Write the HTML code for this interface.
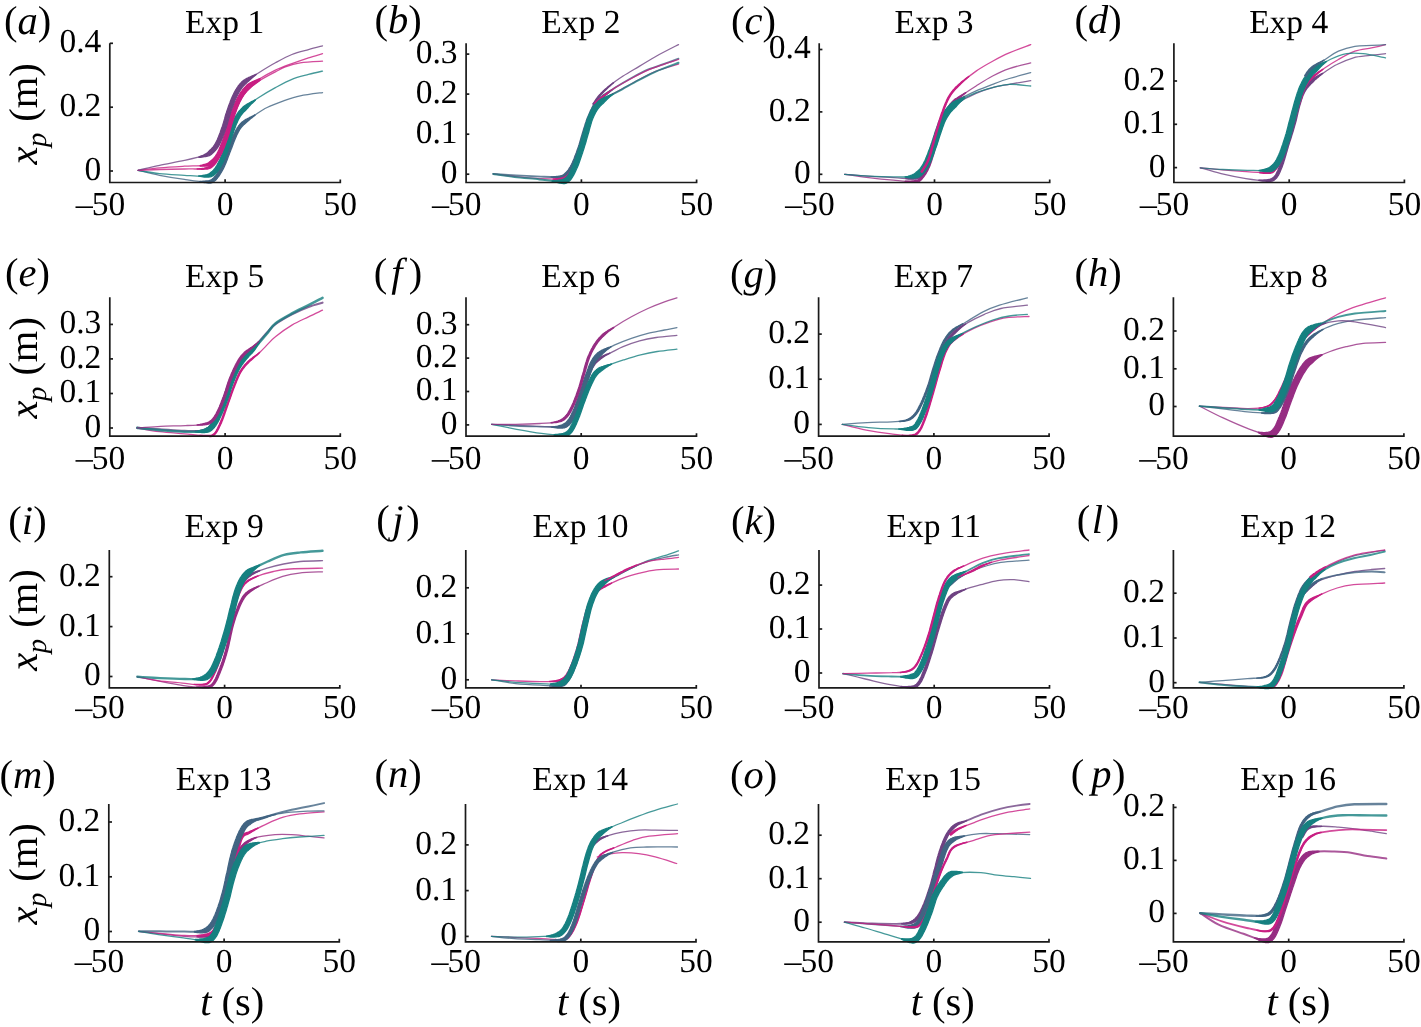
<!DOCTYPE html><html><head><meta charset="utf-8"><style>html,body{margin:0;padding:0;background:#fff;}svg{display:block;will-change:transform}text{font-family:"Liberation Serif",serif;fill:#000;text-rendering:geometricPrecision}</style></head><body>
<svg width="1421" height="1027" viewBox="0 0 1421 1027">
<rect width="1421" height="1027" fill="#fff"/>
<path d="M138.1,170.3C141.7,171.1 151.9,173.7 159.6,175.3C167.3,176.8 176.7,178.3 184.4,179.4C192.1,180.5 201.0,181.9 205.9,181.9C210.9,181.9 211.4,181.9 214.2,179.4C216.9,176.9 220.0,171.8 222.5,167.0C224.9,162.2 226.9,156.0 229.1,150.5C231.3,144.9 233.5,138.3 235.7,133.9C237.9,129.5 239.3,127.0 242.3,124.0C245.3,121.0 249.7,118.5 253.9,115.7C258.0,113.0 262.1,109.9 267.1,107.5C272.1,105.0 278.1,102.8 283.6,100.8C289.2,98.9 293.7,97.3 300.2,95.9C306.7,94.5 318.8,93.1 322.5,92.6" fill="none" stroke="#416482" stroke-width="1.3" stroke-opacity="0.8" stroke-linecap="round" stroke-linejoin="round"/>
<path d="M199.9,181.3 201.6,181.3 203.2,181.2 204.6,181.1 205.9,181.0 207.1,180.9 208.0,180.8 208.9,180.7 209.5,180.5 210.1,180.4 210.5,180.2 210.9,180.0 211.2,179.8 211.6,179.6 212.0,179.3 212.6,178.8 213.2,178.3 213.8,177.7 214.4,177.0 215.1,176.2 215.8,175.3 216.5,174.3 217.2,173.3 217.9,172.2 218.5,171.0 219.2,169.9 219.9,168.7 220.5,167.5 221.1,166.3 221.7,165.1 222.3,163.9 222.8,162.6 223.4,161.2 223.9,159.9 224.5,158.5 225.0,157.0 225.5,155.6 226.0,154.2 226.6,152.7 227.1,151.3 227.7,149.9 228.2,148.5 228.8,147.1 229.3,145.6 229.9,144.2 230.4,142.7 231.0,141.2 231.5,139.8 232.1,138.4 232.6,137.0 233.2,135.7 233.8,134.4 234.3,133.3 234.9,132.2 235.4,131.2 235.9,130.2 236.4,129.3 236.9,128.5 237.4,127.6 238.0,126.8 238.5,126.0 239.1,125.3 239.8,124.5 240.5,123.7 241.2,122.9 242.1,122.1 243.0,121.4 243.9,120.7 244.9,120.0 246.0,119.4 247.1,118.9 248.2,118.3 249.3,117.7 250.4,117.2 251.5,116.6 252.6,116.1 253.7,115.5 254.8,114.9 255.0,115.2 254.0,116.0 253.1,116.8 252.1,117.6 251.1,118.3 250.2,119.1 249.2,119.9 248.3,120.7 247.4,121.4 246.5,122.2 245.7,123.0 244.9,123.7 244.1,124.4 243.4,125.1 242.7,125.8 242.0,126.5 241.5,127.1 240.9,127.8 240.4,128.5 239.9,129.3 239.5,130.0 239.0,130.8 238.5,131.6 238.1,132.6 237.6,133.5 237.0,134.6 236.5,135.7 236.0,136.9 235.4,138.2 234.9,139.5 234.3,140.9 233.8,142.3 233.2,143.8 232.7,145.2 232.1,146.7 231.6,148.2 231.0,149.6 230.5,151.0 229.9,152.4 229.4,153.8 228.9,155.2 228.3,156.6 227.8,158.1 227.3,159.5 226.7,160.9 226.2,162.3 225.6,163.7 225.0,165.1 224.4,166.4 223.8,167.7 223.2,168.9 222.5,170.1 221.8,171.4 221.1,172.6 220.4,173.7 219.7,174.9 219.0,176.0 218.2,177.0 217.5,178.0 216.7,178.9 216.0,179.8 215.2,180.5 214.5,181.1 213.9,181.6 213.3,182.1 212.6,182.5 212.0,182.7 211.3,182.9 210.5,183.0 209.8,183.0 209.0,183.0 208.1,183.0 207.1,182.9 205.9,182.7 204.6,182.6 203.1,182.3 201.5,182.0 199.8,181.7Z" fill="#416482" stroke="#416482" stroke-width="1.3" stroke-linejoin="round"/>
<path d="M138.1,170.3C141.7,170.9 151.9,172.8 159.6,173.6C167.3,174.4 177.0,174.8 184.4,175.3C191.9,175.7 199.6,176.4 204.3,176.1C209.0,175.8 210.1,175.4 212.5,173.6C215.0,171.8 216.9,169.2 219.1,165.3C221.4,161.5 223.8,155.7 225.8,150.5C227.7,145.2 228.8,139.4 230.7,133.9C232.7,128.4 234.9,121.8 237.3,117.4C239.8,113.0 242.0,110.8 245.6,107.5C249.2,104.2 253.9,100.8 258.8,97.5C263.8,94.2 269.9,90.6 275.4,87.6C280.9,84.6 286.4,81.5 291.9,79.3C297.4,77.1 303.4,75.8 308.5,74.4C313.6,73.0 320.2,71.6 322.5,71.1" fill="none" stroke="#168080" stroke-width="1.3" stroke-opacity="0.8" stroke-linecap="round" stroke-linejoin="round"/>
<path d="M198.7,176.0 200.2,175.8 201.7,175.7 203.0,175.4 204.2,175.2 205.3,175.0 206.2,174.8 207.0,174.6 207.7,174.3 208.3,174.1 208.8,173.9 209.2,173.7 209.6,173.4 210.0,173.1 210.4,172.8 210.8,172.4 211.3,172.0 211.9,171.6 212.4,171.2 212.9,170.7 213.4,170.2 213.9,169.6 214.4,169.0 214.9,168.4 215.4,167.7 215.9,166.9 216.4,166.1 216.9,165.3 217.4,164.4 217.9,163.4 218.5,162.3 219.0,161.2 219.6,160.1 220.2,158.9 220.7,157.6 221.3,156.3 221.8,155.0 222.4,153.7 222.9,152.4 223.4,151.1 223.9,149.8 224.3,148.5 224.8,147.2 225.2,145.9 225.6,144.5 225.9,143.2 226.3,141.8 226.7,140.4 227.1,139.0 227.5,137.5 227.9,136.1 228.4,134.7 228.8,133.3 229.3,131.9 229.8,130.4 230.3,129.0 230.9,127.5 231.4,126.0 232.0,124.5 232.5,123.1 233.1,121.6 233.7,120.2 234.3,118.9 234.9,117.6 235.6,116.4 236.2,115.3 236.9,114.3 237.5,113.3 238.2,112.4 238.9,111.5 239.5,110.7 240.3,109.9 241.0,109.1 241.7,108.4 242.5,107.6 243.4,106.8 244.3,106.0 245.4,105.3 246.5,104.6 247.6,103.9 248.8,103.2 250.0,102.5 251.2,101.8 252.5,101.2 253.8,100.5 255.1,99.8 255.3,100.2 254.2,101.2 253.2,102.2 252.2,103.2 251.2,104.1 250.3,105.1 249.4,106.1 248.5,107.0 247.7,108.0 246.9,108.9 246.1,109.7 245.3,110.5 244.6,111.2 243.9,111.9 243.2,112.6 242.6,113.3 242.0,114.0 241.4,114.8 240.8,115.6 240.2,116.4 239.7,117.4 239.1,118.4 238.5,119.4 237.9,120.6 237.4,121.9 236.8,123.2 236.2,124.5 235.7,125.9 235.2,127.4 234.6,128.8 234.1,130.3 233.6,131.7 233.1,133.2 232.6,134.6 232.2,135.9 231.7,137.3 231.3,138.6 230.9,140.0 230.6,141.4 230.2,142.8 229.8,144.2 229.4,145.6 229.0,147.0 228.6,148.4 228.1,149.8 227.6,151.1 227.1,152.5 226.6,153.8 226.1,155.2 225.5,156.5 225.0,157.9 224.4,159.2 223.8,160.5 223.2,161.8 222.6,163.0 222.0,164.2 221.5,165.3 220.9,166.3 220.3,167.3 219.8,168.2 219.2,169.1 218.7,169.9 218.1,170.7 217.5,171.5 216.9,172.2 216.3,172.9 215.7,173.5 215.1,174.1 214.4,174.7 213.7,175.2 213.1,175.7 212.4,176.0 211.8,176.3 211.1,176.6 210.4,176.8 209.7,176.9 209.0,177.0 208.2,177.1 207.4,177.1 206.4,177.1 205.4,177.0 204.3,177.0 203.0,176.8 201.7,176.7 200.2,176.4 198.7,176.2Z" fill="#168080" stroke="#168080" stroke-width="1.3" stroke-linejoin="round"/>
<path d="M138.1,170.3C141.7,170.2 151.9,169.7 159.6,169.5C167.3,169.3 177.0,169.1 184.4,169.0C191.9,168.8 199.6,169.3 204.3,168.6C209.0,168.0 210.1,167.5 212.5,165.3C215.0,163.1 216.9,159.8 219.1,155.4C221.4,151.0 223.6,145.2 225.8,138.9C228.0,132.5 230.2,123.7 232.4,117.4C234.6,111.0 236.5,105.5 239.0,100.8C241.5,96.2 244.0,92.6 247.3,89.3C250.6,86.0 254.2,83.9 258.8,81.0C263.5,78.1 271.0,74.2 275.4,71.9C279.8,69.6 281.2,68.5 285.3,66.9C289.4,65.4 294.0,63.8 300.2,62.8C306.4,61.8 318.8,61.4 322.5,61.2" fill="none" stroke="#c81e82" stroke-width="1.3" stroke-opacity="0.8" stroke-linecap="round" stroke-linejoin="round"/>
<path d="M197.1,168.9 198.7,168.8 200.2,168.6 201.7,168.5 203.0,168.3 204.2,168.1 205.3,167.8 206.2,167.6 207.0,167.4 207.7,167.2 208.3,167.0 208.9,166.7 209.4,166.5 209.8,166.2 210.3,165.9 210.8,165.5 211.3,165.1 211.9,164.6 212.4,164.1 213.0,163.5 213.5,162.8 214.1,162.2 214.6,161.4 215.1,160.7 215.6,159.8 216.1,159.0 216.7,158.0 217.2,157.1 217.7,156.0 218.3,155.0 218.8,153.9 219.3,152.7 219.9,151.5 220.4,150.2 221.0,148.9 221.5,147.5 222.1,146.1 222.6,144.7 223.2,143.2 223.7,141.7 224.3,140.1 224.8,138.6 225.4,136.9 225.9,135.2 226.5,133.4 227.0,131.6 227.6,129.7 228.1,127.9 228.7,126.0 229.2,124.1 229.8,122.2 230.3,120.4 230.9,118.7 231.4,117.1 232.0,115.5 232.5,113.9 233.1,112.4 233.6,111.0 234.1,109.5 234.7,108.1 235.2,106.8 235.7,105.4 236.3,104.1 236.9,102.8 237.5,101.6 238.1,100.4 238.7,99.2 239.4,98.1 240.0,97.0 240.7,96.0 241.3,94.9 242.0,94.0 242.7,93.0 243.4,92.1 244.2,91.2 244.9,90.3 245.7,89.4 246.6,88.6 247.4,87.7 248.3,86.9 249.2,86.2 250.2,85.6 251.1,85.0 252.1,84.4 253.1,83.8 254.2,83.2 255.3,82.7 256.4,82.1 257.5,81.5 258.7,80.8 260.0,80.2 260.1,80.3 258.9,81.2 257.8,81.9 256.8,82.7 255.8,83.4 254.8,84.2 253.8,84.9 252.9,85.6 252.1,86.3 251.2,87.0 250.4,87.7 249.6,88.5 248.8,89.2 248.0,90.0 247.2,90.8 246.4,91.6 245.7,92.5 245.0,93.3 244.3,94.2 243.6,95.1 243.0,96.1 242.3,97.0 241.7,98.0 241.1,99.1 240.5,100.2 239.9,101.3 239.3,102.5 238.7,103.7 238.1,104.9 237.6,106.2 237.0,107.5 236.5,108.9 236.0,110.2 235.5,111.7 234.9,113.1 234.4,114.6 233.9,116.1 233.3,117.7 232.8,119.3 232.2,121.0 231.7,122.8 231.1,124.6 230.6,126.5 230.0,128.4 229.5,130.3 228.9,132.2 228.4,134.0 227.8,135.8 227.3,137.6 226.7,139.2 226.2,140.8 225.6,142.3 225.0,143.9 224.5,145.4 223.9,146.8 223.4,148.2 222.8,149.6 222.3,151.0 221.7,152.3 221.2,153.5 220.6,154.7 220.0,155.9 219.5,157.0 218.9,158.0 218.4,159.0 217.9,160.0 217.3,160.9 216.8,161.7 216.2,162.6 215.7,163.4 215.1,164.1 214.5,164.8 213.8,165.5 213.2,166.1 212.6,166.6 212.0,167.1 211.4,167.5 210.8,167.9 210.2,168.2 209.6,168.5 208.9,168.7 208.2,168.8 207.3,169.0 206.5,169.1 205.5,169.1 204.3,169.2 203.1,169.3 201.7,169.3 200.2,169.2 198.7,169.1 197.1,169.0Z" fill="#c81e82" stroke="#c81e82" stroke-width="1.3" stroke-linejoin="round"/>
<path d="M138.1,170.3C141.7,169.9 151.9,168.5 159.6,167.8C167.3,167.1 177.0,166.6 184.4,166.2C191.9,165.8 199.6,166.0 204.3,165.3C209.0,164.7 210.1,164.0 212.5,162.0C215.0,160.1 216.9,157.9 219.1,153.8C221.4,149.6 223.6,143.6 225.8,137.2C228.0,130.9 230.2,122.1 232.4,115.7C234.6,109.4 236.5,103.9 239.0,99.2C241.5,94.5 244.0,90.9 247.3,87.6C250.6,84.3 254.2,82.2 258.8,79.3C263.5,76.5 269.9,72.9 275.4,70.2C280.9,67.6 286.4,65.7 291.9,63.6C297.4,61.6 303.4,59.5 308.5,57.8C313.6,56.2 320.2,54.4 322.5,53.7" fill="none" stroke="#c81e82" stroke-width="1.3" stroke-opacity="0.8" stroke-linecap="round" stroke-linejoin="round"/>
<path d="M200.2,165.4 201.7,165.2 203.0,164.8 204.1,164.5 205.2,164.2 206.1,163.9 206.9,163.6 207.6,163.3 208.1,163.0 208.6,162.7 209.0,162.4 209.5,162.1 209.8,161.7 210.3,161.3 210.7,160.9 211.3,160.5 211.9,160.0 212.4,159.5 212.9,159.1 213.4,158.6 213.9,158.0 214.4,157.5 214.9,156.8 215.4,156.2 215.9,155.4 216.4,154.6 216.9,153.8 217.4,152.8 217.9,151.8 218.4,150.7 219.0,149.5 219.5,148.3 220.1,147.0 220.6,145.6 221.1,144.2 221.7,142.7 222.2,141.2 222.8,139.7 223.3,138.1 223.9,136.6 224.4,135.0 225.0,133.3 225.5,131.5 226.1,129.7 226.6,127.8 227.2,125.9 227.7,124.0 228.3,122.1 228.8,120.3 229.4,118.5 229.9,116.7 230.5,115.1 231.0,113.5 231.6,112.0 232.1,110.5 232.6,109.0 233.2,107.5 233.7,106.1 234.3,104.7 234.8,103.4 235.4,102.0 236.0,100.8 236.6,99.5 237.2,98.3 237.9,97.1 238.5,95.9 239.2,94.8 239.8,93.8 240.5,92.7 241.2,91.7 241.9,90.8 242.6,89.8 243.4,88.9 244.2,88.0 245.0,87.1 245.9,86.2 246.7,85.3 247.6,84.5 248.6,83.8 249.6,83.2 250.7,82.7 251.7,82.1 252.8,81.6 253.9,81.1 255.0,80.6 256.2,80.1 257.4,79.6 258.6,79.0 260.0,78.5 260.1,78.7 259.0,79.7 258.0,80.5 257.0,81.4 256.0,82.2 255.1,83.0 254.2,83.7 253.3,84.5 252.5,85.3 251.8,86.0 251.0,86.8 250.3,87.6 249.5,88.3 248.7,89.0 247.9,89.8 247.2,90.6 246.5,91.4 245.8,92.3 245.1,93.2 244.4,94.0 243.8,95.0 243.2,95.9 242.6,96.9 242.0,97.9 241.4,99.0 240.8,100.1 240.2,101.3 239.6,102.4 239.1,103.7 238.5,104.9 238.0,106.2 237.4,107.6 236.9,108.9 236.4,110.3 235.9,111.8 235.3,113.3 234.8,114.8 234.3,116.4 233.7,118.0 233.2,119.7 232.6,121.5 232.1,123.3 231.5,125.1 231.0,127.0 230.4,128.9 229.9,130.8 229.3,132.7 228.8,134.5 228.2,136.2 227.7,137.9 227.1,139.5 226.5,141.0 226.0,142.6 225.4,144.1 224.9,145.6 224.3,147.0 223.8,148.5 223.2,149.8 222.6,151.1 222.1,152.4 221.5,153.6 220.9,154.7 220.3,155.7 219.8,156.7 219.2,157.6 218.6,158.5 218.1,159.2 217.5,160.0 216.9,160.7 216.3,161.3 215.7,161.9 215.1,162.5 214.4,163.1 213.8,163.6 213.1,164.1 212.5,164.5 211.9,164.8 211.2,165.1 210.5,165.4 209.8,165.6 209.1,165.8 208.3,165.9 207.5,166.0 206.6,166.1 205.5,166.1 204.4,166.2 203.1,166.1 201.7,166.1 200.2,166.0Z" fill="#c81e82" stroke="#c81e82" stroke-width="1.3" stroke-linejoin="round"/>
<path d="M138.1,170.3C141.7,169.5 151.9,167.0 159.6,165.3C167.3,163.7 177.0,162.0 184.4,160.4C191.9,158.8 199.9,157.1 204.3,155.7C208.7,154.4 208.7,154.1 210.9,152.1C213.1,150.1 215.3,148.0 217.5,143.8C219.7,139.7 222.2,132.8 224.1,127.3C226.0,121.8 227.1,116.3 229.1,110.8C231.0,105.3 233.2,98.9 235.7,94.2C238.2,89.5 240.1,86.2 244.0,82.7C247.8,79.1 253.6,76.0 258.8,72.7C264.1,69.4 269.9,65.8 275.4,62.8C280.9,59.8 286.4,56.7 291.9,54.5C297.4,52.3 303.4,51.0 308.5,49.6C313.6,48.1 320.2,46.5 322.5,45.9" fill="none" stroke="#6e4282" stroke-width="1.3" stroke-opacity="0.8" stroke-linecap="round" stroke-linejoin="round"/>
<path d="M198.8,157.0 200.2,156.4 201.6,155.8 202.9,155.3 204.0,154.8 204.9,154.3 205.7,153.9 206.3,153.5 206.8,153.2 207.2,153.0 207.5,152.7 207.8,152.5 208.0,152.2 208.3,151.9 208.6,151.5 209.0,151.1 209.5,150.6 210.1,150.1 210.6,149.6 211.1,149.1 211.6,148.6 212.2,148.1 212.7,147.5 213.2,146.9 213.7,146.2 214.2,145.5 214.7,144.7 215.2,143.8 215.7,142.9 216.3,141.9 216.8,140.7 217.4,139.5 217.9,138.2 218.5,136.8 219.0,135.4 219.6,133.9 220.2,132.4 220.7,130.9 221.2,129.5 221.7,128.0 222.2,126.7 222.7,125.3 223.1,124.0 223.5,122.6 223.9,121.2 224.3,119.9 224.7,118.5 225.0,117.1 225.4,115.7 225.8,114.3 226.3,112.9 226.7,111.5 227.2,110.1 227.7,108.7 228.2,107.3 228.7,105.8 229.2,104.4 229.8,102.9 230.3,101.5 230.9,100.0 231.5,98.6 232.0,97.2 232.7,95.9 233.3,94.5 233.9,93.3 234.5,92.1 235.1,91.0 235.7,89.9 236.4,88.9 237.0,87.9 237.7,86.9 238.3,85.9 239.1,85.0 239.9,84.0 240.7,83.1 241.6,82.1 242.6,81.2 243.7,80.2 244.9,79.5 246.2,78.7 247.6,78.1 248.9,77.4 250.4,76.8 251.8,76.1 253.2,75.5 254.7,74.9 256.1,74.3 256.2,74.4 255.0,75.4 253.8,76.4 252.6,77.4 251.4,78.4 250.3,79.4 249.2,80.4 248.1,81.4 247.1,82.3 246.2,83.3 245.3,84.1 244.4,85.0 243.6,85.8 242.9,86.6 242.2,87.4 241.6,88.3 241.0,89.2 240.4,90.0 239.8,91.0 239.2,91.9 238.6,93.0 238.1,94.0 237.5,95.2 236.9,96.3 236.3,97.5 235.7,98.8 235.1,100.1 234.6,101.5 234.0,102.9 233.5,104.3 233.0,105.8 232.5,107.2 231.9,108.6 231.4,110.0 231.0,111.4 230.5,112.8 230.1,114.1 229.7,115.5 229.3,116.8 228.9,118.2 228.5,119.6 228.1,120.9 227.7,122.3 227.3,123.7 226.9,125.1 226.5,126.5 226.0,128.0 225.5,129.4 225.0,130.8 224.5,132.3 223.9,133.8 223.3,135.3 222.8,136.8 222.2,138.3 221.6,139.7 221.0,141.1 220.4,142.4 219.8,143.6 219.3,144.8 218.7,145.8 218.1,146.8 217.5,147.7 216.9,148.6 216.3,149.3 215.7,150.1 215.1,150.8 214.5,151.4 213.9,152.0 213.4,152.5 212.8,153.1 212.2,153.6 211.7,154.1 211.2,154.4 210.8,154.7 210.3,155.1 209.8,155.3 209.3,155.6 208.7,155.8 208.1,156.0 207.4,156.2 206.6,156.4 205.6,156.6 204.6,156.7 203.3,156.9 202.0,157.1 200.5,157.3 198.9,157.4Z" fill="#6e4282" stroke="#6e4282" stroke-width="1.3" stroke-linejoin="round"/>
<path d="M109.8,43.3 V182.5 H340.3 V179.5" fill="none" stroke="#1a1a1a" stroke-width="1.7"/>
<line x1="109.8" y1="171.0" x2="113.0" y2="171.0" stroke="#1a1a1a" stroke-width="1.7"/>
<text x="101.3" y="179.9" font-size="33.5" text-anchor="end" transform="matrix(1 0 0 1 0.00 0.00)">0</text>
<line x1="109.8" y1="107.2" x2="113.0" y2="107.2" stroke="#1a1a1a" stroke-width="1.7"/>
<text x="101.3" y="116.1" font-size="33.5" text-anchor="end" transform="matrix(1 0 0 1 0.00 0.00)">0.2</text>
<line x1="109.8" y1="43.3" x2="113.0" y2="43.3" stroke="#1a1a1a" stroke-width="1.7"/>
<text x="101.3" y="52.2" font-size="33.5" text-anchor="end" transform="matrix(1 0 0 1 0.00 0.00)">0.4</text>
<line x1="225.1" y1="182.5" x2="225.1" y2="179.3" stroke="#1a1a1a" stroke-width="1.7"/>
<text x="225.1" y="215.1" font-size="33.5" text-anchor="middle" transform="matrix(1 0 0 1 0.00 0.00)">0</text>
<text x="340.3" y="215.1" font-size="33.5" text-anchor="middle" transform="matrix(1 0 0 1 0.00 0.00)">50</text>
<text x="108.5" y="215.1" font-size="33.5" text-anchor="middle" transform="matrix(1 0 0 1 0.00 0.00)">50</text>
<rect x="75.5" y="206.4" width="17.5" height="1.6" fill="#000"/>
<text x="224.6" y="32.8" font-size="33.5" text-anchor="middle" transform="matrix(1 0 0 1 0.00 0.00)">Exp 1</text>
<text x="27.5" y="34.3" font-size="40.5" text-anchor="middle">(<tspan font-style="italic" dx="0">a</tspan><tspan dx="0">)</tspan></text>
<path d="M493.3,173.9C497.1,174.2 508.2,174.8 516.1,175.3C524.0,175.7 533.7,176.3 540.9,176.6C548.1,176.9 555.0,177.3 559.1,176.9C563.2,176.6 563.5,176.4 565.7,174.4C567.9,172.5 570.1,169.6 572.3,165.3C574.5,161.1 577.0,154.3 579.0,148.8C580.9,143.3 582.3,137.5 583.9,132.3C585.6,127.0 586.9,122.1 588.9,117.4C590.8,112.7 593.0,107.7 595.5,104.2C598.0,100.6 600.5,98.6 603.8,95.9C607.1,93.1 610.6,90.6 615.3,87.6C620.0,84.6 626.4,80.7 631.9,77.7C637.4,74.7 642.9,71.8 648.4,69.4C653.9,67.1 659.9,65.4 664.9,63.6C670.0,61.8 676.2,59.5 678.5,58.7" fill="none" stroke="#416482" stroke-width="1.8" stroke-opacity="0.8" stroke-linecap="round" stroke-linejoin="round"/>
<path d="M551.2,176.9 552.7,176.8 554.1,176.7 555.5,176.6 556.8,176.4 558.0,176.3 559.0,176.1 560.0,176.0 560.8,175.8 561.4,175.7 562.0,175.5 562.4,175.4 562.7,175.2 563.0,175.0 563.3,174.8 563.6,174.6 564.0,174.3 564.4,174.0 564.9,173.5 565.4,173.1 566.0,172.6 566.5,172.0 567.0,171.4 567.5,170.8 568.1,170.1 568.6,169.3 569.1,168.5 569.7,167.7 570.2,166.8 570.7,165.8 571.3,164.8 571.8,163.7 572.4,162.5 572.9,161.3 573.5,159.9 574.1,158.5 574.6,157.1 575.2,155.6 575.7,154.2 576.3,152.7 576.8,151.2 577.3,149.8 577.8,148.4 578.3,147.0 578.7,145.7 579.2,144.3 579.6,142.9 580.0,141.5 580.4,140.1 580.8,138.7 581.2,137.3 581.6,136.0 582.0,134.6 582.4,133.2 582.8,131.9 583.2,130.6 583.6,129.3 584.0,128.0 584.4,126.8 584.8,125.5 585.1,124.3 585.6,123.0 586.0,121.8 586.4,120.5 586.8,119.3 587.3,118.1 587.8,116.9 588.3,115.7 588.8,114.6 589.3,113.4 589.8,112.2 590.3,111.0 590.9,109.8 591.5,108.7 592.0,107.6 592.6,106.5 593.2,105.4 593.9,104.4 594.5,103.5 595.1,102.6 595.8,101.7 596.5,100.9 597.1,100.2 597.8,99.5 598.5,98.8 599.2,98.2 599.9,97.6 600.6,96.9 601.4,96.3 602.3,95.7 603.1,95.1 604.0,94.5 605.0,93.9 605.9,93.3 606.8,92.7 607.8,92.1 608.8,91.5 609.8,90.9 610.9,90.3 612.0,89.7 612.1,89.9 611.1,90.6 610.2,91.4 609.3,92.2 608.4,92.9 607.5,93.7 606.7,94.4 605.9,95.1 605.1,95.9 604.4,96.6 603.6,97.4 602.9,98.1 602.2,98.7 601.5,99.4 600.8,100.0 600.1,100.6 599.5,101.2 598.9,101.8 598.3,102.5 597.7,103.2 597.1,104.0 596.5,104.8 595.9,105.7 595.3,106.7 594.7,107.7 594.2,108.7 593.6,109.8 593.1,110.9 592.5,112.0 592.0,113.2 591.5,114.3 591.0,115.5 590.5,116.7 590.0,117.8 589.5,119.0 589.1,120.2 588.6,121.3 588.2,122.5 587.8,123.8 587.4,125.0 587.0,126.2 586.7,127.5 586.3,128.7 585.9,130.0 585.5,131.3 585.1,132.6 584.7,133.9 584.3,135.3 583.9,136.6 583.5,138.0 583.1,139.4 582.7,140.8 582.3,142.2 581.9,143.6 581.5,145.0 581.0,146.4 580.6,147.8 580.1,149.2 579.6,150.6 579.1,152.1 578.5,153.5 578.0,155.0 577.4,156.5 576.9,158.0 576.3,159.4 575.7,160.8 575.1,162.2 574.6,163.5 574.0,164.7 573.4,165.9 572.8,167.0 572.3,168.0 571.7,168.9 571.1,169.8 570.6,170.7 570.0,171.5 569.4,172.2 568.8,172.9 568.3,173.6 567.7,174.2 567.1,174.8 566.5,175.3 566.0,175.8 565.5,176.2 565.0,176.6 564.6,176.9 564.1,177.1 563.5,177.3 563.0,177.5 562.4,177.6 561.7,177.6 561.0,177.7 560.1,177.7 559.2,177.7 558.1,177.7 556.8,177.6 555.5,177.5 554.1,177.4 552.7,177.3 551.1,177.1Z" fill="#416482" stroke="#416482" stroke-width="1.3" stroke-linejoin="round"/>
<path d="M593.3,104.2C594.4,102.6 596.9,98.4 600.0,95.1C603.0,91.7 607.7,87.5 611.5,84.3C615.4,81.1 618.4,79.1 623.1,76.0C627.8,73.0 634.1,69.4 639.6,66.1C645.2,62.8 649.7,59.8 656.2,56.2C662.7,52.6 674.8,46.5 678.5,44.6" fill="none" stroke="#6e4282" stroke-width="1.3" stroke-opacity="0.8" stroke-linecap="round" stroke-linejoin="round"/>
<path d="M592.9,103.9 593.2,103.4 593.6,102.9 594.0,102.3 594.5,101.6 595.0,100.8 595.5,100.0 596.1,99.1 596.7,98.3 597.4,97.4 598.1,96.5 598.8,95.6 599.6,94.7 600.4,93.9 601.2,93.0 602.1,92.1 603.1,91.1 604.1,90.2 605.1,89.3 606.2,88.4 607.3,87.5 608.3,86.6 609.4,85.8 610.4,85.0 611.4,84.2 612.4,83.4 613.4,82.7 613.5,82.9 612.6,83.6 611.6,84.4 610.7,85.3 609.7,86.2 608.7,87.1 607.7,88.0 606.7,89.0 605.7,90.0 604.8,90.9 603.8,91.9 602.9,92.8 602.0,93.7 601.1,94.6 600.3,95.4 599.6,96.2 598.9,97.1 598.2,98.0 597.5,98.8 596.9,99.7 596.3,100.6 595.8,101.4 595.3,102.1 594.8,102.8 594.4,103.5 594.1,104.0 593.7,104.4Z" fill="#6e4282" stroke="#6e4282" stroke-width="1.3" stroke-linejoin="round"/>
<path d="M595.0,103.3C596.4,102.1 600.0,98.8 603.3,96.2C606.6,93.6 610.2,90.9 614.8,87.9C619.5,85.0 625.9,81.5 631.4,78.5C636.9,75.6 642.4,72.6 647.9,70.2C653.4,67.9 659.4,65.9 664.5,64.1C669.6,62.3 676.2,60.3 678.5,59.5" fill="none" stroke="#c81e82" stroke-width="1.3" stroke-opacity="0.8" stroke-linecap="round" stroke-linejoin="round"/>
<path d="M594.7,102.9 595.1,102.6 595.5,102.2 596.1,101.7 596.7,101.2 597.4,100.6 598.1,99.9 598.8,99.2 599.6,98.6 600.5,97.9 601.3,97.2 602.2,96.6 603.1,96.0 603.9,95.3 604.8,94.7 605.7,94.1 606.6,93.5 607.5,92.8 608.5,92.2 608.6,92.3 607.7,93.0 606.8,93.7 605.9,94.4 605.1,95.1 604.3,95.8 603.5,96.5 602.7,97.1 601.8,97.9 601.0,98.6 600.3,99.3 599.5,100.0 598.7,100.7 598.0,101.3 597.3,101.9 596.7,102.4 596.2,102.9 595.7,103.4 595.3,103.7Z" fill="#c81e82" stroke="#c81e82" stroke-width="1.3" stroke-linejoin="round"/>
<path d="M493.3,173.9C497.0,174.4 507.8,175.8 515.6,176.6C523.5,177.4 533.0,178.2 540.4,178.6C547.9,179.0 555.7,179.3 560.3,178.9C564.8,178.5 565.4,178.2 567.7,176.1C570.0,174.0 572.1,170.7 574.3,166.2C576.5,161.6 579.0,154.5 580.9,148.8C582.9,143.2 584.2,137.6 585.9,132.3C587.6,126.9 588.9,121.1 590.9,116.6C592.8,112.0 594.9,108.1 597.5,105.0C600.1,101.8 602.3,100.3 606.6,97.5C610.8,94.8 617.6,91.5 623.1,88.4C628.6,85.4 634.1,82.2 639.6,79.3C645.2,76.5 649.7,73.6 656.2,71.1C662.7,68.5 674.8,65.3 678.5,64.1" fill="none" stroke="#c81e82" stroke-width="1.3" stroke-opacity="0.8" stroke-linecap="round" stroke-linejoin="round"/>
<path d="M553.1,178.9 554.8,178.8 556.3,178.7 557.7,178.6 559.0,178.4 560.2,178.3 561.2,178.1 562.1,177.9 562.9,177.8 563.5,177.6 564.0,177.4 564.5,177.2 564.8,177.0 565.2,176.8 565.6,176.6 566.0,176.2 566.5,175.8 567.0,175.4 567.6,174.8 568.1,174.3 568.6,173.6 569.2,173.0 569.7,172.3 570.2,171.5 570.8,170.7 571.3,169.8 571.8,168.9 572.3,167.9 572.9,166.8 573.4,165.7 574.0,164.6 574.5,163.3 575.1,162.0 575.7,160.5 576.2,159.1 576.8,157.6 577.4,156.0 577.9,154.5 578.5,152.9 579.0,151.4 579.5,149.9 580.0,148.5 580.5,147.1 580.9,145.7 581.3,144.3 581.8,142.9 582.2,141.5 582.6,140.2 583.0,138.8 583.3,137.4 583.7,136.0 584.1,134.7 584.5,133.3 584.9,132.0 585.3,130.6 585.7,129.3 586.1,127.9 586.5,126.5 586.9,125.2 587.3,123.8 587.7,122.5 588.1,121.1 588.6,119.9 589.0,118.6 589.5,117.4 589.9,116.2 590.4,115.0 590.9,113.9 591.4,112.8 592.0,111.8 592.5,110.8 593.0,109.8 593.6,108.8 594.2,107.8 594.8,106.9 595.4,106.0 596.0,105.2 596.7,104.3 597.4,103.6 598.0,102.8 598.7,102.2 599.4,101.5 600.1,100.9 600.8,100.3 601.5,99.8 602.4,99.3 603.2,98.7 604.2,98.2 605.2,97.6 606.3,97.0 607.4,96.4 608.7,95.8 610.0,95.1 611.4,94.5 612.9,93.8 613.0,93.9 611.6,94.8 610.3,95.6 609.1,96.4 607.9,97.3 606.9,98.0 605.9,98.8 605.0,99.4 604.2,100.1 603.4,100.7 602.7,101.3 602.0,101.9 601.4,102.4 600.7,103.0 600.1,103.6 599.5,104.2 598.9,104.9 598.2,105.6 597.6,106.4 597.0,107.2 596.4,108.0 595.9,108.9 595.3,109.8 594.8,110.7 594.3,111.7 593.7,112.7 593.2,113.7 592.7,114.8 592.3,115.8 591.8,116.9 591.3,118.1 590.9,119.3 590.5,120.5 590.0,121.8 589.6,123.1 589.2,124.4 588.8,125.7 588.5,127.1 588.1,128.5 587.7,129.8 587.3,131.2 586.9,132.6 586.4,133.9 586.0,135.2 585.7,136.6 585.3,138.0 584.9,139.3 584.5,140.7 584.1,142.1 583.7,143.5 583.2,144.9 582.8,146.3 582.4,147.7 581.9,149.1 581.4,150.6 580.9,152.1 580.3,153.6 579.8,155.1 579.2,156.7 578.7,158.2 578.1,159.8 577.5,161.3 576.9,162.7 576.4,164.1 575.8,165.4 575.2,166.6 574.7,167.7 574.1,168.8 573.6,169.8 573.0,170.8 572.5,171.7 571.9,172.6 571.3,173.4 570.8,174.2 570.2,174.9 569.6,175.6 569.0,176.2 568.4,176.8 567.8,177.3 567.3,177.8 566.8,178.2 566.3,178.5 565.7,178.8 565.2,179.0 564.5,179.2 563.9,179.3 563.2,179.4 562.3,179.5 561.4,179.5 560.3,179.5 559.1,179.5 557.7,179.5 556.3,179.4 554.8,179.3 553.1,179.2Z" fill="#c81e82" stroke="#c81e82" stroke-width="1.3" stroke-linejoin="round"/>
<path d="M493.3,173.9C496.8,174.4 506.9,176.0 514.6,176.9C522.3,177.8 532.0,178.6 539.4,179.4C546.9,180.2 554.6,181.5 559.3,181.5C564.0,181.5 565.1,181.5 567.5,179.4C570.0,177.2 572.0,173.5 574.2,168.6C576.4,163.8 578.8,156.2 580.8,150.5C582.7,144.7 584.1,139.4 585.7,133.9C587.4,128.4 588.8,122.1 590.7,117.4C592.6,112.7 594.6,109.1 597.3,105.8C600.1,102.5 603.1,100.3 607.2,97.5C611.4,94.8 616.9,92.2 622.1,89.3C627.4,86.4 633.1,83.1 638.7,80.2C644.2,77.3 648.5,74.8 655.2,71.9C661.8,69.0 674.6,64.3 678.5,62.8" fill="none" stroke="#168080" stroke-width="2.0" stroke-opacity="0.8" stroke-linecap="round" stroke-linejoin="round"/>
<path d="M552.1,180.8 553.7,180.7 555.3,180.6 556.8,180.5 558.1,180.3 559.3,180.1 560.4,179.9 561.3,179.8 562.1,179.6 562.8,179.4 563.3,179.2 563.7,179.1 564.0,178.9 564.3,178.7 564.7,178.6 565.0,178.3 565.5,178.0 566.0,177.6 566.4,177.1 566.9,176.6 567.4,176.0 567.9,175.4 568.4,174.6 568.9,173.8 569.4,172.9 569.9,172.0 570.4,171.0 570.9,169.9 571.4,168.8 572.0,167.7 572.5,166.4 573.1,165.1 573.6,163.7 574.2,162.2 574.7,160.7 575.3,159.1 575.9,157.5 576.4,155.9 577.0,154.3 577.5,152.7 578.0,151.2 578.5,149.7 579.0,148.3 579.4,146.9 579.8,145.5 580.2,144.1 580.7,142.8 581.1,141.4 581.4,140.1 581.8,138.7 582.2,137.3 582.6,136.0 583.0,134.6 583.4,133.2 583.8,131.9 584.2,130.5 584.6,129.0 585.0,127.6 585.4,126.1 585.8,124.7 586.2,123.3 586.6,121.8 587.1,120.4 587.5,119.1 588.0,117.7 588.5,116.5 589.0,115.3 589.5,114.1 590.0,113.0 590.5,112.0 591.0,110.9 591.6,109.9 592.2,108.9 592.8,107.9 593.4,107.0 594.1,106.1 594.7,105.2 595.5,104.3 596.2,103.4 597.0,102.6 597.8,101.8 598.6,101.0 599.4,100.3 600.3,99.6 601.2,99.1 602.2,98.5 603.3,98.0 604.3,97.5 605.4,97.0 606.6,96.5 607.8,96.0 609.0,95.5 610.3,95.0 611.6,94.5 613.0,94.1 613.0,94.2 611.9,95.1 610.8,96.0 609.8,96.8 608.8,97.7 607.9,98.6 607.0,99.4 606.2,100.2 605.4,101.0 604.6,101.8 603.9,102.6 603.3,103.3 602.5,103.9 601.8,104.6 601.1,105.2 600.4,105.9 599.8,106.6 599.2,107.3 598.5,108.1 597.9,108.9 597.4,109.7 596.8,110.5 596.3,111.4 595.8,112.3 595.3,113.2 594.8,114.1 594.3,115.1 593.9,116.1 593.4,117.2 592.9,118.3 592.5,119.4 592.0,120.6 591.6,121.9 591.2,123.2 590.8,124.6 590.4,126.0 590.0,127.4 589.6,128.8 589.2,130.3 588.9,131.7 588.4,133.2 588.0,134.6 587.6,136.0 587.2,137.3 586.8,138.7 586.4,140.0 586.1,141.4 585.7,142.8 585.3,144.1 584.8,145.5 584.4,146.9 584.0,148.3 583.5,149.8 583.0,151.2 582.6,152.7 582.0,154.2 581.5,155.8 581.0,157.4 580.4,159.1 579.8,160.7 579.3,162.3 578.7,163.9 578.1,165.5 577.5,166.9 576.9,168.3 576.3,169.6 575.8,170.8 575.2,172.0 574.7,173.1 574.1,174.2 573.6,175.2 573.0,176.2 572.4,177.2 571.8,178.1 571.2,179.0 570.6,179.8 569.9,180.5 569.1,181.2 568.4,181.8 567.8,182.3 567.1,182.7 566.3,183.1 565.6,183.4 564.7,183.5 563.9,183.5 563.1,183.5 562.3,183.4 561.4,183.3 560.4,183.2 559.3,183.0 558.0,182.7 556.6,182.4 555.2,182.1 553.6,181.6 552.1,181.2Z" fill="#168080" stroke="#168080" stroke-width="1.3" stroke-linejoin="round"/>
<path d="M466.1,43.3 V182.5 H696.6 V179.5" fill="none" stroke="#1a1a1a" stroke-width="1.7"/>
<line x1="466.1" y1="174.2" x2="469.3" y2="174.2" stroke="#1a1a1a" stroke-width="1.7"/>
<text x="457.6" y="183.1" font-size="33.5" text-anchor="end" transform="matrix(1 0 0 1 0.00 0.00)">0</text>
<line x1="466.1" y1="134.2" x2="469.3" y2="134.2" stroke="#1a1a1a" stroke-width="1.7"/>
<text x="457.6" y="143.1" font-size="33.5" text-anchor="end" transform="matrix(1 0 0 1 0.00 0.00)">0.1</text>
<line x1="466.1" y1="94.1" x2="469.3" y2="94.1" stroke="#1a1a1a" stroke-width="1.7"/>
<text x="457.6" y="103.0" font-size="33.5" text-anchor="end" transform="matrix(1 0 0 1 0.00 0.00)">0.2</text>
<line x1="466.1" y1="54.1" x2="469.3" y2="54.1" stroke="#1a1a1a" stroke-width="1.7"/>
<text x="457.6" y="63.0" font-size="33.5" text-anchor="end" transform="matrix(1 0 0 1 0.00 0.00)">0.3</text>
<line x1="581.4" y1="182.5" x2="581.4" y2="179.3" stroke="#1a1a1a" stroke-width="1.7"/>
<text x="581.4" y="215.1" font-size="33.5" text-anchor="middle" transform="matrix(1 0 0 1 0.00 0.00)">0</text>
<text x="696.6" y="215.1" font-size="33.5" text-anchor="middle" transform="matrix(1 0 0 1 0.00 0.00)">50</text>
<text x="464.8" y="215.1" font-size="33.5" text-anchor="middle" transform="matrix(1 0 0 1 0.00 0.00)">50</text>
<rect x="431.8" y="206.4" width="17.5" height="1.6" fill="#000"/>
<text x="580.9" y="32.8" font-size="33.5" text-anchor="middle" transform="matrix(1 0 0 1 0.00 0.00)">Exp 2</text>
<text x="398.0" y="32.6" font-size="40.5" text-anchor="middle">(<tspan font-style="italic" dx="0">b</tspan><tspan dx="0">)</tspan></text>
<path d="M844.6,174.4C848.6,175.0 860.5,176.8 868.6,177.7C876.7,178.7 885.7,179.6 893.4,180.2C901.1,180.9 910.1,182.1 914.9,181.5C919.7,181.0 920.0,179.6 922.4,176.9C924.7,174.2 926.9,170.3 929.0,165.3C931.0,160.4 933.0,152.9 934.8,147.1C936.6,141.4 938.1,135.8 939.7,130.6C941.4,125.4 942.8,120.1 944.7,115.7C946.6,111.3 948.5,107.5 951.3,104.2C954.1,100.8 957.1,98.9 961.2,95.9C965.4,92.8 970.9,89.3 976.1,86.0C981.3,82.7 987.1,78.9 992.6,76.0C998.2,73.1 1002.8,70.8 1009.2,68.6C1015.5,66.4 1027.1,63.8 1030.7,62.8" fill="none" stroke="#962d82" stroke-width="1.3" stroke-opacity="0.8" stroke-linecap="round" stroke-linejoin="round"/>
<path d="M905.3,181.2 907.1,181.2 908.9,181.2 910.6,181.1 912.2,181.0 913.6,180.9 914.8,180.7 915.9,180.5 916.7,180.2 917.5,180.0 918.1,179.8 918.5,179.5 919.0,179.2 919.3,178.9 919.7,178.5 920.1,178.1 920.6,177.5 921.0,176.9 921.6,176.3 922.2,175.6 922.7,174.9 923.3,174.1 923.8,173.3 924.4,172.4 924.9,171.5 925.4,170.5 926.0,169.5 926.5,168.4 927.0,167.3 927.5,166.2 928.1,165.0 928.6,163.7 929.1,162.3 929.6,160.9 930.0,159.4 930.5,157.8 931.0,156.3 931.5,154.7 932.0,153.1 932.4,151.5 932.9,149.9 933.4,148.3 933.8,146.9 934.2,145.4 934.7,144.0 935.1,142.6 935.5,141.2 935.9,139.8 936.3,138.4 936.7,137.0 937.1,135.7 937.5,134.3 938.0,133.0 938.4,131.6 938.8,130.3 939.2,129.0 939.6,127.7 940.0,126.4 940.4,125.1 940.8,123.8 941.1,122.6 941.6,121.3 942.0,120.1 942.4,118.8 942.8,117.6 943.3,116.5 943.8,115.3 944.3,114.2 944.7,113.1 945.2,112.1 945.8,111.1 946.3,110.0 946.8,109.0 947.4,108.1 947.9,107.1 948.5,106.2 949.2,105.3 949.8,104.4 950.5,103.5 951.3,102.7 952.0,101.9 952.7,101.2 953.5,100.5 954.3,99.8 955.1,99.1 956.0,98.5 956.9,98.0 957.9,97.4 958.8,96.8 959.9,96.1 960.9,95.5 962.0,94.8 963.2,94.1 964.4,93.3 965.7,92.6 965.8,92.8 964.7,93.7 963.6,94.6 962.5,95.5 961.5,96.3 960.6,97.1 959.6,97.9 958.8,98.6 957.9,99.3 957.1,100.0 956.4,100.7 955.6,101.3 954.8,102.0 954.1,102.6 953.4,103.3 952.7,104.0 952.1,104.8 951.4,105.6 950.8,106.4 950.2,107.3 949.6,108.2 949.1,109.1 948.6,110.0 948.0,111.0 947.5,111.9 947.0,113.0 946.6,114.0 946.1,115.0 945.6,116.1 945.1,117.2 944.7,118.4 944.3,119.5 943.9,120.7 943.5,121.9 943.1,123.2 942.7,124.4 942.3,125.7 941.9,127.0 941.5,128.3 941.1,129.6 940.7,130.9 940.3,132.2 939.9,133.5 939.5,134.9 939.1,136.2 938.7,137.6 938.3,139.0 937.8,140.3 937.4,141.7 937.0,143.1 936.6,144.6 936.2,146.0 935.7,147.4 935.3,148.9 934.8,150.4 934.4,152.0 933.9,153.6 933.4,155.2 932.9,156.8 932.4,158.4 931.9,160.0 931.4,161.5 930.9,163.0 930.4,164.4 929.9,165.7 929.4,167.0 928.8,168.1 928.3,169.3 927.8,170.4 927.2,171.5 926.6,172.5 926.1,173.4 925.5,174.4 924.9,175.2 924.3,176.1 923.7,176.8 923.1,177.6 922.6,178.2 922.1,178.8 921.7,179.3 921.2,179.9 920.7,180.4 920.2,180.8 919.6,181.2 918.9,181.6 918.1,181.9 917.2,182.2 916.2,182.3 915.0,182.4 913.7,182.4 912.2,182.3 910.6,182.2 908.9,182.0 907.1,181.8 905.2,181.5Z" fill="#962d82" stroke="#962d82" stroke-width="1.3" stroke-linejoin="round"/>
<path d="M844.6,174.4C852.8,175.0 882.0,177.1 893.4,177.7C904.9,178.4 908.6,179.1 913.3,178.6C918.0,178.0 919.1,176.9 921.5,174.4C924.0,172.0 925.9,168.5 928.1,163.7C930.4,158.9 932.8,151.0 934.8,145.5C936.7,140.0 938.1,135.6 939.7,130.6C941.4,125.6 942.8,119.6 944.7,115.7C946.6,111.9 948.5,109.9 951.3,107.5C954.1,105.0 957.1,103.2 961.2,100.8C965.4,98.5 970.9,95.6 976.1,93.4C981.3,91.2 987.1,89.1 992.6,87.6C998.2,86.1 1002.8,85.5 1009.2,84.3C1015.5,83.1 1027.1,81.3 1030.7,80.7" fill="none" stroke="#6e4282" stroke-width="1.3" stroke-opacity="0.8" stroke-linecap="round" stroke-linejoin="round"/>
<path d="M905.9,178.5 907.3,178.5 908.6,178.5 909.8,178.4 910.9,178.3 912.1,178.2 913.2,178.0 914.3,177.7 915.2,177.5 916.0,177.3 916.6,177.0 917.2,176.7 917.8,176.4 918.2,176.0 918.7,175.7 919.2,175.3 919.7,174.8 920.2,174.3 920.8,173.7 921.4,173.1 922.0,172.5 922.5,171.8 923.0,171.0 923.6,170.3 924.1,169.4 924.6,168.5 925.1,167.6 925.6,166.6 926.2,165.5 926.7,164.4 927.2,163.3 927.8,162.0 928.3,160.7 928.9,159.2 929.5,157.7 930.0,156.1 930.6,154.5 931.2,152.9 931.7,151.3 932.3,149.7 932.8,148.1 933.3,146.6 933.8,145.2 934.3,143.8 934.7,142.5 935.2,141.2 935.6,140.0 936.0,138.7 936.4,137.5 936.8,136.3 937.2,135.1 937.6,133.9 938.0,132.7 938.4,131.5 938.8,130.3 939.2,129.0 939.6,127.8 940.0,126.5 940.4,125.1 940.7,123.8 941.1,122.5 941.5,121.2 942.0,119.9 942.4,118.6 942.8,117.5 943.3,116.3 943.8,115.3 944.3,114.3 944.8,113.4 945.3,112.6 945.8,111.8 946.4,111.1 946.9,110.4 947.5,109.8 948.1,109.2 948.7,108.5 949.3,107.9 950.0,107.3 950.6,106.7 951.4,106.1 952.1,105.6 952.9,105.0 953.7,104.5 954.6,104.0 955.4,103.6 956.3,103.1 957.2,102.6 958.1,102.2 959.1,101.7 960.1,101.2 961.1,100.7 962.2,100.2 962.3,100.3 961.3,101.0 960.3,101.7 959.4,102.3 958.5,102.9 957.7,103.5 956.9,104.1 956.1,104.6 955.3,105.2 954.6,105.8 953.9,106.4 953.3,107.0 952.6,107.6 952.0,108.2 951.3,108.8 950.7,109.4 950.1,110.0 949.5,110.5 949.0,111.1 948.5,111.7 947.9,112.3 947.5,113.0 947.0,113.7 946.5,114.5 946.0,115.3 945.6,116.2 945.1,117.1 944.7,118.2 944.3,119.3 943.9,120.5 943.5,121.8 943.1,123.0 942.7,124.4 942.3,125.7 941.9,127.0 941.5,128.3 941.1,129.7 940.7,130.9 940.3,132.2 939.9,133.4 939.5,134.6 939.1,135.8 938.7,137.0 938.3,138.2 937.9,139.4 937.5,140.6 937.1,141.9 936.6,143.1 936.2,144.5 935.7,145.8 935.2,147.2 934.7,148.7 934.2,150.3 933.6,151.9 933.1,153.5 932.5,155.2 931.9,156.8 931.4,158.4 930.8,159.9 930.2,161.4 929.6,162.8 929.1,164.1 928.5,165.3 928.0,166.4 927.4,167.5 926.9,168.5 926.3,169.5 925.8,170.5 925.2,171.3 924.7,172.2 924.1,173.0 923.5,173.7 922.9,174.5 922.2,175.1 921.6,175.7 921.1,176.3 920.5,176.8 919.9,177.3 919.3,177.7 918.7,178.1 918.0,178.4 917.2,178.6 916.4,178.8 915.5,179.0 914.5,179.1 913.3,179.2 912.1,179.2 911.0,179.2 909.8,179.1 908.6,179.0 907.3,178.9 905.9,178.7Z" fill="#6e4282" stroke="#6e4282" stroke-width="1.3" stroke-linejoin="round"/>
<path d="M944.7,114.1C945.8,112.7 948.5,108.4 951.3,105.8C954.1,103.2 957.1,100.8 961.2,98.4C965.4,95.9 970.9,93.3 976.1,90.9C981.3,88.6 987.1,86.4 992.6,84.3C998.2,82.2 1002.8,80.4 1009.2,78.5C1015.5,76.6 1027.1,73.7 1030.7,72.7" fill="none" stroke="#416482" stroke-width="1.3" stroke-opacity="0.8" stroke-linecap="round" stroke-linejoin="round"/>
<path d="M943.9,113.5 944.2,113.1 944.6,112.6 945.0,112.0 945.5,111.3 946.0,110.6 946.6,109.8 947.2,109.0 947.8,108.2 948.5,107.4 949.2,106.6 949.9,105.8 950.6,105.1 951.3,104.4 952.0,103.8 952.8,103.1 953.6,102.5 954.4,102.0 955.3,101.4 956.1,100.8 957.1,100.3 958.0,99.7 959.0,99.2 960.0,98.6 961.1,98.1 962.2,97.5 963.3,97.0 964.5,96.4 964.6,96.5 963.5,97.2 962.4,97.9 961.4,98.6 960.4,99.3 959.5,100.0 958.6,100.7 957.8,101.3 957.0,102.0 956.2,102.7 955.5,103.3 954.8,104.0 954.1,104.6 953.4,105.3 952.7,105.9 952.0,106.5 951.3,107.2 950.7,107.9 950.0,108.7 949.4,109.4 948.8,110.2 948.2,111.0 947.6,111.8 947.1,112.5 946.6,113.2 946.2,113.8 945.8,114.3 945.5,114.7Z" fill="#416482" stroke="#416482" stroke-width="1.3" stroke-linejoin="round"/>
<path d="M844.6,174.4C848.6,174.7 860.5,175.7 868.6,176.1C876.7,176.5 886.3,176.8 893.4,176.9C900.6,177.0 907.2,177.3 911.6,176.6C916.0,175.9 917.4,174.9 919.9,172.8C922.4,170.6 924.3,168.0 926.5,163.7C928.7,159.4 931.2,152.4 933.1,147.1C935.0,141.9 936.4,137.0 938.1,132.3C939.7,127.6 941.1,122.9 943.0,119.0C945.0,115.2 946.9,112.1 949.6,109.1C952.4,106.1 955.2,103.6 959.6,100.8C964.0,98.1 970.6,94.8 976.1,92.6C981.6,90.4 987.1,89.0 992.6,87.6C998.2,86.2 1002.8,84.6 1009.2,84.3C1015.5,84.0 1027.1,85.7 1030.7,86.0" fill="none" stroke="#168080" stroke-width="1.3" stroke-opacity="0.8" stroke-linecap="round" stroke-linejoin="round"/>
<path d="M905.1,176.9 906.5,176.6 907.9,176.3 909.2,175.9 910.3,175.6 911.4,175.2 912.4,174.8 913.2,174.4 913.9,174.1 914.5,173.7 915.0,173.4 915.4,173.1 915.8,172.7 916.1,172.3 916.5,171.9 917.0,171.6 917.5,171.2 918.0,170.7 918.6,170.2 919.1,169.7 919.6,169.2 920.1,168.6 920.5,168.0 921.0,167.4 921.5,166.7 922.0,166.0 922.5,165.2 923.0,164.3 923.5,163.4 924.0,162.4 924.5,161.4 925.1,160.2 925.6,158.9 926.2,157.6 926.7,156.2 927.3,154.8 927.9,153.3 928.4,151.8 928.9,150.4 929.5,148.9 930.0,147.5 930.5,146.2 930.9,144.9 931.4,143.6 931.8,142.4 932.2,141.1 932.6,139.9 933.0,138.6 933.4,137.4 933.8,136.2 934.2,135.0 934.6,133.7 935.0,132.5 935.4,131.3 935.8,130.2 936.2,129.0 936.6,127.9 937.0,126.7 937.4,125.6 937.8,124.4 938.2,123.3 938.6,122.1 939.1,121.0 939.5,119.9 940.0,118.8 940.5,117.8 941.0,116.8 941.5,115.8 942.1,114.9 942.6,114.0 943.1,113.1 943.7,112.2 944.3,111.4 944.9,110.5 945.5,109.7 946.2,108.9 946.9,108.0 947.6,107.2 948.3,106.4 949.0,105.7 949.8,104.9 950.6,104.2 951.3,103.5 952.2,102.7 953.2,102.2 954.2,101.7 955.3,101.1 956.4,100.6 957.6,100.1 958.8,99.6 960.1,99.2 961.5,98.7 963.0,98.2 964.5,97.7 964.7,98.2 963.5,99.2 962.4,100.2 961.3,101.1 960.3,102.0 959.4,102.9 958.6,103.8 957.8,104.6 957.1,105.4 956.4,106.2 955.8,107.0 955.1,107.6 954.4,108.3 953.7,108.9 953.0,109.6 952.4,110.3 951.7,111.0 951.1,111.7 950.5,112.4 949.9,113.1 949.4,113.8 948.9,114.6 948.4,115.3 947.9,116.1 947.4,116.9 946.9,117.7 946.5,118.5 946.0,119.4 945.5,120.3 945.1,121.2 944.7,122.1 944.3,123.1 943.9,124.1 943.5,125.2 943.1,126.3 942.7,127.4 942.3,128.5 941.9,129.7 941.5,130.8 941.1,132.0 940.7,133.2 940.3,134.3 939.9,135.5 939.5,136.7 939.1,137.9 938.8,139.1 938.4,140.4 938.0,141.6 937.5,142.9 937.1,144.2 936.7,145.5 936.2,146.8 935.7,148.1 935.2,149.5 934.7,150.9 934.2,152.3 933.7,153.8 933.1,155.3 932.5,156.8 931.9,158.3 931.4,159.7 930.8,161.1 930.2,162.5 929.6,163.8 929.0,165.0 928.4,166.1 927.8,167.1 927.3,168.0 926.7,169.0 926.1,169.8 925.6,170.7 925.0,171.5 924.3,172.2 923.7,172.9 923.1,173.6 922.4,174.3 921.7,174.9 921.1,175.4 920.5,176.0 919.8,176.4 919.1,176.8 918.3,177.1 917.5,177.4 916.7,177.6 915.9,177.8 915.0,177.9 914.0,178.0 913.0,178.0 911.8,178.0 910.6,177.9 909.3,177.8 908.0,177.6 906.5,177.4 905.1,177.1Z" fill="#168080" stroke="#168080" stroke-width="1.3" stroke-linejoin="round"/>
<path d="M921.5,172.0C922.6,170.0 926.2,165.1 928.1,160.4C930.1,155.7 931.6,149.1 933.1,143.8C934.6,138.6 935.6,134.5 937.2,129.0C938.9,123.4 941.0,116.3 943.0,110.8C945.1,105.3 946.9,100.3 949.6,95.9C952.4,91.5 955.2,88.4 959.6,84.3C964.0,80.2 970.6,74.9 976.1,71.1C981.6,67.2 987.1,64.2 992.6,61.2C998.2,58.1 1002.8,55.6 1009.2,52.9C1015.5,50.1 1027.1,46.0 1030.7,44.6" fill="none" stroke="#c81e82" stroke-width="1.3" stroke-opacity="0.8" stroke-linecap="round" stroke-linejoin="round"/>
<path d="M921.0,171.6 921.3,171.1 921.8,170.4 922.3,169.7 922.8,168.8 923.4,167.9 924.0,166.9 924.7,165.8 925.3,164.7 925.9,163.6 926.5,162.5 927.1,161.3 927.6,160.1 928.1,159.0 928.5,157.7 929.0,156.4 929.4,155.0 929.8,153.6 930.2,152.2 930.6,150.7 931.0,149.3 931.4,147.8 931.8,146.4 932.2,145.0 932.5,143.7 932.9,142.4 933.2,141.1 933.6,139.9 933.9,138.7 934.2,137.5 934.5,136.3 934.9,135.2 935.2,133.9 935.5,132.7 935.9,131.4 936.3,130.1 936.7,128.8 937.1,127.4 937.5,125.9 938.0,124.4 938.4,122.8 938.9,121.3 939.4,119.7 939.9,118.1 940.4,116.5 940.9,115.0 941.4,113.4 942.0,112.0 942.5,110.6 943.0,109.2 943.5,107.8 944.0,106.5 944.5,105.2 945.0,103.9 945.5,102.7 946.1,101.4 946.6,100.2 947.2,99.0 947.8,97.8 948.5,96.7 949.1,95.6 949.8,94.5 950.5,93.4 951.3,92.4 952.0,91.5 952.7,90.5 953.5,89.6 954.4,88.7 955.2,87.8 956.1,86.8 957.1,85.9 958.1,84.9 959.2,83.9 960.4,82.9 961.6,81.8 963.0,80.7 964.4,79.7 965.8,78.6 967.3,77.5 968.8,76.4 968.9,76.5 967.5,77.7 966.1,78.9 964.8,80.1 963.5,81.3 962.2,82.5 961.1,83.6 960.0,84.7 958.9,85.8 957.9,86.7 957.0,87.7 956.1,88.6 955.2,89.5 954.4,90.4 953.7,91.3 952.9,92.2 952.2,93.2 951.5,94.1 950.8,95.1 950.2,96.2 949.5,97.3 948.9,98.4 948.3,99.6 947.7,100.7 947.2,101.9 946.6,103.1 946.1,104.4 945.6,105.7 945.1,106.9 944.6,108.3 944.1,109.6 943.6,111.0 943.1,112.4 942.6,113.8 942.1,115.3 941.6,116.9 941.1,118.5 940.6,120.0 940.1,121.6 939.6,123.2 939.1,124.7 938.7,126.2 938.2,127.7 937.8,129.1 937.4,130.5 937.0,131.8 936.7,133.0 936.4,134.3 936.0,135.5 935.7,136.7 935.4,137.8 935.1,139.0 934.7,140.2 934.4,141.5 934.1,142.7 933.7,144.0 933.3,145.3 932.9,146.7 932.5,148.1 932.2,149.6 931.8,151.0 931.4,152.5 931.0,153.9 930.5,155.3 930.1,156.7 929.6,158.1 929.2,159.4 928.7,160.6 928.2,161.8 927.6,163.0 927.0,164.2 926.3,165.3 925.7,166.4 925.0,167.5 924.4,168.5 923.8,169.5 923.3,170.3 922.8,171.1 922.4,171.7 922.0,172.3Z" fill="#c81e82" stroke="#c81e82" stroke-width="1.3" stroke-linejoin="round"/>
<path d="M819.2,43.3 V182.5 H1049.7 V179.5" fill="none" stroke="#1a1a1a" stroke-width="1.7"/>
<line x1="819.2" y1="174.3" x2="822.4" y2="174.3" stroke="#1a1a1a" stroke-width="1.7"/>
<text x="810.7" y="183.2" font-size="33.5" text-anchor="end" transform="matrix(1 0 0 1 0.00 0.00)">0</text>
<line x1="819.2" y1="111.9" x2="822.4" y2="111.9" stroke="#1a1a1a" stroke-width="1.7"/>
<text x="810.7" y="120.8" font-size="33.5" text-anchor="end" transform="matrix(1 0 0 1 0.00 0.00)">0.2</text>
<line x1="819.2" y1="49.5" x2="822.4" y2="49.5" stroke="#1a1a1a" stroke-width="1.7"/>
<text x="810.7" y="58.4" font-size="33.5" text-anchor="end" transform="matrix(1 0 0 1 0.00 0.00)">0.4</text>
<line x1="934.5" y1="182.5" x2="934.5" y2="179.3" stroke="#1a1a1a" stroke-width="1.7"/>
<text x="934.5" y="215.1" font-size="33.5" text-anchor="middle" transform="matrix(1 0 0 1 0.00 0.00)">0</text>
<text x="1049.7" y="215.1" font-size="33.5" text-anchor="middle" transform="matrix(1 0 0 1 0.00 0.00)">50</text>
<text x="817.9" y="215.1" font-size="33.5" text-anchor="middle" transform="matrix(1 0 0 1 0.00 0.00)">50</text>
<rect x="784.9" y="206.4" width="17.5" height="1.6" fill="#000"/>
<text x="934.0" y="32.8" font-size="33.5" text-anchor="middle" transform="matrix(1 0 0 1 0.00 0.00)">Exp 3</text>
<text x="753.5" y="33.8" font-size="40.5" text-anchor="middle">(<tspan font-style="italic" dx="0">c</tspan><tspan dx="0">)</tspan></text>
<path d="M1200.3,167.8C1203.8,168.8 1213.5,171.8 1221.1,173.6C1228.7,175.4 1238.8,177.4 1245.9,178.6C1253.1,179.7 1259.4,180.6 1264.1,180.6C1268.8,180.6 1271.3,180.8 1274.0,178.6C1276.8,176.3 1278.5,172.5 1280.7,167.0C1282.9,161.5 1285.1,152.7 1287.3,145.5C1289.5,138.3 1292.0,130.9 1293.9,124.0C1295.8,117.1 1297.2,109.7 1298.9,104.2C1300.5,98.6 1301.6,94.8 1303.8,90.9C1306.0,87.1 1308.8,84.0 1312.1,81.0C1315.4,78.0 1319.5,75.5 1323.7,72.7C1327.8,70.0 1331.9,66.9 1336.9,64.5C1341.8,62.0 1347.9,59.4 1353.4,57.8C1358.9,56.3 1364.6,56.1 1370.0,55.4C1375.3,54.7 1382.9,54.0 1385.5,53.7" fill="none" stroke="#6e4282" stroke-width="1.3" stroke-opacity="0.8" stroke-linecap="round" stroke-linejoin="round"/>
<path d="M1258.9,180.2 1260.3,180.2 1261.7,180.2 1262.9,180.1 1264.1,180.0 1265.3,179.9 1266.3,179.8 1267.3,179.7 1268.1,179.6 1268.9,179.5 1269.7,179.4 1270.3,179.2 1270.9,178.9 1271.5,178.7 1272.1,178.4 1272.6,178.0 1273.2,177.6 1273.8,177.0 1274.4,176.5 1274.9,175.8 1275.4,175.1 1275.9,174.3 1276.4,173.4 1276.9,172.4 1277.4,171.4 1277.9,170.3 1278.4,169.1 1278.9,167.8 1279.4,166.5 1280.0,165.1 1280.5,163.6 1281.1,161.9 1281.6,160.2 1282.2,158.4 1282.7,156.5 1283.3,154.6 1283.8,152.7 1284.4,150.7 1284.9,148.8 1285.5,146.9 1286.0,145.1 1286.6,143.3 1287.2,141.5 1287.7,139.7 1288.3,137.9 1288.9,136.1 1289.4,134.3 1290.0,132.4 1290.6,130.7 1291.1,128.9 1291.6,127.1 1292.1,125.4 1292.6,123.6 1293.1,121.9 1293.6,120.2 1294.0,118.5 1294.4,116.7 1294.8,115.0 1295.2,113.3 1295.6,111.6 1296.0,109.9 1296.4,108.3 1296.8,106.7 1297.2,105.2 1297.6,103.8 1298.0,102.4 1298.4,101.1 1298.8,99.9 1299.1,98.7 1299.5,97.6 1299.9,96.5 1300.3,95.4 1300.7,94.3 1301.2,93.3 1301.6,92.3 1302.1,91.3 1302.7,90.3 1303.3,89.3 1303.9,88.3 1304.5,87.4 1305.2,86.5 1305.8,85.7 1306.5,84.8 1307.3,84.0 1308.0,83.2 1308.8,82.4 1309.6,81.6 1310.4,80.8 1311.2,80.0 1312.1,79.3 1313.1,78.6 1314.1,78.0 1315.1,77.4 1316.1,76.8 1317.2,76.2 1318.2,75.6 1319.3,75.0 1320.4,74.4 1321.4,73.9 1322.5,73.3 1322.7,73.5 1321.7,74.3 1320.8,75.1 1319.8,75.8 1318.9,76.6 1318.0,77.4 1317.1,78.1 1316.2,78.9 1315.3,79.6 1314.5,80.4 1313.7,81.2 1313.0,82.0 1312.2,82.7 1311.4,83.4 1310.6,84.2 1309.9,85.0 1309.2,85.7 1308.5,86.5 1307.9,87.3 1307.2,88.1 1306.6,88.9 1306.0,89.8 1305.5,90.7 1304.9,91.6 1304.4,92.5 1304.0,93.4 1303.5,94.4 1303.1,95.3 1302.7,96.3 1302.4,97.4 1302.0,98.4 1301.6,99.5 1301.3,100.7 1300.9,101.9 1300.5,103.2 1300.1,104.5 1299.7,105.9 1299.3,107.4 1298.9,108.9 1298.5,110.5 1298.1,112.2 1297.7,113.9 1297.3,115.6 1296.9,117.3 1296.5,119.1 1296.1,120.8 1295.6,122.6 1295.1,124.3 1294.6,126.1 1294.1,127.9 1293.6,129.6 1293.1,131.4 1292.5,133.2 1291.9,135.0 1291.4,136.8 1290.8,138.7 1290.2,140.5 1289.6,142.3 1289.1,144.1 1288.5,145.9 1288.0,147.7 1287.4,149.6 1286.9,151.5 1286.3,153.4 1285.8,155.3 1285.2,157.2 1284.7,159.1 1284.1,160.9 1283.6,162.7 1283.0,164.4 1282.4,166.0 1281.9,167.5 1281.3,168.8 1280.8,170.1 1280.3,171.3 1279.8,172.5 1279.2,173.6 1278.7,174.6 1278.2,175.6 1277.6,176.5 1277.0,177.4 1276.3,178.2 1275.6,178.9 1274.9,179.6 1274.1,180.2 1273.3,180.6 1272.5,181.0 1271.6,181.2 1270.8,181.4 1270.0,181.5 1269.1,181.5 1268.2,181.5 1267.3,181.4 1266.3,181.3 1265.2,181.2 1264.1,181.1 1262.9,181.0 1261.6,180.8 1260.3,180.6 1258.9,180.4Z" fill="#6e4282" stroke="#6e4282" stroke-width="1.3" stroke-linejoin="round"/>
<path d="M1200.3,167.8C1206.8,168.4 1228.0,170.3 1239.2,171.1C1250.3,172.0 1261.2,173.2 1267.3,172.8C1273.3,172.4 1273.1,171.3 1275.5,168.6C1278.0,166.0 1279.9,162.3 1282.1,157.1C1284.4,151.8 1286.7,143.8 1288.8,137.2C1290.8,130.6 1292.6,123.7 1294.6,117.4C1296.5,111.0 1298.5,104.4 1300.3,99.2C1302.1,94.0 1303.4,89.5 1305.3,86.0C1307.2,82.4 1308.6,80.7 1311.9,77.7C1315.2,74.7 1320.7,70.8 1325.1,67.8C1329.6,64.7 1333.4,62.3 1338.4,59.5C1343.3,56.7 1349.4,53.2 1354.9,51.2C1360.4,49.3 1366.4,49.0 1371.5,47.9C1376.6,46.8 1383.2,45.2 1385.5,44.6" fill="none" stroke="#c81e82" stroke-width="1.3" stroke-opacity="0.8" stroke-linecap="round" stroke-linejoin="round"/>
<path d="M1259.8,172.5 1261.9,172.5 1263.9,172.5 1265.6,172.3 1267.2,172.2 1268.6,172.0 1269.7,171.8 1270.6,171.6 1271.3,171.3 1271.9,171.1 1272.3,170.9 1272.7,170.6 1273.1,170.2 1273.4,169.8 1273.9,169.3 1274.4,168.7 1274.9,168.1 1275.5,167.5 1276.1,166.8 1276.7,166.0 1277.2,165.2 1277.7,164.4 1278.2,163.5 1278.8,162.5 1279.3,161.5 1279.8,160.4 1280.3,159.2 1280.9,158.0 1281.4,156.8 1282.0,155.4 1282.5,154.0 1283.1,152.4 1283.6,150.8 1284.2,149.1 1284.7,147.4 1285.3,145.7 1285.9,143.9 1286.4,142.1 1286.9,140.4 1287.5,138.7 1288.0,137.0 1288.5,135.3 1289.0,133.7 1289.5,132.0 1290.0,130.3 1290.5,128.7 1290.9,127.0 1291.4,125.3 1291.9,123.7 1292.4,122.0 1292.8,120.4 1293.3,118.7 1293.8,117.1 1294.3,115.6 1294.8,114.0 1295.3,112.4 1295.7,110.8 1296.2,109.2 1296.7,107.6 1297.2,106.1 1297.7,104.6 1298.2,103.1 1298.7,101.7 1299.1,100.3 1299.6,98.9 1300.0,97.6 1300.4,96.4 1300.8,95.2 1301.2,94.0 1301.6,92.8 1302.0,91.7 1302.4,90.6 1302.8,89.5 1303.2,88.5 1303.7,87.5 1304.1,86.5 1304.6,85.6 1305.1,84.7 1305.5,83.9 1306.0,83.2 1306.5,82.4 1307.0,81.8 1307.5,81.1 1308.0,80.5 1308.6,79.8 1309.2,79.2 1309.9,78.5 1310.6,77.8 1311.4,77.1 1312.3,76.3 1313.3,75.6 1314.4,74.8 1315.5,74.0 1316.7,73.2 1317.9,72.4 1319.1,71.6 1320.4,70.8 1321.6,70.0 1322.8,69.3 1322.9,69.4 1321.8,70.3 1320.6,71.2 1319.5,72.1 1318.4,73.1 1317.3,74.0 1316.2,74.9 1315.2,75.8 1314.2,76.7 1313.3,77.5 1312.5,78.3 1311.7,79.0 1311.0,79.7 1310.3,80.3 1309.7,80.9 1309.2,81.5 1308.7,82.1 1308.2,82.7 1307.8,83.4 1307.4,84.0 1306.9,84.7 1306.5,85.5 1306.0,86.3 1305.6,87.2 1305.1,88.1 1304.7,89.1 1304.3,90.1 1303.9,91.1 1303.5,92.2 1303.1,93.3 1302.8,94.5 1302.4,95.7 1302.0,96.9 1301.5,98.2 1301.1,99.4 1300.6,100.8 1300.2,102.2 1299.7,103.6 1299.2,105.1 1298.7,106.6 1298.3,108.1 1297.8,109.7 1297.3,111.2 1296.8,112.8 1296.3,114.4 1295.8,116.0 1295.3,117.6 1294.8,119.2 1294.4,120.8 1293.9,122.4 1293.4,124.1 1293.0,125.8 1292.5,127.4 1292.0,129.1 1291.5,130.8 1291.0,132.5 1290.5,134.1 1290.0,135.8 1289.5,137.5 1289.0,139.1 1288.5,140.9 1287.9,142.6 1287.4,144.4 1286.8,146.2 1286.3,147.9 1285.7,149.6 1285.1,151.3 1284.6,153.0 1284.0,154.5 1283.4,156.0 1282.9,157.4 1282.3,158.7 1281.8,159.9 1281.3,161.1 1280.7,162.2 1280.2,163.2 1279.6,164.2 1279.1,165.2 1278.5,166.1 1278.0,166.9 1277.4,167.7 1276.8,168.5 1276.1,169.2 1275.6,169.8 1275.1,170.4 1274.6,170.9 1274.2,171.4 1273.7,171.8 1273.2,172.2 1272.5,172.6 1271.8,172.9 1270.9,173.1 1269.9,173.3 1268.7,173.3 1267.3,173.4 1265.7,173.4 1263.8,173.3 1261.9,173.1 1259.8,172.9Z" fill="#c81e82" stroke="#c81e82" stroke-width="1.3" stroke-linejoin="round"/>
<path d="M1200.3,167.8C1204.0,168.1 1214.8,169.1 1222.6,169.5C1230.5,169.9 1240.3,170.2 1247.4,170.3C1254.6,170.4 1261.2,170.9 1265.6,170.3C1270.0,169.7 1271.4,169.2 1273.9,167.0C1276.4,164.8 1278.3,161.8 1280.5,157.1C1282.7,152.4 1285.2,144.9 1287.1,138.9C1289.0,132.8 1290.4,126.8 1292.1,120.7C1293.7,114.6 1295.4,108.0 1297.0,102.5C1298.7,97.0 1300.1,92.0 1302.0,87.6C1303.9,83.2 1306.1,79.3 1308.6,76.0C1311.1,72.7 1313.3,70.5 1316.9,67.8C1320.5,65.0 1325.1,61.8 1330.1,59.5C1335.1,57.2 1341.1,54.7 1346.6,53.7C1352.2,52.7 1356.7,53.0 1363.2,53.7C1369.7,54.4 1381.8,57.2 1385.5,57.8" fill="none" stroke="#168080" stroke-width="1.3" stroke-opacity="0.8" stroke-linecap="round" stroke-linejoin="round"/>
<path d="M1259.1,170.5 1260.5,170.2 1261.9,169.9 1263.2,169.6 1264.4,169.3 1265.5,169.0 1266.4,168.7 1267.3,168.4 1268.0,168.1 1268.7,167.8 1269.2,167.5 1269.7,167.2 1270.0,166.9 1270.4,166.6 1270.8,166.3 1271.2,166.0 1271.7,165.6 1272.2,165.1 1272.7,164.6 1273.2,164.1 1273.7,163.6 1274.2,163.0 1274.7,162.3 1275.2,161.6 1275.7,160.8 1276.2,160.0 1276.7,159.1 1277.2,158.1 1277.7,157.1 1278.2,156.0 1278.8,154.8 1279.3,153.6 1279.9,152.2 1280.4,150.7 1281.0,149.2 1281.5,147.7 1282.1,146.1 1282.7,144.4 1283.2,142.8 1283.7,141.2 1284.2,139.7 1284.7,138.1 1285.2,136.6 1285.6,135.1 1286.1,133.7 1286.5,132.2 1286.9,130.7 1287.3,129.2 1287.7,127.6 1288.1,126.1 1288.4,124.6 1288.8,123.1 1289.2,121.6 1289.7,120.0 1290.1,118.5 1290.5,117.0 1290.9,115.4 1291.3,113.9 1291.7,112.3 1292.1,110.7 1292.6,109.2 1293.0,107.7 1293.4,106.1 1293.8,104.7 1294.2,103.2 1294.6,101.8 1295.0,100.4 1295.4,99.1 1295.8,97.7 1296.2,96.4 1296.6,95.2 1297.0,93.9 1297.4,92.6 1297.9,91.4 1298.3,90.2 1298.7,89.0 1299.2,87.8 1299.7,86.6 1300.2,85.5 1300.7,84.4 1301.3,83.3 1301.8,82.2 1302.4,81.2 1302.9,80.2 1303.5,79.2 1304.1,78.2 1304.7,77.3 1305.3,76.3 1306.0,75.4 1306.6,74.5 1307.3,73.7 1307.9,72.9 1308.5,72.1 1309.2,71.4 1309.9,70.6 1310.6,69.9 1311.3,69.2 1312.0,68.5 1312.8,67.9 1313.6,67.2 1314.6,66.6 1315.6,66.1 1316.6,65.5 1317.7,65.0 1318.9,64.4 1320.1,63.9 1321.3,63.3 1322.5,62.8 1323.8,62.3 1325.1,61.8 1326.4,61.3 1326.5,61.5 1325.4,62.4 1324.4,63.3 1323.4,64.2 1322.4,65.1 1321.5,66.0 1320.6,66.9 1319.8,67.8 1319.0,68.6 1318.2,69.5 1317.5,70.3 1316.8,71.0 1316.1,71.7 1315.4,72.3 1314.7,72.9 1314.1,73.5 1313.5,74.1 1312.9,74.7 1312.3,75.4 1311.8,76.0 1311.2,76.8 1310.6,77.5 1310.0,78.3 1309.5,79.1 1308.9,80.0 1308.3,80.9 1307.8,81.7 1307.3,82.7 1306.7,83.6 1306.2,84.5 1305.7,85.5 1305.2,86.5 1304.8,87.6 1304.3,88.6 1303.8,89.7 1303.4,90.8 1303.0,91.9 1302.6,93.0 1302.2,94.2 1301.8,95.4 1301.4,96.6 1301.0,97.9 1300.6,99.2 1300.2,100.5 1299.8,101.8 1299.4,103.2 1299.0,104.6 1298.6,106.0 1298.2,107.5 1297.8,109.0 1297.4,110.5 1297.0,112.0 1296.6,113.6 1296.1,115.1 1295.7,116.7 1295.3,118.3 1294.9,119.8 1294.5,121.3 1294.1,122.8 1293.7,124.4 1293.3,125.9 1292.9,127.4 1292.5,128.9 1292.1,130.4 1291.7,131.9 1291.3,133.5 1290.9,135.0 1290.4,136.5 1290.0,138.1 1289.5,139.6 1289.0,141.2 1288.5,142.8 1287.9,144.4 1287.4,146.1 1286.8,147.7 1286.3,149.3 1285.7,150.9 1285.1,152.5 1284.5,154.0 1283.9,155.5 1283.3,156.9 1282.8,158.1 1282.2,159.3 1281.6,160.4 1281.1,161.5 1280.5,162.5 1280.0,163.4 1279.4,164.3 1278.8,165.2 1278.2,166.0 1277.6,166.8 1276.9,167.5 1276.2,168.2 1275.6,168.9 1274.9,169.4 1274.2,170.0 1273.6,170.4 1272.8,170.8 1272.1,171.1 1271.3,171.3 1270.5,171.5 1269.6,171.6 1268.8,171.6 1267.9,171.6 1266.9,171.6 1265.8,171.6 1264.6,171.5 1263.3,171.4 1261.9,171.2 1260.5,171.0 1259.1,170.7Z" fill="#168080" stroke="#168080" stroke-width="1.3" stroke-linejoin="round"/>
<path d="M1305.3,76.0C1306.4,74.7 1308.6,70.5 1311.9,67.8C1315.2,65.0 1320.7,62.3 1325.1,59.5C1329.6,56.7 1333.4,53.4 1338.4,51.2C1343.3,49.0 1349.4,47.2 1354.9,46.3C1360.4,45.3 1366.4,45.7 1371.5,45.4C1376.6,45.2 1383.2,44.8 1385.5,44.6" fill="none" stroke="#416482" stroke-width="1.3" stroke-opacity="0.8" stroke-linecap="round" stroke-linejoin="round"/>
<path d="M1304.7,75.6 1304.9,75.2 1305.3,74.7 1305.7,74.1 1306.1,73.4 1306.6,72.7 1307.1,72.0 1307.7,71.2 1308.4,70.3 1309.0,69.5 1309.8,68.7 1310.6,67.9 1311.4,67.2 1312.3,66.4 1313.3,65.8 1314.4,65.1 1315.5,64.5 1316.7,63.8 1317.9,63.2 1319.1,62.6 1320.3,62.0 1321.6,61.4 1322.8,60.7 1324.0,60.1 1324.1,60.3 1322.9,61.0 1321.8,61.8 1320.7,62.5 1319.5,63.3 1318.4,64.0 1317.2,64.8 1316.2,65.5 1315.1,66.3 1314.2,67.0 1313.3,67.7 1312.4,68.4 1311.7,69.1 1310.9,69.8 1310.2,70.6 1309.6,71.3 1309.0,72.1 1308.4,72.9 1307.9,73.6 1307.4,74.3 1307.0,75.0 1306.6,75.6 1306.3,76.1 1305.9,76.5Z" fill="#416482" stroke="#416482" stroke-width="1.3" stroke-linejoin="round"/>
<path d="M1173.9,43.3 V182.5 H1404.4 V179.5" fill="none" stroke="#1a1a1a" stroke-width="1.7"/>
<line x1="1173.9" y1="167.6" x2="1177.1" y2="167.6" stroke="#1a1a1a" stroke-width="1.7"/>
<text x="1165.4" y="176.5" font-size="33.5" text-anchor="end" transform="matrix(1 0 0 1 0.00 0.00)">0</text>
<line x1="1173.9" y1="124.3" x2="1177.1" y2="124.3" stroke="#1a1a1a" stroke-width="1.7"/>
<text x="1165.4" y="133.2" font-size="33.5" text-anchor="end" transform="matrix(1 0 0 1 0.00 0.00)">0.1</text>
<line x1="1173.9" y1="81.0" x2="1177.1" y2="81.0" stroke="#1a1a1a" stroke-width="1.7"/>
<text x="1165.4" y="89.9" font-size="33.5" text-anchor="end" transform="matrix(1 0 0 1 0.00 0.00)">0.2</text>
<line x1="1289.2" y1="182.5" x2="1289.2" y2="179.3" stroke="#1a1a1a" stroke-width="1.7"/>
<text x="1289.2" y="215.1" font-size="33.5" text-anchor="middle" transform="matrix(1 0 0 1 0.00 0.00)">0</text>
<text x="1404.4" y="215.1" font-size="33.5" text-anchor="middle" transform="matrix(1 0 0 1 0.00 0.00)">50</text>
<text x="1172.6" y="215.1" font-size="33.5" text-anchor="middle" transform="matrix(1 0 0 1 0.00 0.00)">50</text>
<rect x="1139.6" y="206.4" width="17.5" height="1.6" fill="#000"/>
<text x="1288.7" y="32.8" font-size="33.5" text-anchor="middle" transform="matrix(1 0 0 1 0.00 0.00)">Exp 4</text>
<text x="1098.0" y="32.6" font-size="40.5" text-anchor="middle">(<tspan font-style="italic" dx="0">d</tspan><tspan dx="0">)</tspan></text>
<text transform="translate(37.2,113.9) rotate(-90)" font-size="40.5" text-anchor="middle"><tspan font-style="italic">x</tspan><tspan font-style="italic" font-size="28.5" dy="9" dx="-0.5">p</tspan><tspan dy="-9" dx="1"> (m)</tspan></text>
<path d="M137.3,427.9C141.0,428.6 151.8,430.8 159.6,431.7C167.5,432.7 176.7,433.2 184.4,433.9C192.1,434.6 201.0,435.8 205.9,435.9C210.9,435.9 211.7,436.4 214.2,434.2C216.7,432.0 218.6,427.6 220.8,422.6C223.0,417.7 225.2,410.5 227.4,404.5C229.6,398.4 231.8,391.8 234.0,386.3C236.2,380.8 238.2,375.5 240.6,371.4C243.1,367.2 245.9,364.5 248.9,361.5C251.9,358.4 255.8,355.9 258.8,353.2C261.9,350.4 264.4,347.7 267.1,344.9C269.9,342.2 271.2,340.0 275.4,336.7C279.5,333.3 286.4,328.4 291.9,325.1C297.4,321.8 303.4,319.3 308.5,316.8C313.6,314.3 320.2,311.3 322.5,310.2" fill="none" stroke="#c81e82" stroke-width="1.3" stroke-opacity="0.8" stroke-linecap="round" stroke-linejoin="round"/>
<path d="M199.9,435.4 201.6,435.5 203.2,435.5 204.6,435.5 205.9,435.5 207.1,435.5 208.1,435.5 209.0,435.5 209.7,435.4 210.4,435.4 210.9,435.3 211.4,435.2 211.8,435.1 212.3,434.9 212.7,434.6 213.2,434.2 213.8,433.8 214.4,433.2 214.9,432.6 215.5,431.8 216.0,431.0 216.5,430.1 217.1,429.2 217.6,428.2 218.1,427.1 218.6,426.0 219.2,424.8 219.7,423.6 220.3,422.4 220.8,421.1 221.3,419.8 221.9,418.4 222.4,416.9 223.0,415.3 223.5,413.8 224.1,412.2 224.6,410.6 225.2,409.0 225.7,407.4 226.3,405.8 226.9,404.3 227.4,402.7 228.0,401.2 228.5,399.6 229.1,398.1 229.6,396.5 230.2,395.0 230.7,393.4 231.3,391.9 231.8,390.4 232.4,388.9 232.9,387.4 233.5,386.0 234.0,384.7 234.6,383.3 235.1,382.0 235.6,380.6 236.2,379.3 236.7,378.1 237.2,376.8 237.8,375.6 238.3,374.4 238.9,373.3 239.5,372.1 240.1,371.1 240.8,370.0 241.4,369.1 242.1,368.2 242.7,367.3 243.4,366.4 244.1,365.6 244.8,364.8 245.5,364.0 246.3,363.3 247.0,362.5 247.7,361.8 248.5,361.0 249.3,360.3 250.1,359.5 251.0,358.9 251.9,358.2 252.7,357.5 253.6,356.9 254.5,356.3 255.4,355.6 256.3,355.0 257.1,354.4 258.0,353.7 258.8,353.1 259.5,352.4 259.6,352.6 258.9,353.3 258.2,354.0 257.4,354.7 256.6,355.4 255.8,356.1 255.0,356.8 254.1,357.5 253.3,358.2 252.5,359.0 251.7,359.7 250.9,360.4 250.1,361.1 249.3,361.9 248.6,362.6 247.9,363.4 247.1,364.1 246.4,364.9 245.7,365.6 245.0,366.4 244.4,367.2 243.7,368.0 243.0,368.9 242.4,369.8 241.8,370.7 241.2,371.7 240.6,372.7 240.0,373.8 239.4,374.9 238.9,376.1 238.3,377.3 237.8,378.5 237.3,379.8 236.7,381.1 236.2,382.4 235.7,383.8 235.1,385.1 234.6,386.5 234.0,387.9 233.5,389.3 232.9,390.8 232.4,392.3 231.8,393.8 231.3,395.4 230.7,396.9 230.2,398.5 229.6,400.0 229.1,401.6 228.5,403.1 228.0,404.7 227.4,406.2 226.9,407.8 226.3,409.4 225.8,411.0 225.2,412.6 224.7,414.2 224.1,415.7 223.6,417.3 223.0,418.8 222.5,420.2 221.9,421.6 221.4,422.9 220.8,424.1 220.3,425.3 219.7,426.5 219.2,427.6 218.7,428.7 218.1,429.8 217.6,430.7 217.0,431.7 216.4,432.5 215.9,433.3 215.2,434.0 214.6,434.7 214.0,435.2 213.4,435.6 212.8,436.0 212.3,436.2 211.7,436.4 211.1,436.5 210.4,436.5 209.7,436.5 208.9,436.4 208.1,436.4 207.1,436.3 205.9,436.2 204.6,436.1 203.1,436.0 201.5,435.8 199.8,435.6Z" fill="#c81e82" stroke="#c81e82" stroke-width="1.3" stroke-linejoin="round"/>
<path d="M137.3,427.9C141.0,428.2 151.8,428.8 159.6,429.3C167.5,429.8 177.0,430.7 184.4,430.9C191.9,431.1 199.6,431.6 204.3,430.6C209.0,429.6 210.1,428.0 212.5,425.1C215.0,422.3 216.9,418.2 219.1,413.6C221.4,408.9 223.8,402.3 225.8,397.0C227.7,391.8 228.8,387.1 230.7,382.1C232.7,377.2 234.9,371.7 237.3,367.2C239.8,362.8 242.6,359.3 245.6,355.7C248.6,352.1 251.9,349.6 255.5,345.7C259.1,341.9 263.8,336.1 267.1,332.5C270.4,328.9 271.2,327.3 275.4,324.2C279.5,321.2 286.4,317.2 291.9,314.3C297.4,311.4 303.4,308.8 308.5,306.9C313.6,305.0 320.2,303.4 322.5,302.7" fill="none" stroke="#6e4282" stroke-width="2.2" stroke-opacity="0.8" stroke-linecap="round" stroke-linejoin="round"/>
<path d="M195.4,431.0 197.1,430.9 198.7,430.6 200.2,430.4 201.6,430.1 202.9,429.8 204.0,429.5 205.1,429.1 205.9,428.8 206.6,428.4 207.3,428.0 207.8,427.7 208.3,427.4 208.8,427.0 209.3,426.5 209.8,426.0 210.3,425.5 210.8,424.8 211.4,424.2 212.0,423.5 212.5,422.7 213.1,422.0 213.6,421.1 214.1,420.2 214.6,419.3 215.1,418.3 215.7,417.3 216.2,416.3 216.7,415.2 217.2,414.1 217.8,412.9 218.3,411.7 218.9,410.5 219.5,409.1 220.0,407.8 220.6,406.4 221.2,404.9 221.7,403.5 222.3,402.1 222.8,400.6 223.4,399.2 223.9,397.8 224.4,396.5 224.8,395.2 225.2,394.0 225.7,392.7 226.0,391.5 226.4,390.2 226.8,389.0 227.2,387.8 227.6,386.6 228.0,385.3 228.4,384.1 228.9,382.8 229.3,381.6 229.8,380.3 230.3,379.1 230.8,377.8 231.4,376.5 231.9,375.2 232.4,373.9 233.0,372.6 233.6,371.3 234.2,370.1 234.8,368.9 235.4,367.7 236.0,366.5 236.7,365.4 237.3,364.3 238.0,363.3 238.7,362.2 239.4,361.2 240.1,360.3 240.8,359.3 241.5,358.4 242.2,357.4 243.0,356.5 243.7,355.6 244.5,354.7 245.3,353.8 246.1,352.9 246.9,352.1 247.7,351.3 248.5,350.5 249.3,349.7 250.2,349.0 251.1,348.3 252.1,347.6 253.0,346.8 254.0,346.0 255.0,345.2 256.0,344.3 257.0,343.3 258.1,342.3 259.3,341.3 259.5,341.5 258.6,342.8 257.8,344.0 256.9,345.2 256.1,346.3 255.3,347.3 254.5,348.3 253.7,349.3 252.9,350.2 252.2,351.1 251.4,351.9 250.6,352.7 249.8,353.4 249.0,354.2 248.2,355.0 247.5,355.8 246.7,356.6 246.0,357.5 245.3,358.4 244.6,359.3 243.9,360.2 243.2,361.1 242.5,362.0 241.8,363.0 241.2,363.9 240.5,364.9 239.9,365.9 239.3,366.9 238.6,368.0 238.0,369.1 237.5,370.2 236.9,371.4 236.3,372.6 235.8,373.8 235.2,375.1 234.7,376.3 234.1,377.6 233.6,378.9 233.1,380.2 232.6,381.4 232.1,382.7 231.7,383.9 231.2,385.1 230.8,386.3 230.4,387.5 230.1,388.7 229.7,389.9 229.3,391.1 228.9,392.4 228.5,393.6 228.1,394.9 227.6,396.2 227.2,397.5 226.7,398.9 226.2,400.3 225.6,401.7 225.1,403.1 224.5,404.6 224.0,406.0 223.4,407.5 222.8,408.9 222.2,410.3 221.6,411.7 221.1,413.0 220.5,414.2 220.0,415.4 219.4,416.5 218.9,417.6 218.3,418.7 217.8,419.7 217.3,420.8 216.7,421.7 216.1,422.7 215.6,423.6 214.9,424.5 214.3,425.3 213.7,426.1 213.1,426.8 212.5,427.4 212.0,428.1 211.4,428.7 210.8,429.2 210.1,429.8 209.4,430.3 208.6,430.7 207.7,431.1 206.8,431.3 205.7,431.5 204.5,431.7 203.2,431.8 201.8,431.8 200.3,431.7 198.7,431.7 197.1,431.5 195.4,431.4Z" fill="#6e4282" stroke="#6e4282" stroke-width="1.3" stroke-linejoin="round"/>
<path d="M137.3,427.9C141.0,428.3 151.8,429.5 159.6,430.1C167.5,430.7 177.0,431.6 184.4,431.7C191.9,431.9 199.6,431.9 204.3,430.9C209.0,430.0 210.1,428.7 212.5,426.0C215.0,423.2 216.9,419.1 219.1,414.4C221.4,409.7 223.8,403.1 225.8,397.8C227.7,392.6 228.8,387.9 230.7,383.0C232.7,378.0 234.9,372.5 237.3,368.1C239.8,363.7 242.6,360.1 245.6,356.5C248.6,352.9 251.9,350.4 255.5,346.6C259.1,342.7 263.8,337.2 267.1,333.3C270.4,329.5 271.2,326.7 275.4,323.4C279.5,320.1 286.4,316.5 291.9,313.5C297.4,310.5 303.4,307.8 308.5,305.2C313.6,302.6 320.2,299.0 322.5,297.8" fill="none" stroke="#168080" stroke-width="2.6" stroke-opacity="0.8" stroke-linecap="round" stroke-linejoin="round"/>
<path d="M195.4,431.6 197.0,431.3 198.6,430.9 200.1,430.5 201.5,430.1 202.8,429.7 203.9,429.3 204.9,428.9 205.8,428.5 206.5,428.1 207.0,427.8 207.5,427.5 208.0,427.2 208.4,426.9 208.8,426.5 209.2,426.1 209.7,425.6 210.2,425.1 210.8,424.4 211.4,423.8 211.9,423.1 212.4,422.4 212.9,421.6 213.4,420.7 213.9,419.8 214.4,418.8 214.9,417.8 215.5,416.8 216.0,415.7 216.5,414.6 217.1,413.4 217.6,412.2 218.2,411.0 218.7,409.7 219.3,408.3 219.9,406.9 220.4,405.5 221.0,404.0 221.5,402.6 222.1,401.2 222.6,399.8 223.1,398.4 223.6,397.1 224.1,395.8 224.5,394.5 224.9,393.3 225.3,392.1 225.7,390.8 226.0,389.6 226.4,388.4 226.8,387.2 227.2,385.9 227.6,384.7 228.1,383.4 228.6,382.1 229.1,380.9 229.6,379.6 230.1,378.3 230.6,377.0 231.2,375.7 231.7,374.4 232.3,373.1 232.9,371.8 233.5,370.6 234.1,369.3 234.7,368.1 235.3,366.9 236.0,365.8 236.6,364.7 237.3,363.7 238.0,362.6 238.7,361.6 239.4,360.6 240.1,359.7 240.9,358.7 241.6,357.8 242.3,356.8 243.1,355.9 243.9,355.0 244.7,354.1 245.5,353.2 246.3,352.4 247.1,351.5 248.0,350.7 248.8,350.0 249.7,349.2 250.6,348.6 251.6,347.9 252.6,347.2 253.6,346.5 254.6,345.7 255.7,344.9 256.8,344.0 258.0,343.1 259.2,342.1 259.6,342.5 258.8,343.8 258.0,345.0 257.2,346.2 256.4,347.4 255.7,348.5 254.9,349.6 254.2,350.6 253.4,351.5 252.7,352.5 251.9,353.3 251.1,354.1 250.3,354.8 249.6,355.6 248.8,356.4 248.1,357.2 247.4,358.0 246.6,358.9 245.9,359.7 245.2,360.6 244.5,361.5 243.8,362.4 243.1,363.3 242.5,364.3 241.8,365.2 241.2,366.2 240.6,367.1 239.9,368.2 239.3,369.2 238.8,370.3 238.2,371.4 237.6,372.6 237.0,373.8 236.5,375.0 235.9,376.2 235.4,377.5 234.9,378.7 234.4,380.0 233.9,381.3 233.4,382.5 232.9,383.8 232.4,385.0 232.0,386.2 231.6,387.4 231.2,388.6 230.8,389.8 230.4,391.0 230.1,392.2 229.7,393.4 229.3,394.7 228.8,396.0 228.4,397.3 227.9,398.6 227.4,400.0 226.9,401.4 226.4,402.8 225.8,404.2 225.3,405.7 224.7,407.2 224.1,408.6 223.5,410.0 223.0,411.4 222.4,412.8 221.8,414.1 221.2,415.3 220.7,416.5 220.1,417.7 219.6,418.8 219.1,419.9 218.5,420.9 218.0,422.0 217.4,423.0 216.8,424.0 216.2,424.9 215.6,425.8 214.9,426.7 214.3,427.5 213.6,428.2 213.1,428.8 212.5,429.4 211.9,430.0 211.2,430.5 210.5,431.0 209.7,431.5 208.9,431.9 207.9,432.1 206.9,432.3 205.8,432.4 204.6,432.5 203.3,432.5 201.8,432.5 200.3,432.4 198.7,432.3 197.1,432.1 195.4,431.9Z" fill="#168080" stroke="#168080" stroke-width="1.3" stroke-linejoin="round"/>
<path d="M137.3,427.9C141.2,427.7 152.6,426.7 160.6,426.3C168.6,425.9 178.2,426.0 185.4,425.6C192.6,425.3 199.2,425.1 203.6,424.3C208.0,423.5 209.4,423.2 211.9,421.0C214.4,418.8 216.3,415.5 218.5,411.1C220.7,406.7 223.2,399.8 225.1,394.5C227.0,389.3 228.1,384.6 230.1,379.6C232.0,374.7 234.5,368.9 236.7,364.8C238.9,360.6 240.5,357.9 243.3,354.8C246.0,351.8 250.6,348.8 253.2,346.6C255.8,344.4 257.9,342.4 258.8,341.6" fill="none" stroke="#962d82" stroke-width="1.3" stroke-opacity="0.8" stroke-linecap="round" stroke-linejoin="round"/>
<path d="M197.1,424.9 198.5,424.7 199.9,424.5 201.2,424.2 202.4,424.0 203.5,423.7 204.5,423.5 205.4,423.2 206.2,423.0 206.9,422.8 207.6,422.6 208.1,422.3 208.6,422.1 209.1,421.8 209.6,421.5 210.1,421.1 210.6,420.7 211.2,420.3 211.8,419.7 212.3,419.1 212.9,418.5 213.4,417.8 213.9,417.1 214.4,416.3 215.0,415.5 215.5,414.6 216.0,413.7 216.5,412.7 217.1,411.7 217.6,410.6 218.1,409.5 218.7,408.3 219.3,407.0 219.8,405.6 220.4,404.2 221.0,402.8 221.5,401.3 222.1,399.8 222.6,398.4 223.2,396.9 223.7,395.5 224.2,394.2 224.6,392.9 225.1,391.6 225.5,390.4 225.9,389.1 226.2,387.9 226.6,386.7 227.0,385.5 227.4,384.2 227.8,383.0 228.2,381.8 228.7,380.5 229.1,379.3 229.6,378.0 230.1,376.7 230.7,375.4 231.2,374.1 231.8,372.8 232.4,371.5 232.9,370.2 233.5,368.9 234.1,367.7 234.7,366.5 235.2,365.4 235.8,364.3 236.3,363.3 236.9,362.3 237.4,361.4 237.9,360.5 238.4,359.7 238.9,358.8 239.5,358.0 240.0,357.3 240.6,356.5 241.2,355.7 241.9,354.9 242.6,354.2 243.3,353.4 244.1,352.6 245.0,351.8 245.9,351.1 246.9,350.4 247.8,349.8 248.8,349.1 249.7,348.5 250.6,347.9 251.5,347.4 252.3,346.8 253.0,346.3 253.7,345.8 254.3,345.3 254.9,344.8 255.5,344.4 256.1,344.0 256.2,344.1 255.7,344.6 255.2,345.1 254.6,345.7 254.1,346.3 253.4,346.9 252.8,347.5 252.1,348.1 251.3,348.8 250.5,349.5 249.7,350.3 248.8,351.0 248.0,351.8 247.1,352.6 246.3,353.3 245.5,354.1 244.7,354.8 244.0,355.5 243.4,356.2 242.8,357.0 242.2,357.7 241.7,358.4 241.1,359.2 240.6,359.9 240.1,360.7 239.6,361.5 239.1,362.4 238.6,363.3 238.1,364.2 237.6,365.2 237.0,366.3 236.5,367.4 235.9,368.6 235.3,369.8 234.7,371.0 234.2,372.3 233.6,373.6 233.1,374.9 232.5,376.2 232.0,377.5 231.5,378.8 231.0,380.0 230.5,381.2 230.1,382.4 229.7,383.6 229.3,384.9 228.9,386.1 228.5,387.3 228.2,388.5 227.8,389.8 227.4,391.0 227.0,392.3 226.5,393.6 226.0,394.9 225.5,396.2 225.0,397.6 224.5,399.1 224.0,400.5 223.4,402.0 222.8,403.5 222.3,404.9 221.7,406.4 221.1,407.8 220.5,409.1 219.9,410.3 219.4,411.5 218.8,412.6 218.3,413.7 217.7,414.7 217.2,415.6 216.7,416.5 216.1,417.4 215.6,418.2 215.0,419.0 214.4,419.8 213.8,420.5 213.2,421.1 212.5,421.7 211.9,422.3 211.3,422.8 210.7,423.2 210.1,423.5 209.5,423.8 208.8,424.1 208.1,424.2 207.4,424.4 206.6,424.5 205.7,424.6 204.8,424.8 203.7,424.9 202.5,425.0 201.3,425.0 199.9,425.1 198.5,425.1 197.1,425.1Z" fill="#962d82" stroke="#962d82" stroke-width="1.3" stroke-linejoin="round"/>
<path d="M109.8,297.3 V436.2 H340.3 V433.2" fill="none" stroke="#1a1a1a" stroke-width="1.7"/>
<line x1="109.8" y1="428.0" x2="113.0" y2="428.0" stroke="#1a1a1a" stroke-width="1.7"/>
<text x="101.3" y="436.9" font-size="33.5" text-anchor="end" transform="matrix(1 0 0 1 0.00 0.00)">0</text>
<line x1="109.8" y1="393.5" x2="113.0" y2="393.5" stroke="#1a1a1a" stroke-width="1.7"/>
<text x="101.3" y="402.4" font-size="33.5" text-anchor="end" transform="matrix(1 0 0 1 0.00 0.00)">0.1</text>
<line x1="109.8" y1="358.9" x2="113.0" y2="358.9" stroke="#1a1a1a" stroke-width="1.7"/>
<text x="101.3" y="367.8" font-size="33.5" text-anchor="end" transform="matrix(1 0 0 1 0.00 0.00)">0.2</text>
<line x1="109.8" y1="324.4" x2="113.0" y2="324.4" stroke="#1a1a1a" stroke-width="1.7"/>
<text x="101.3" y="333.3" font-size="33.5" text-anchor="end" transform="matrix(1 0 0 1 0.00 0.00)">0.3</text>
<line x1="225.1" y1="436.2" x2="225.1" y2="433.0" stroke="#1a1a1a" stroke-width="1.7"/>
<text x="225.1" y="468.8" font-size="33.5" text-anchor="middle" transform="matrix(1 0 0 1 0.00 0.00)">0</text>
<text x="340.3" y="468.8" font-size="33.5" text-anchor="middle" transform="matrix(1 0 0 1 0.00 0.00)">50</text>
<text x="108.5" y="468.8" font-size="33.5" text-anchor="middle" transform="matrix(1 0 0 1 0.00 0.00)">50</text>
<rect x="75.5" y="460.1" width="17.5" height="1.6" fill="#000"/>
<text x="224.6" y="286.7" font-size="33.5" text-anchor="middle" transform="matrix(1 0 0 1 0.00 0.00)">Exp 5</text>
<text x="27.5" y="286.4" font-size="40.5" text-anchor="middle">(<tspan font-style="italic" dx="0">e</tspan><tspan dx="0">)</tspan></text>
<path d="M491.6,424.3C499.8,424.6 529.0,425.9 540.4,426.3C551.9,426.7 555.6,427.3 560.3,426.8C565.0,426.3 566.1,426.0 568.5,423.5C571.0,421.0 572.9,416.7 575.1,411.9C577.4,407.1 579.8,399.9 581.8,394.5C583.7,389.2 584.8,384.6 586.7,379.6C588.7,374.7 590.9,368.5 593.3,364.8C595.8,361.0 598.6,359.4 601.6,357.3C604.6,355.3 607.9,354.2 611.5,352.4C615.1,350.6 618.4,348.5 623.1,346.6C627.8,344.6 634.1,342.3 639.6,340.8C645.2,339.3 650.0,338.4 656.2,337.5C662.4,336.6 673.4,335.7 676.9,335.3" fill="none" stroke="#6e4282" stroke-width="1.3" stroke-opacity="0.8" stroke-linecap="round" stroke-linejoin="round"/>
<path d="M552.9,426.8 554.3,426.7 555.6,426.7 556.8,426.6 557.9,426.5 559.1,426.3 560.2,426.2 561.3,426.0 562.2,425.8 563.0,425.6 563.7,425.4 564.3,425.2 564.9,425.0 565.3,424.7 565.8,424.5 566.3,424.2 566.7,423.8 567.3,423.3 567.8,422.8 568.4,422.2 568.9,421.5 569.5,420.7 570.0,419.9 570.5,419.0 571.1,418.1 571.6,417.1 572.1,416.1 572.6,415.0 573.2,413.8 573.7,412.7 574.2,411.5 574.8,410.2 575.3,408.9 575.9,407.5 576.5,406.1 577.1,404.6 577.6,403.1 578.2,401.5 578.7,400.0 579.3,398.5 579.8,397.0 580.3,395.6 580.8,394.2 581.3,392.9 581.7,391.6 582.1,390.3 582.5,389.1 582.9,387.9 583.3,386.6 583.7,385.4 584.1,384.2 584.5,383.0 584.9,381.8 585.3,380.5 585.8,379.3 586.3,378.0 586.8,376.7 587.3,375.4 587.8,374.0 588.4,372.7 588.9,371.4 589.5,370.0 590.0,368.8 590.6,367.5 591.2,366.3 591.9,365.2 592.5,364.2 593.2,363.3 593.8,362.4 594.5,361.6 595.2,360.9 595.9,360.3 596.6,359.7 597.4,359.1 598.1,358.6 598.9,358.1 599.6,357.6 600.4,357.2 601.2,356.7 602.0,356.3 602.9,355.9 603.7,355.5 604.5,355.1 605.4,354.8 606.2,354.4 607.1,354.1 608.0,353.8 608.8,353.5 609.7,353.2 609.8,353.3 608.9,353.7 608.1,354.2 607.3,354.6 606.5,355.0 605.7,355.5 604.9,355.9 604.2,356.4 603.4,356.9 602.7,357.4 602.0,357.9 601.3,358.5 600.6,359.0 599.9,359.6 599.2,360.1 598.6,360.7 597.9,361.2 597.3,361.8 596.6,362.4 596.0,363.0 595.4,363.7 594.8,364.5 594.2,365.3 593.6,366.3 593.0,367.3 592.4,368.4 591.9,369.6 591.3,370.8 590.7,372.1 590.2,373.4 589.7,374.8 589.2,376.1 588.6,377.4 588.1,378.7 587.7,380.0 587.2,381.2 586.8,382.4 586.4,383.6 586.0,384.8 585.6,386.0 585.2,387.2 584.8,388.5 584.4,389.7 584.0,390.9 583.6,392.2 583.2,393.5 582.7,394.9 582.2,396.2 581.7,397.7 581.2,399.2 580.6,400.7 580.1,402.2 579.5,403.8 578.9,405.3 578.3,406.8 577.8,408.3 577.2,409.7 576.6,411.0 576.1,412.3 575.5,413.5 575.0,414.7 574.4,415.8 573.9,416.9 573.4,418.0 572.8,419.0 572.3,420.0 571.7,421.0 571.1,421.9 570.5,422.7 569.9,423.5 569.2,424.2 568.6,424.8 568.0,425.3 567.4,425.8 566.9,426.2 566.2,426.5 565.6,426.8 564.9,427.0 564.1,427.1 563.3,427.2 562.4,427.3 561.4,427.4 560.3,427.4 559.1,427.4 558.0,427.4 556.8,427.3 555.6,427.2 554.3,427.1 552.9,427.0Z" fill="#6e4282" stroke="#6e4282" stroke-width="1.3" stroke-linejoin="round"/>
<path d="M491.6,424.3C495.6,424.6 507.5,425.5 515.6,426.0C523.7,426.4 533.0,426.6 540.4,426.8C547.9,426.9 555.6,427.5 560.3,426.8C565.0,426.1 566.1,425.3 568.5,422.6C571.0,420.0 572.9,416.0 575.1,411.1C577.4,406.1 579.8,398.4 581.8,392.9C583.7,387.4 584.8,383.2 586.7,378.0C588.7,372.8 590.9,365.7 593.3,361.5C595.8,357.2 598.0,355.1 601.6,352.4C605.2,349.6 609.9,347.3 614.8,344.9C619.8,342.6 625.9,340.2 631.4,338.3C636.9,336.4 642.4,334.7 647.9,333.3C653.4,332.0 659.6,331.0 664.5,330.0C669.3,329.1 674.8,328.0 676.9,327.6" fill="none" stroke="#416482" stroke-width="1.3" stroke-opacity="0.8" stroke-linecap="round" stroke-linejoin="round"/>
<path d="M551.4,427.0 553.1,426.8 554.7,426.6 556.2,426.3 557.6,426.1 558.9,425.8 560.1,425.5 561.1,425.1 562.0,424.8 562.7,424.5 563.3,424.2 563.8,423.9 564.3,423.7 564.7,423.4 565.1,423.1 565.5,422.8 566.0,422.4 566.5,421.9 567.1,421.3 567.6,420.7 568.1,420.0 568.7,419.3 569.2,418.5 569.7,417.7 570.2,416.8 570.7,415.8 571.2,414.8 571.7,413.7 572.2,412.6 572.8,411.5 573.3,410.3 573.9,409.0 574.4,407.6 575.0,406.2 575.5,404.7 576.1,403.1 576.7,401.5 577.2,399.9 577.8,398.3 578.3,396.7 578.9,395.1 579.4,393.6 579.9,392.2 580.3,390.9 580.8,389.6 581.2,388.3 581.6,387.1 582.0,385.9 582.3,384.7 582.7,383.5 583.1,382.3 583.5,381.1 583.9,379.9 584.4,378.6 584.8,377.3 585.3,376.0 585.8,374.6 586.3,373.1 586.9,371.7 587.4,370.2 588.0,368.7 588.5,367.2 589.1,365.7 589.7,364.3 590.3,362.9 591.0,361.7 591.6,360.5 592.3,359.4 592.9,358.4 593.6,357.4 594.2,356.6 594.9,355.7 595.6,355.0 596.3,354.2 597.1,353.5 597.8,352.8 598.7,352.2 599.6,351.6 600.6,351.0 601.6,350.4 602.7,349.9 603.8,349.3 605.0,348.8 606.2,348.4 607.4,347.9 608.6,347.4 609.9,347.0 611.1,346.6 611.2,346.8 610.1,347.5 609.1,348.3 608.0,349.1 607.0,349.8 606.1,350.6 605.1,351.4 604.3,352.2 603.4,352.9 602.6,353.7 601.9,354.5 601.2,355.2 600.5,355.9 599.8,356.5 599.1,357.1 598.5,357.7 597.9,358.4 597.4,359.1 596.8,359.8 596.2,360.6 595.7,361.5 595.1,362.5 594.5,363.5 593.9,364.7 593.4,365.9 592.8,367.2 592.2,368.6 591.7,370.1 591.2,371.5 590.6,373.0 590.1,374.5 589.6,375.9 589.1,377.3 588.6,378.7 588.1,380.0 587.7,381.2 587.3,382.4 586.9,383.6 586.5,384.8 586.1,385.9 585.8,387.1 585.4,388.3 585.0,389.6 584.6,390.9 584.1,392.2 583.7,393.5 583.2,395.0 582.6,396.4 582.1,398.0 581.6,399.6 581.0,401.2 580.4,402.8 579.9,404.5 579.3,406.1 578.7,407.6 578.1,409.1 577.6,410.5 577.0,411.9 576.4,413.1 575.9,414.3 575.3,415.5 574.8,416.6 574.3,417.7 573.7,418.7 573.1,419.7 572.6,420.7 572.0,421.6 571.3,422.4 570.7,423.3 570.0,424.0 569.4,424.7 568.8,425.3 568.2,425.8 567.5,426.3 566.9,426.8 566.2,427.2 565.4,427.5 564.5,427.8 563.6,427.9 562.7,428.0 561.6,428.1 560.4,428.1 559.1,428.1 557.7,428.0 556.3,427.8 554.7,427.7 553.1,427.4 551.4,427.2Z" fill="#416482" stroke="#416482" stroke-width="1.3" stroke-linejoin="round"/>
<path d="M491.6,424.3C495.8,425.1 508.3,427.7 516.6,429.3C524.9,430.8 534.0,432.4 541.4,433.4C548.9,434.4 556.6,435.3 561.3,435.1C565.9,434.8 567.0,434.4 569.5,431.7C572.0,429.1 573.9,424.4 576.1,419.3C578.3,414.2 580.6,406.9 582.8,401.1C585.0,395.4 587.2,389.3 589.4,384.6C591.6,379.9 593.2,376.1 596.0,373.0C598.7,370.0 601.2,368.6 605.9,366.4C610.6,364.2 618.3,361.7 624.1,359.8C629.9,357.9 635.1,356.2 640.6,354.8C646.2,353.5 651.1,352.5 657.2,351.5C663.2,350.6 673.6,349.5 676.9,349.1" fill="none" stroke="#168080" stroke-width="1.3" stroke-opacity="0.8" stroke-linecap="round" stroke-linejoin="round"/>
<path d="M554.1,434.6 555.7,434.5 557.3,434.4 558.7,434.2 560.0,434.0 561.2,433.8 562.2,433.6 563.2,433.4 563.9,433.1 564.6,432.9 565.1,432.7 565.5,432.4 565.9,432.2 566.2,432.0 566.6,431.7 567.0,431.4 567.5,430.9 568.1,430.4 568.6,429.8 569.1,429.1 569.6,428.3 570.1,427.5 570.6,426.6 571.1,425.6 571.7,424.5 572.2,423.4 572.7,422.3 573.2,421.0 573.8,419.8 574.3,418.6 574.8,417.3 575.4,415.9 575.9,414.5 576.5,413.0 577.0,411.4 577.6,409.8 578.1,408.3 578.7,406.7 579.2,405.1 579.8,403.5 580.3,401.9 580.9,400.4 581.4,399.0 582.0,397.5 582.5,396.1 583.1,394.6 583.6,393.2 584.2,391.7 584.8,390.3 585.3,388.9 585.9,387.6 586.4,386.3 587.0,385.0 587.6,383.8 588.1,382.6 588.6,381.5 589.1,380.4 589.7,379.3 590.2,378.3 590.7,377.3 591.3,376.3 591.8,375.3 592.4,374.3 593.1,373.4 593.8,372.5 594.5,371.7 595.2,370.9 596.0,370.2 596.7,369.5 597.5,368.9 598.3,368.3 599.2,367.8 600.1,367.4 601.1,367.0 602.1,366.6 603.1,366.3 604.3,365.9 605.5,365.5 606.8,365.1 608.3,364.7 609.8,364.4 611.4,364.0 611.5,364.3 610.0,365.1 608.7,365.8 607.5,366.6 606.3,367.3 605.3,368.0 604.3,368.7 603.5,369.3 602.7,369.9 601.9,370.5 601.3,371.0 600.6,371.6 600.0,372.0 599.3,372.6 598.7,373.1 598.1,373.7 597.5,374.4 596.9,375.1 596.3,375.8 595.8,376.6 595.2,377.4 594.7,378.2 594.2,379.1 593.7,380.1 593.2,381.1 592.8,382.1 592.2,383.2 591.7,384.3 591.2,385.5 590.6,386.6 590.1,387.9 589.6,389.1 589.0,390.4 588.5,391.8 587.9,393.2 587.4,394.6 586.8,396.0 586.3,397.5 585.7,398.9 585.2,400.4 584.6,401.9 584.1,403.3 583.5,404.8 583.0,406.4 582.4,408.0 581.9,409.6 581.3,411.2 580.8,412.7 580.2,414.3 579.7,415.9 579.1,417.3 578.5,418.8 578.0,420.1 577.4,421.4 576.9,422.6 576.4,423.9 575.8,425.1 575.3,426.2 574.7,427.4 574.2,428.5 573.6,429.5 573.0,430.5 572.4,431.4 571.7,432.3 571.0,433.1 570.3,433.8 569.7,434.4 569.1,434.9 568.4,435.4 567.7,435.8 566.9,436.1 566.1,436.3 565.3,436.4 564.4,436.4 563.5,436.4 562.5,436.4 561.3,436.3 560.0,436.2 558.7,436.0 557.2,435.7 555.7,435.4 554.0,435.1Z" fill="#168080" stroke="#168080" stroke-width="1.3" stroke-linejoin="round"/>
<path d="M491.6,424.3C495.6,424.3 507.5,424.4 515.6,424.3C523.7,424.2 533.5,423.9 540.4,423.5C547.3,423.1 552.8,422.8 557.0,421.8C561.1,420.9 562.7,420.0 565.2,417.7C567.7,415.3 569.6,412.2 571.8,407.8C574.0,403.4 576.5,396.7 578.5,391.2C580.4,385.7 581.8,380.2 583.4,374.7C585.1,369.2 586.4,363.1 588.4,358.2C590.3,353.2 592.5,348.8 595.0,344.9C597.5,341.1 600.0,338.0 603.3,335.0C606.6,332.0 610.2,329.8 614.8,326.7C619.5,323.7 625.9,319.8 631.4,316.8C636.9,313.8 642.4,311.0 647.9,308.5C653.4,306.1 659.6,303.7 664.5,301.9C669.3,300.1 674.8,298.5 676.9,297.8" fill="none" stroke="#962d82" stroke-width="1.3" stroke-opacity="0.8" stroke-linecap="round" stroke-linejoin="round"/>
<path d="M551.1,422.6 552.3,422.4 553.6,422.2 554.7,421.9 555.8,421.6 556.8,421.3 557.8,421.0 558.7,420.7 559.4,420.5 560.1,420.2 560.8,419.9 561.3,419.5 561.9,419.2 562.4,418.8 562.9,418.5 563.5,418.0 564.0,417.6 564.6,417.0 565.2,416.5 565.7,415.8 566.3,415.2 566.8,414.5 567.4,413.8 567.9,413.0 568.4,412.2 568.9,411.3 569.4,410.4 570.0,409.4 570.5,408.4 571.0,407.4 571.6,406.2 572.1,405.0 572.7,403.7 573.3,402.4 573.8,401.0 574.4,399.6 575.0,398.1 575.5,396.7 576.1,395.2 576.6,393.8 577.1,392.3 577.6,390.9 578.1,389.6 578.5,388.2 579.0,386.8 579.4,385.5 579.8,384.1 580.2,382.7 580.6,381.3 581.0,380.0 581.4,378.6 581.7,377.2 582.1,375.8 582.6,374.4 583.0,373.0 583.4,371.7 583.8,370.2 584.1,368.8 584.5,367.4 584.9,366.0 585.3,364.6 585.7,363.2 586.2,361.8 586.6,360.4 587.1,359.1 587.5,357.8 588.0,356.6 588.5,355.4 589.1,354.2 589.6,353.0 590.1,351.8 590.7,350.7 591.2,349.6 591.8,348.5 592.4,347.5 593.0,346.4 593.6,345.4 594.2,344.4 594.9,343.5 595.5,342.5 596.1,341.6 596.8,340.8 597.4,339.9 598.1,339.1 598.8,338.3 599.5,337.5 600.3,336.7 601.0,335.9 601.8,335.1 602.7,334.3 603.5,333.6 604.4,332.9 605.4,332.3 606.3,331.6 607.3,331.0 608.2,330.4 609.2,329.8 610.3,329.2 611.4,328.6 612.5,328.0 613.6,327.4 613.8,327.6 612.7,328.4 611.7,329.1 610.7,329.9 609.7,330.6 608.8,331.3 607.9,332.0 607.1,332.7 606.3,333.4 605.5,334.2 604.7,334.9 603.9,335.7 603.1,336.4 602.3,337.2 601.6,337.9 600.9,338.7 600.2,339.4 599.5,340.2 598.9,341.0 598.2,341.8 597.6,342.7 597.0,343.6 596.4,344.5 595.8,345.4 595.1,346.4 594.6,347.4 594.0,348.4 593.4,349.4 592.8,350.4 592.3,351.5 591.7,352.6 591.2,353.7 590.7,354.9 590.2,356.1 589.7,357.3 589.2,358.5 588.8,359.7 588.3,361.0 587.9,362.3 587.5,363.7 587.1,365.1 586.7,366.5 586.3,367.9 585.9,369.3 585.5,370.7 585.1,372.1 584.7,373.5 584.3,374.9 583.9,376.3 583.5,377.7 583.1,379.1 582.7,380.4 582.3,381.8 581.9,383.2 581.5,384.6 581.1,386.0 580.7,387.4 580.2,388.7 579.8,390.1 579.3,391.5 578.8,392.9 578.3,394.4 577.8,395.8 577.2,397.3 576.7,398.8 576.1,400.2 575.5,401.7 574.9,403.1 574.4,404.5 573.8,405.8 573.2,407.0 572.6,408.2 572.1,409.3 571.6,410.3 571.0,411.3 570.5,412.2 569.9,413.1 569.4,414.0 568.8,414.8 568.3,415.6 567.7,416.3 567.1,417.0 566.5,417.7 565.8,418.3 565.2,418.9 564.6,419.4 564.0,419.9 563.4,420.3 562.7,420.7 562.1,421.0 561.4,421.3 560.6,421.5 559.9,421.7 559.0,421.9 558.1,422.1 557.1,422.3 556.0,422.5 554.8,422.6 553.6,422.7 552.4,422.8 551.1,422.8Z" fill="#962d82" stroke="#962d82" stroke-width="1.3" stroke-linejoin="round"/>
<path d="M466.0,297.3 V436.2 H696.5 V433.2" fill="none" stroke="#1a1a1a" stroke-width="1.7"/>
<line x1="466.0" y1="424.9" x2="469.2" y2="424.9" stroke="#1a1a1a" stroke-width="1.7"/>
<text x="457.5" y="433.8" font-size="33.5" text-anchor="end" transform="matrix(1 0 0 1 0.00 0.00)">0</text>
<line x1="466.0" y1="391.5" x2="469.2" y2="391.5" stroke="#1a1a1a" stroke-width="1.7"/>
<text x="457.5" y="400.4" font-size="33.5" text-anchor="end" transform="matrix(1 0 0 1 0.00 0.00)">0.1</text>
<line x1="466.0" y1="358.1" x2="469.2" y2="358.1" stroke="#1a1a1a" stroke-width="1.7"/>
<text x="457.5" y="367.0" font-size="33.5" text-anchor="end" transform="matrix(1 0 0 1 0.00 0.00)">0.2</text>
<line x1="466.0" y1="324.7" x2="469.2" y2="324.7" stroke="#1a1a1a" stroke-width="1.7"/>
<text x="457.5" y="333.6" font-size="33.5" text-anchor="end" transform="matrix(1 0 0 1 0.00 0.00)">0.3</text>
<line x1="581.2" y1="436.2" x2="581.2" y2="433.0" stroke="#1a1a1a" stroke-width="1.7"/>
<text x="581.2" y="468.8" font-size="33.5" text-anchor="middle" transform="matrix(1 0 0 1 0.00 0.00)">0</text>
<text x="696.5" y="468.8" font-size="33.5" text-anchor="middle" transform="matrix(1 0 0 1 0.00 0.00)">50</text>
<text x="464.7" y="468.8" font-size="33.5" text-anchor="middle" transform="matrix(1 0 0 1 0.00 0.00)">50</text>
<rect x="431.7" y="460.1" width="17.5" height="1.6" fill="#000"/>
<text x="580.8" y="286.7" font-size="33.5" text-anchor="middle" transform="matrix(1 0 0 1 0.00 0.00)">Exp 6</text>
<text x="398.0" y="286.4" font-size="40.5" text-anchor="middle">(<tspan font-style="italic" dx="4">f</tspan><tspan dx="6">)</tspan></text>
<path d="M842.2,424.3C846.2,425.3 858.1,428.5 866.3,430.1C874.5,431.7 883.7,433.0 891.1,433.9C898.5,434.8 906.3,436.0 910.9,435.5C915.6,435.1 916.7,434.2 919.2,430.9C921.7,427.7 923.6,422.1 925.8,416.0C928.0,410.0 930.2,402.0 932.4,394.5C934.7,387.1 936.9,378.5 939.1,371.4C941.3,364.2 943.2,356.8 945.7,351.5C948.2,346.3 949.3,343.8 953.9,340.0C958.6,336.1 967.7,331.4 973.8,328.4C979.9,325.4 984.8,323.6 990.3,321.8C995.8,320.0 1000.4,318.5 1006.9,317.6C1013.3,316.8 1025.3,316.7 1029.0,316.5" fill="none" stroke="#c81e82" stroke-width="1.3" stroke-opacity="0.8" stroke-linecap="round" stroke-linejoin="round"/>
<path d="M902.1,435.2 903.8,435.3 905.4,435.3 906.9,435.3 908.4,435.3 909.7,435.2 910.9,435.1 912.0,434.9 912.9,434.7 913.7,434.5 914.4,434.3 915.1,434.0 915.6,433.7 916.1,433.4 916.6,433.0 917.1,432.5 917.6,432.0 918.2,431.3 918.7,430.6 919.3,429.7 919.9,428.8 920.5,427.8 921.0,426.7 921.5,425.5 922.1,424.3 922.6,423.0 923.1,421.6 923.7,420.2 924.2,418.8 924.7,417.3 925.3,415.8 925.8,414.3 926.4,412.7 926.9,411.0 927.5,409.2 928.0,407.5 928.6,405.6 929.1,403.8 929.7,401.9 930.2,400.0 930.8,398.1 931.3,396.2 931.9,394.4 932.4,392.5 933.0,390.6 933.5,388.6 934.1,386.7 934.6,384.7 935.2,382.7 935.7,380.7 936.3,378.8 936.8,376.8 937.4,374.9 937.9,373.0 938.5,371.2 939.0,369.4 939.6,367.6 940.1,365.8 940.6,364.0 941.2,362.3 941.7,360.6 942.2,358.9 942.8,357.2 943.3,355.6 943.9,354.1 944.5,352.7 945.1,351.3 945.7,350.0 946.3,348.9 946.8,347.8 947.4,346.8 947.9,345.8 948.5,344.9 949.1,344.0 949.8,343.1 950.6,342.2 951.5,341.4 952.4,340.4 953.6,339.5 954.9,338.6 956.4,337.6 958.0,336.6 959.7,335.7 961.5,334.7 963.3,333.8 963.4,334.0 961.7,335.1 960.0,336.2 958.4,337.3 956.9,338.4 955.5,339.4 954.3,340.4 953.2,341.3 952.3,342.2 951.5,343.1 950.7,343.9 950.1,344.7 949.5,345.6 948.9,346.4 948.4,347.4 947.9,348.3 947.4,349.4 946.8,350.5 946.2,351.8 945.6,353.1 945.0,354.5 944.5,356.0 943.9,357.6 943.4,359.2 942.8,360.9 942.3,362.6 941.8,364.4 941.3,366.2 940.7,368.0 940.2,369.8 939.6,371.6 939.1,373.4 938.5,375.2 938.0,377.1 937.4,379.1 936.9,381.0 936.3,383.0 935.8,385.0 935.2,387.0 934.7,388.9 934.1,390.9 933.6,392.8 933.0,394.7 932.5,396.6 931.9,398.5 931.4,400.3 930.8,402.2 930.3,404.1 929.7,406.0 929.2,407.8 928.6,409.6 928.1,411.3 927.5,413.0 927.0,414.7 926.4,416.2 925.9,417.7 925.3,419.2 924.8,420.7 924.2,422.1 923.7,423.4 923.2,424.8 922.6,426.0 922.1,427.2 921.5,428.4 920.9,429.4 920.3,430.4 919.7,431.3 919.1,432.1 918.5,432.7 918.0,433.4 917.4,433.9 916.8,434.4 916.2,434.8 915.5,435.1 914.8,435.4 914.0,435.6 913.1,435.8 912.1,435.9 911.0,436.0 909.7,436.0 908.4,436.0 906.9,435.9 905.4,435.8 903.7,435.6 902.1,435.3Z" fill="#c81e82" stroke="#c81e82" stroke-width="1.3" stroke-linejoin="round"/>
<path d="M842.2,424.3C846.3,424.0 858.9,423.1 867.2,422.6C875.5,422.2 885.4,422.2 892.0,421.8C898.6,421.4 903.0,421.4 906.9,420.2C910.8,418.9 912.7,417.3 915.2,414.4C917.6,411.5 919.6,407.5 921.8,402.8C924.0,398.1 926.5,391.8 928.4,386.3C930.3,380.8 931.7,375.0 933.4,369.7C935.0,364.5 936.4,359.8 938.3,354.8C940.2,349.9 942.5,344.1 944.9,340.0C947.4,335.8 949.6,333.1 953.2,330.0C956.8,327.0 961.5,324.8 966.4,321.8C971.4,318.7 977.5,314.6 983.0,311.8C988.5,309.1 992.1,307.6 999.5,305.2C1006.9,302.9 1022.7,299.0 1027.4,297.8" fill="none" stroke="#416482" stroke-width="1.3" stroke-opacity="0.8" stroke-linecap="round" stroke-linejoin="round"/>
<path d="M899.2,421.3 900.5,421.1 901.6,421.0 902.8,420.8 903.8,420.5 904.8,420.3 905.8,420.0 906.7,419.6 907.6,419.3 908.4,418.9 909.2,418.5 909.8,418.1 910.5,417.7 911.1,417.2 911.7,416.8 912.2,416.3 912.8,415.8 913.4,415.2 914.0,414.5 914.6,413.9 915.1,413.1 915.7,412.4 916.3,411.6 916.8,410.7 917.3,409.8 917.9,408.9 918.4,407.9 918.9,406.9 919.4,405.8 920.0,404.7 920.5,403.6 921.1,402.5 921.6,401.3 922.2,400.0 922.7,398.7 923.3,397.3 923.9,396.0 924.4,394.5 925.0,393.1 925.6,391.7 926.1,390.2 926.6,388.8 927.1,387.4 927.6,386.0 928.1,384.6 928.6,383.2 929.0,381.9 929.4,380.5 929.8,379.1 930.2,377.7 930.6,376.3 931.0,374.9 931.4,373.5 931.8,372.2 932.2,370.8 932.6,369.5 933.0,368.2 933.4,366.9 933.8,365.7 934.2,364.4 934.6,363.2 935.0,361.9 935.4,360.7 935.8,359.5 936.2,358.3 936.6,357.0 937.1,355.8 937.6,354.6 938.1,353.3 938.6,352.0 939.1,350.7 939.6,349.4 940.1,348.1 940.7,346.8 941.2,345.5 941.8,344.2 942.4,343.0 943.0,341.8 943.6,340.6 944.2,339.6 944.9,338.5 945.5,337.6 946.1,336.6 946.7,335.8 947.4,334.9 948.0,334.1 948.7,333.3 949.4,332.5 950.2,331.7 951.0,331.0 951.8,330.2 952.7,329.4 953.7,328.7 954.7,328.1 955.8,327.4 956.9,326.8 958.0,326.2 959.1,325.6 960.3,325.0 961.5,324.4 962.7,323.8 962.8,324.0 961.7,324.8 960.6,325.5 959.5,326.2 958.4,326.9 957.4,327.6 956.4,328.4 955.5,329.1 954.6,329.9 953.7,330.6 952.9,331.4 952.1,332.1 951.3,332.9 950.6,333.6 949.9,334.3 949.3,335.1 948.6,335.9 948.0,336.7 947.4,337.5 946.8,338.4 946.2,339.4 945.6,340.4 945.0,341.4 944.4,342.5 943.8,343.7 943.3,344.9 942.7,346.1 942.2,347.4 941.6,348.7 941.1,350.0 940.6,351.3 940.1,352.6 939.6,353.9 939.1,355.1 938.6,356.4 938.1,357.6 937.7,358.8 937.3,360.0 936.9,361.2 936.5,362.4 936.1,363.7 935.7,364.9 935.3,366.1 934.9,367.4 934.5,368.7 934.1,370.0 933.7,371.3 933.3,372.6 932.9,374.0 932.5,375.3 932.1,376.7 931.8,378.1 931.3,379.5 930.9,380.9 930.5,382.3 930.1,383.7 929.6,385.1 929.2,386.5 928.7,387.9 928.1,389.4 927.6,390.8 927.1,392.2 926.5,393.7 925.9,395.1 925.4,396.6 924.8,398.0 924.2,399.3 923.6,400.7 923.1,401.9 922.5,403.1 922.0,404.3 921.4,405.4 920.9,406.5 920.4,407.6 919.8,408.6 919.3,409.6 918.7,410.6 918.2,411.6 917.6,412.4 917.0,413.3 916.4,414.1 915.8,414.9 915.2,415.6 914.5,416.3 913.9,416.9 913.3,417.5 912.7,418.0 912.0,418.5 911.3,419.0 910.6,419.4 909.8,419.8 908.9,420.1 908.0,420.4 907.1,420.7 906.0,420.9 905.0,421.1 903.9,421.3 902.8,421.4 901.7,421.4 900.5,421.5 899.3,421.5Z" fill="#416482" stroke="#416482" stroke-width="1.3" stroke-linejoin="round"/>
<path d="M941.4,353.2C942.5,351.0 945.5,343.7 948.0,340.0C950.5,336.2 953.0,333.8 956.3,330.9C959.6,328.0 963.2,325.4 967.8,322.6C972.5,319.8 978.9,316.7 984.4,314.3C989.9,312.0 993.7,310.1 1000.9,308.5C1008.1,307.0 1023.0,305.8 1027.4,305.2" fill="none" stroke="#6e4282" stroke-width="1.3" stroke-opacity="0.8" stroke-linecap="round" stroke-linejoin="round"/>
<path d="M940.5,352.8 940.8,352.1 941.2,351.3 941.6,350.3 942.1,349.2 942.7,348.0 943.3,346.7 943.9,345.4 944.5,344.1 945.2,342.8 945.8,341.6 946.5,340.4 947.2,339.4 947.8,338.5 948.4,337.6 949.1,336.8 949.7,335.9 950.4,335.2 951.1,334.4 951.8,333.7 952.5,333.0 953.2,332.3 954.0,331.5 954.8,330.8 955.7,330.2 956.6,329.5 957.5,328.9 958.4,328.2 959.3,327.6 960.3,326.9 961.3,326.3 962.3,325.7 963.3,325.1 964.4,324.5 965.5,323.9 965.6,324.0 964.6,324.8 963.6,325.5 962.7,326.3 961.8,327.0 960.9,327.8 960.1,328.5 959.2,329.3 958.4,330.0 957.6,330.8 956.9,331.6 956.1,332.3 955.4,333.0 954.6,333.7 953.9,334.4 953.2,335.1 952.6,335.8 951.9,336.5 951.3,337.2 950.7,338.0 950.0,338.8 949.4,339.6 948.8,340.5 948.2,341.5 947.6,342.6 947.0,343.8 946.3,345.0 945.7,346.3 945.1,347.6 944.5,348.8 943.9,350.0 943.4,351.1 943.0,352.1 942.6,353.0 942.3,353.6Z" fill="#6e4282" stroke="#6e4282" stroke-width="1.3" stroke-linejoin="round"/>
<path d="M842.2,424.3C846.6,424.9 860.1,426.8 868.6,427.6C877.2,428.4 886.3,428.8 893.4,428.9C900.6,429.1 907.5,429.5 911.6,428.4C915.7,427.4 916.0,426.1 918.2,422.6C920.4,419.2 922.6,413.6 924.8,407.8C927.0,402.0 929.5,394.3 931.5,387.9C933.4,381.6 934.8,375.2 936.4,369.7C938.1,364.2 939.4,359.3 941.4,354.8C943.3,350.4 945.0,346.6 948.0,343.3C951.0,340.0 954.9,337.8 959.6,335.0C964.3,332.2 970.6,329.2 976.1,326.7C981.6,324.2 987.1,321.9 992.6,320.1C998.2,318.3 1003.4,316.9 1009.2,316.0C1015.0,315.0 1024.3,314.6 1027.4,314.3" fill="none" stroke="#168080" stroke-width="1.3" stroke-opacity="0.8" stroke-linecap="round" stroke-linejoin="round"/>
<path d="M898.7,429.0 900.4,428.8 902.1,428.6 903.6,428.4 905.2,428.1 906.6,427.9 907.9,427.6 909.1,427.3 910.2,426.9 911.2,426.6 912.0,426.3 912.7,426.0 913.2,425.8 913.6,425.6 913.9,425.3 914.2,425.0 914.5,424.7 914.8,424.3 915.2,423.8 915.6,423.1 916.0,422.4 916.5,421.6 917.0,420.7 917.6,419.8 918.1,418.8 918.6,417.7 919.2,416.5 919.7,415.3 920.2,414.0 920.8,412.7 921.3,411.3 921.9,409.9 922.4,408.5 923.0,407.1 923.5,405.6 924.1,404.0 924.6,402.5 925.2,400.8 925.8,399.1 926.4,397.4 926.9,395.7 927.5,394.0 928.0,392.3 928.5,390.6 929.1,388.9 929.5,387.3 930.0,385.8 930.5,384.2 930.9,382.7 931.3,381.1 931.7,379.5 932.1,378.0 932.5,376.5 932.9,375.0 933.3,373.5 933.7,372.0 934.1,370.6 934.5,369.2 934.9,367.8 935.3,366.4 935.7,365.1 936.1,363.8 936.5,362.5 936.9,361.3 937.3,360.0 937.7,358.8 938.1,357.6 938.6,356.4 939.1,355.2 939.5,354.1 940.0,352.9 940.5,351.9 941.0,350.8 941.5,349.8 942.0,348.7 942.5,347.7 943.1,346.7 943.7,345.7 944.3,344.7 945.0,343.8 945.7,342.8 946.5,341.9 947.4,341.0 948.2,340.2 949.1,339.4 950.1,338.7 951.2,338.2 952.3,337.6 953.4,337.1 954.5,336.6 955.6,336.1 956.8,335.6 958.0,335.1 959.3,334.5 960.6,334.0 962.0,333.5 962.1,333.7 960.9,334.6 959.8,335.5 958.8,336.3 957.8,337.1 956.8,337.9 955.8,338.7 954.9,339.5 954.1,340.3 953.2,341.0 952.5,341.8 951.7,342.5 950.9,343.2 950.2,343.9 949.5,344.6 948.8,345.4 948.2,346.2 947.6,347.0 947.1,347.8 946.5,348.7 946.0,349.6 945.6,350.5 945.1,351.5 944.6,352.5 944.2,353.5 943.7,354.6 943.2,355.6 942.8,356.7 942.3,357.8 941.9,358.9 941.5,360.1 941.1,361.3 940.7,362.5 940.3,363.7 939.9,365.0 939.5,366.3 939.1,367.6 938.7,368.9 938.3,370.3 937.9,371.7 937.5,373.1 937.1,374.5 936.8,376.0 936.4,377.5 936.0,379.0 935.6,380.6 935.2,382.1 934.7,383.7 934.3,385.3 933.8,386.9 933.4,388.5 932.9,390.1 932.4,391.8 931.8,393.5 931.3,395.2 930.7,396.9 930.2,398.7 929.6,400.4 929.0,402.1 928.4,403.8 927.8,405.4 927.3,407.0 926.7,408.5 926.2,409.9 925.6,411.4 925.0,412.8 924.5,414.2 923.9,415.5 923.4,416.9 922.8,418.2 922.2,419.4 921.7,420.6 921.1,421.7 920.5,422.7 919.9,423.7 919.4,424.5 919.0,425.3 918.5,425.9 918.1,426.6 917.6,427.2 917.1,427.8 916.5,428.4 915.8,428.9 915.0,429.4 914.1,429.7 913.2,430.1 912.1,430.3 910.8,430.4 909.5,430.4 908.1,430.4 906.7,430.3 905.2,430.1 903.7,429.9 902.0,429.7 900.4,429.4 898.7,429.1Z" fill="#168080" stroke="#168080" stroke-width="1.3" stroke-linejoin="round"/>
<path d="M818.6,297.3 V436.2 H1049.1 V433.2" fill="none" stroke="#1a1a1a" stroke-width="1.7"/>
<line x1="818.6" y1="424.4" x2="821.8" y2="424.4" stroke="#1a1a1a" stroke-width="1.7"/>
<text x="810.1" y="433.3" font-size="33.5" text-anchor="end" transform="matrix(1 0 0 1 0.00 0.00)">0</text>
<line x1="818.6" y1="379.2" x2="821.8" y2="379.2" stroke="#1a1a1a" stroke-width="1.7"/>
<text x="810.1" y="388.1" font-size="33.5" text-anchor="end" transform="matrix(1 0 0 1 0.00 0.00)">0.1</text>
<line x1="818.6" y1="334.1" x2="821.8" y2="334.1" stroke="#1a1a1a" stroke-width="1.7"/>
<text x="810.1" y="343.0" font-size="33.5" text-anchor="end" transform="matrix(1 0 0 1 0.00 0.00)">0.2</text>
<line x1="933.9" y1="436.2" x2="933.9" y2="433.0" stroke="#1a1a1a" stroke-width="1.7"/>
<text x="933.9" y="468.8" font-size="33.5" text-anchor="middle" transform="matrix(1 0 0 1 0.00 0.00)">0</text>
<text x="1049.1" y="468.8" font-size="33.5" text-anchor="middle" transform="matrix(1 0 0 1 0.00 0.00)">50</text>
<text x="817.3" y="468.8" font-size="33.5" text-anchor="middle" transform="matrix(1 0 0 1 0.00 0.00)">50</text>
<rect x="784.3" y="460.1" width="17.5" height="1.6" fill="#000"/>
<text x="933.4" y="286.7" font-size="33.5" text-anchor="middle" transform="matrix(1 0 0 1 0.00 0.00)">Exp 7</text>
<text x="753.5" y="286.8" font-size="40.5" text-anchor="middle">(<tspan font-style="italic" dx="0">g</tspan><tspan dx="0">)</tspan></text>
<path d="M1199.5,406.1C1207.5,406.5 1236.4,408.5 1247.4,408.6C1258.4,408.7 1261.2,408.2 1265.6,406.9C1270.0,405.7 1271.4,404.0 1273.9,401.1C1276.4,398.3 1278.3,394.0 1280.5,389.6C1282.7,385.2 1284.9,379.9 1287.1,374.7C1289.3,369.5 1291.2,363.7 1293.7,358.2C1296.2,352.6 1298.7,346.3 1302.0,341.6C1305.3,336.9 1308.9,333.9 1313.6,330.0C1318.3,326.2 1324.6,321.8 1330.1,318.5C1335.6,315.2 1341.1,312.5 1346.6,310.2C1352.2,307.8 1356.7,306.5 1363.2,304.4C1369.7,302.3 1381.8,298.9 1385.5,297.8" fill="none" stroke="#c81e82" stroke-width="1.3" stroke-opacity="0.8" stroke-linecap="round" stroke-linejoin="round"/>
<path d="M1259.0,408.2 1260.2,408.0 1261.4,407.8 1262.4,407.6 1263.5,407.3 1264.5,407.0 1265.5,406.7 1266.6,406.4 1267.5,406.0 1268.3,405.7 1269.0,405.3 1269.7,404.9 1270.3,404.4 1270.9,404.0 1271.4,403.4 1271.9,402.9 1272.5,402.3 1273.1,401.7 1273.6,401.0 1274.3,400.2 1274.8,399.4 1275.4,398.6 1276.0,397.7 1276.5,396.8 1277.0,395.8 1277.6,394.8 1278.1,393.8 1278.6,392.7 1279.1,391.6 1279.7,390.5 1280.2,389.4 1280.8,388.3 1281.3,387.2 1281.9,386.0 1282.4,384.8 1283.0,383.6 1283.5,382.3 1284.1,381.1 1284.6,379.8 1285.2,378.5 1285.7,377.2 1286.3,375.9 1286.8,374.6 1287.4,373.3 1287.9,371.9 1288.4,370.6 1289.0,369.2 1289.5,367.8 1290.0,366.4 1290.6,365.0 1291.1,363.6 1291.7,362.2 1292.2,360.8 1292.8,359.4 1293.5,358.0 1294.1,356.6 1294.7,355.2 1295.3,353.8 1296.0,352.3 1296.6,350.9 1297.3,349.4 1298.0,348.0 1298.7,346.6 1299.4,345.3 1300.1,343.9 1300.9,342.7 1301.7,341.4 1302.6,340.3 1303.4,339.2 1304.3,338.2 1305.2,337.2 1306.1,336.2 1307.1,335.3 1308.0,334.4 1309.0,333.5 1310.1,332.6 1311.2,331.7 1312.3,330.8 1313.5,329.9 1314.7,328.9 1316.0,328.0 1317.3,327.0 1317.4,327.1 1316.1,328.2 1314.9,329.2 1313.7,330.2 1312.6,331.1 1311.5,332.1 1310.4,333.0 1309.4,333.9 1308.4,334.8 1307.5,335.7 1306.5,336.6 1305.6,337.6 1304.8,338.6 1303.9,339.6 1303.1,340.7 1302.2,341.8 1301.4,343.0 1300.7,344.2 1299.9,345.5 1299.2,346.9 1298.5,348.3 1297.8,349.7 1297.2,351.1 1296.5,352.6 1295.9,354.0 1295.2,355.5 1294.6,356.9 1294.0,358.3 1293.4,359.7 1292.8,361.0 1292.2,362.4 1291.7,363.8 1291.1,365.2 1290.6,366.6 1290.1,368.0 1289.5,369.4 1289.0,370.8 1288.5,372.1 1287.9,373.5 1287.4,374.8 1286.8,376.1 1286.3,377.4 1285.7,378.7 1285.2,380.0 1284.6,381.3 1284.1,382.6 1283.5,383.8 1283.0,385.0 1282.4,386.2 1281.9,387.4 1281.3,388.6 1280.8,389.7 1280.2,390.8 1279.7,391.9 1279.1,393.0 1278.6,394.0 1278.1,395.1 1277.6,396.1 1277.0,397.1 1276.5,398.0 1275.9,398.9 1275.3,399.8 1274.7,400.6 1274.1,401.3 1273.5,402.0 1272.9,402.7 1272.4,403.3 1271.8,403.9 1271.3,404.4 1270.7,404.9 1270.0,405.4 1269.3,405.8 1268.5,406.2 1267.7,406.5 1266.7,406.8 1265.7,407.1 1264.6,407.4 1263.5,407.7 1262.5,407.9 1261.4,408.1 1260.3,408.2 1259.0,408.4Z" fill="#c81e82" stroke="#c81e82" stroke-width="1.3" stroke-linejoin="round"/>
<path d="M1199.5,406.1C1203.3,408.0 1214.6,414.0 1222.6,417.7C1230.6,421.4 1240.0,425.6 1247.4,428.4C1254.9,431.2 1262.6,434.1 1267.3,434.6C1272.0,435.0 1273.1,433.7 1275.5,430.9C1278.0,428.1 1279.9,422.9 1282.1,417.7C1284.4,412.4 1286.6,405.3 1288.8,399.5C1291.0,393.7 1292.9,388.2 1295.4,383.0C1297.9,377.7 1300.9,371.9 1303.6,368.1C1306.4,364.2 1307.5,362.6 1311.9,359.8C1316.3,357.0 1324.3,353.7 1330.1,351.5C1335.9,349.3 1341.1,348.0 1346.6,346.6C1352.2,345.2 1356.7,344.0 1363.2,343.3C1369.7,342.6 1381.8,342.6 1385.5,342.4" fill="none" stroke="#962d82" stroke-width="1.3" stroke-opacity="0.8" stroke-linecap="round" stroke-linejoin="round"/>
<path d="M1258.4,432.2 1260.2,432.4 1261.9,432.5 1263.5,432.6 1265.0,432.6 1266.3,432.5 1267.5,432.4 1268.4,432.2 1269.2,432.0 1269.8,431.8 1270.3,431.5 1270.6,431.4 1270.8,431.3 1271.1,431.1 1271.4,430.9 1271.8,430.6 1272.2,430.1 1272.7,429.6 1273.2,429.0 1273.7,428.4 1274.2,427.7 1274.7,426.9 1275.2,426.0 1275.7,425.0 1276.2,423.9 1276.7,422.8 1277.2,421.6 1277.8,420.4 1278.3,419.1 1278.8,417.8 1279.4,416.5 1279.9,415.2 1280.4,413.9 1281.0,412.4 1281.5,410.9 1282.1,409.4 1282.6,407.8 1283.2,406.2 1283.7,404.6 1284.3,403.0 1284.8,401.5 1285.4,399.9 1286.0,398.4 1286.5,397.0 1287.0,395.6 1287.6,394.2 1288.1,392.7 1288.6,391.3 1289.2,389.9 1289.7,388.5 1290.3,387.2 1290.8,385.8 1291.4,384.4 1292.0,383.0 1292.7,381.7 1293.3,380.3 1294.0,379.0 1294.7,377.6 1295.3,376.2 1296.1,374.9 1296.8,373.6 1297.5,372.2 1298.2,371.0 1299.0,369.7 1299.7,368.5 1300.5,367.4 1301.2,366.3 1301.9,365.4 1302.5,364.5 1303.1,363.7 1303.7,363.0 1304.3,362.2 1305.0,361.5 1305.7,360.7 1306.5,360.0 1307.3,359.4 1308.2,358.7 1309.3,358.1 1310.6,357.6 1312.0,357.1 1313.5,356.7 1315.1,356.2 1316.8,355.8 1318.5,355.4 1320.3,355.0 1322.1,354.6 1322.2,354.9 1320.7,355.9 1319.2,357.0 1317.8,358.1 1316.5,359.1 1315.3,360.1 1314.2,361.1 1313.3,362.0 1312.4,362.8 1311.7,363.5 1311.0,364.1 1310.4,364.6 1309.8,365.1 1309.3,365.6 1308.9,366.1 1308.4,366.7 1307.9,367.4 1307.3,368.1 1306.7,368.9 1306.1,369.8 1305.4,370.8 1304.8,371.8 1304.1,372.9 1303.4,374.0 1302.7,375.2 1302.0,376.4 1301.4,377.7 1300.7,379.0 1300.0,380.3 1299.4,381.6 1298.7,382.9 1298.1,384.2 1297.5,385.5 1296.9,386.8 1296.4,388.1 1295.8,389.4 1295.3,390.8 1294.8,392.1 1294.2,393.5 1293.7,394.9 1293.2,396.3 1292.7,397.7 1292.1,399.1 1291.6,400.6 1291.0,402.0 1290.5,403.5 1289.9,405.0 1289.4,406.6 1288.8,408.2 1288.3,409.8 1287.7,411.4 1287.2,412.9 1286.6,414.5 1286.1,416.0 1285.5,417.5 1284.9,418.8 1284.4,420.1 1283.8,421.4 1283.3,422.7 1282.8,424.0 1282.2,425.3 1281.7,426.5 1281.1,427.7 1280.5,428.8 1279.9,429.9 1279.2,431.0 1278.5,432.0 1277.8,432.9 1277.2,433.6 1276.6,434.3 1275.9,434.9 1275.2,435.5 1274.5,436.1 1273.6,436.6 1272.7,437.0 1271.6,437.3 1270.5,437.3 1269.4,437.2 1268.3,437.0 1267.1,436.7 1265.7,436.3 1264.4,435.7 1262.9,435.1 1261.4,434.3 1259.9,433.5 1258.3,432.6Z" fill="#962d82" stroke="#962d82" stroke-width="1.3" stroke-linejoin="round"/>
<path d="M1199.5,406.1C1207.5,407.1 1235.6,410.8 1247.4,411.9C1259.3,413.0 1265.3,413.4 1270.6,412.7C1275.8,412.0 1276.1,411.3 1278.8,407.8C1281.6,404.2 1284.6,397.3 1287.1,391.2C1289.6,385.2 1291.5,377.7 1293.7,371.4C1295.9,365.0 1297.9,358.4 1300.3,353.2C1302.8,348.0 1305.0,343.8 1308.6,340.0C1312.2,336.1 1316.9,332.8 1321.8,330.0C1326.8,327.3 1332.9,325.1 1338.4,323.4C1343.9,321.8 1347.1,321.1 1354.9,320.1C1362.8,319.1 1380.4,318.0 1385.5,317.6" fill="none" stroke="#416482" stroke-width="1.3" stroke-opacity="0.8" stroke-linecap="round" stroke-linejoin="round"/>
<path d="M1261.5,412.8 1263.2,412.8 1264.9,412.7 1266.4,412.5 1267.8,412.4 1269.2,412.2 1270.5,411.9 1271.6,411.7 1272.6,411.4 1273.4,411.2 1274.1,411.0 1274.6,410.8 1275.1,410.5 1275.5,410.2 1275.9,409.8 1276.4,409.3 1276.9,408.7 1277.4,408.0 1278.0,407.2 1278.7,406.2 1279.4,405.2 1280.1,404.0 1280.8,402.8 1281.5,401.4 1282.2,400.0 1282.9,398.5 1283.6,397.0 1284.2,395.5 1284.9,393.9 1285.6,392.4 1286.2,390.9 1286.8,389.3 1287.4,387.8 1287.9,386.1 1288.5,384.5 1289.0,382.8 1289.6,381.1 1290.1,379.4 1290.6,377.7 1291.2,376.0 1291.7,374.3 1292.2,372.7 1292.8,371.1 1293.3,369.5 1293.9,367.9 1294.4,366.3 1294.9,364.7 1295.4,363.1 1296.0,361.5 1296.5,360.0 1297.1,358.5 1297.6,357.0 1298.2,355.5 1298.8,354.1 1299.4,352.8 1300.1,351.5 1300.7,350.2 1301.3,349.0 1301.9,347.8 1302.5,346.7 1303.2,345.5 1303.9,344.4 1304.6,343.4 1305.4,342.3 1306.1,341.3 1307.0,340.3 1307.9,339.3 1308.8,338.3 1309.8,337.3 1310.8,336.4 1311.9,335.5 1313.0,334.7 1314.2,333.9 1315.4,333.2 1316.7,332.5 1317.9,331.8 1319.2,331.1 1320.5,330.5 1321.7,329.9 1323.1,329.3 1323.1,329.4 1321.9,330.2 1320.8,331.0 1319.6,331.8 1318.4,332.6 1317.3,333.5 1316.2,334.3 1315.2,335.2 1314.2,336.1 1313.2,337.1 1312.1,337.9 1311.2,338.8 1310.2,339.7 1309.3,340.6 1308.5,341.6 1307.7,342.5 1307.0,343.5 1306.2,344.5 1305.6,345.5 1304.9,346.6 1304.3,347.7 1303.7,348.8 1303.1,349.9 1302.5,351.1 1301.9,352.3 1301.2,353.6 1300.6,354.9 1300.1,356.3 1299.5,357.7 1299.0,359.2 1298.4,360.7 1297.9,362.2 1297.3,363.8 1296.8,365.3 1296.3,366.9 1295.8,368.5 1295.2,370.1 1294.7,371.7 1294.1,373.3 1293.6,374.9 1293.1,376.6 1292.5,378.3 1292.0,380.0 1291.5,381.7 1290.9,383.4 1290.4,385.1 1289.8,386.8 1289.2,388.4 1288.7,390.0 1288.0,391.6 1287.4,393.1 1286.7,394.7 1286.1,396.3 1285.4,397.8 1284.7,399.4 1284.0,400.9 1283.3,402.3 1282.5,403.7 1281.8,405.0 1281.1,406.2 1280.4,407.4 1279.6,408.4 1279.0,409.2 1278.4,410.0 1277.9,410.6 1277.3,411.2 1276.8,411.7 1276.2,412.2 1275.5,412.5 1274.8,412.9 1273.9,413.1 1273.0,413.3 1271.9,413.4 1270.7,413.5 1269.3,413.6 1267.9,413.6 1266.4,413.6 1264.9,413.5 1263.2,413.3 1261.5,413.1Z" fill="#416482" stroke="#416482" stroke-width="1.3" stroke-linejoin="round"/>
<path d="M1308.6,331.7C1310.8,330.5 1316.9,326.0 1321.8,324.2C1326.8,322.5 1332.9,321.4 1338.4,320.9C1343.9,320.5 1347.1,320.7 1354.9,321.8C1362.8,322.9 1380.4,326.6 1385.5,327.6" fill="none" stroke="#6e4282" stroke-width="1.3" stroke-opacity="0.8" stroke-linecap="round" stroke-linejoin="round"/>
<path d="M1308.1,330.8 1308.7,330.5 1309.5,330.0 1310.4,329.4 1311.4,328.8 1312.5,328.1 1313.7,327.3 1315.0,326.7 1316.3,326.0 1317.7,325.4 1319.0,324.8 1320.4,324.3 1321.7,323.9 1323.0,323.5 1324.3,323.2 1325.7,322.9 1325.8,323.1 1324.5,323.6 1323.2,324.1 1322.0,324.6 1320.8,325.2 1319.5,325.9 1318.3,326.6 1317.1,327.4 1315.9,328.2 1314.7,329.0 1313.5,329.8 1312.5,330.5 1311.4,331.1 1310.5,331.7 1309.8,332.2 1309.1,332.6Z" fill="#6e4282" stroke="#6e4282" stroke-width="1.3" stroke-linejoin="round"/>
<path d="M1199.5,406.1C1203.3,406.4 1214.6,407.2 1222.6,407.8C1230.6,408.3 1240.3,409.1 1247.4,409.4C1254.6,409.7 1261.2,410.0 1265.6,409.7C1270.0,409.5 1271.4,409.7 1273.9,407.8C1276.4,405.8 1278.3,402.3 1280.5,397.8C1282.7,393.4 1285.2,386.8 1287.1,381.3C1289.0,375.8 1290.1,370.6 1292.1,364.8C1294.0,359.0 1296.5,351.8 1298.7,346.6C1300.9,341.3 1302.8,336.7 1305.3,333.3C1307.8,330.0 1310.3,328.7 1313.6,326.7C1316.9,324.8 1321.0,323.4 1325.1,321.8C1329.3,320.1 1333.4,318.2 1338.4,316.8C1343.3,315.4 1347.1,314.5 1354.9,313.5C1362.8,312.5 1380.4,311.4 1385.5,311.0" fill="none" stroke="#168080" stroke-width="1.8" stroke-opacity="0.8" stroke-linecap="round" stroke-linejoin="round"/>
<path d="M1259.1,409.6 1260.5,409.3 1261.9,409.1 1263.2,408.8 1264.4,408.5 1265.5,408.2 1266.6,408.0 1267.5,407.7 1268.3,407.5 1269.0,407.3 1269.6,407.1 1270.0,406.9 1270.4,406.7 1270.7,406.5 1271.0,406.3 1271.3,406.2 1271.7,405.9 1272.1,405.6 1272.6,405.2 1273.0,404.7 1273.5,404.2 1274.0,403.6 1274.4,402.9 1274.9,402.2 1275.4,401.4 1275.9,400.6 1276.4,399.6 1276.9,398.7 1277.5,397.7 1278.0,396.6 1278.5,395.5 1279.1,394.3 1279.6,393.1 1280.2,391.7 1280.7,390.4 1281.3,389.0 1281.9,387.5 1282.4,386.1 1282.9,384.6 1283.5,383.2 1284.0,381.8 1284.5,380.4 1284.9,379.1 1285.3,377.7 1285.7,376.4 1286.1,375.1 1286.5,373.7 1286.9,372.4 1287.3,371.0 1287.7,369.6 1288.1,368.2 1288.5,366.8 1288.9,365.4 1289.4,363.9 1289.9,362.4 1290.4,360.9 1291.0,359.3 1291.5,357.7 1292.1,356.1 1292.6,354.5 1293.2,352.9 1293.8,351.4 1294.4,349.8 1295.0,348.3 1295.5,346.9 1296.1,345.5 1296.7,344.2 1297.2,342.9 1297.7,341.7 1298.3,340.4 1298.8,339.2 1299.4,338.0 1299.9,336.9 1300.5,335.8 1301.1,334.7 1301.7,333.6 1302.4,332.6 1303.1,331.7 1303.8,330.8 1304.5,329.9 1305.2,329.2 1305.9,328.5 1306.7,327.9 1307.5,327.3 1308.3,326.8 1309.1,326.4 1310.0,326.1 1310.8,325.7 1311.7,325.4 1312.7,325.1 1313.6,324.8 1314.6,324.5 1315.7,324.2 1316.7,324.0 1317.7,323.8 1318.8,323.5 1319.9,323.4 1321.0,323.2 1321.1,323.6 1320.2,324.2 1319.3,324.7 1318.4,325.3 1317.5,325.9 1316.7,326.5 1315.9,327.1 1315.2,327.7 1314.5,328.3 1313.8,329.0 1313.1,329.6 1312.5,330.2 1311.9,330.7 1311.4,331.3 1310.8,331.8 1310.2,332.2 1309.7,332.7 1309.1,333.2 1308.6,333.7 1308.1,334.3 1307.5,335.0 1307.0,335.8 1306.5,336.6 1306.0,337.5 1305.4,338.4 1304.9,339.4 1304.4,340.4 1303.9,341.5 1303.4,342.7 1302.9,343.9 1302.3,345.1 1301.8,346.4 1301.3,347.7 1300.7,349.0 1300.2,350.4 1299.6,351.8 1299.0,353.3 1298.5,354.8 1297.9,356.4 1297.4,358.0 1296.8,359.6 1296.3,361.1 1295.7,362.7 1295.2,364.2 1294.7,365.6 1294.3,367.0 1293.8,368.4 1293.4,369.8 1293.0,371.2 1292.7,372.5 1292.3,373.9 1291.9,375.3 1291.5,376.6 1291.1,378.0 1290.7,379.4 1290.2,380.8 1289.8,382.2 1289.3,383.6 1288.7,385.1 1288.2,386.6 1287.6,388.0 1287.1,389.5 1286.5,391.0 1285.9,392.5 1285.3,393.9 1284.8,395.3 1284.2,396.6 1283.6,397.9 1283.0,399.1 1282.4,400.2 1281.9,401.3 1281.3,402.3 1280.8,403.3 1280.2,404.3 1279.7,405.2 1279.1,406.1 1278.4,407.0 1277.8,407.8 1277.1,408.6 1276.4,409.3 1275.6,409.9 1274.9,410.5 1274.1,411.0 1273.4,411.4 1272.5,411.7 1271.7,411.8 1270.9,411.9 1270.1,411.9 1269.3,411.8 1268.5,411.7 1267.7,411.6 1266.7,411.4 1265.7,411.3 1264.5,411.1 1263.3,410.9 1261.9,410.7 1260.5,410.4 1259.1,410.1Z" fill="#168080" stroke="#168080" stroke-width="1.3" stroke-linejoin="round"/>
<path d="M1173.4,297.3 V436.2 H1403.9 V433.2" fill="none" stroke="#1a1a1a" stroke-width="1.7"/>
<line x1="1173.4" y1="406.5" x2="1176.6" y2="406.5" stroke="#1a1a1a" stroke-width="1.7"/>
<text x="1164.9" y="415.4" font-size="33.5" text-anchor="end" transform="matrix(1 0 0 1 0.00 0.00)">0</text>
<line x1="1173.4" y1="368.8" x2="1176.6" y2="368.8" stroke="#1a1a1a" stroke-width="1.7"/>
<text x="1164.9" y="377.6" font-size="33.5" text-anchor="end" transform="matrix(1 0 0 1 0.00 0.00)">0.1</text>
<line x1="1173.4" y1="331.0" x2="1176.6" y2="331.0" stroke="#1a1a1a" stroke-width="1.7"/>
<text x="1164.9" y="339.9" font-size="33.5" text-anchor="end" transform="matrix(1 0 0 1 0.00 0.00)">0.2</text>
<line x1="1288.7" y1="436.2" x2="1288.7" y2="433.0" stroke="#1a1a1a" stroke-width="1.7"/>
<text x="1288.7" y="468.8" font-size="33.5" text-anchor="middle" transform="matrix(1 0 0 1 0.00 0.00)">0</text>
<text x="1403.9" y="468.8" font-size="33.5" text-anchor="middle" transform="matrix(1 0 0 1 0.00 0.00)">50</text>
<text x="1172.1" y="468.8" font-size="33.5" text-anchor="middle" transform="matrix(1 0 0 1 0.00 0.00)">50</text>
<rect x="1139.1" y="460.1" width="17.5" height="1.6" fill="#000"/>
<text x="1288.2" y="286.7" font-size="33.5" text-anchor="middle" transform="matrix(1 0 0 1 0.00 0.00)">Exp 8</text>
<text x="1098.0" y="285.5" font-size="40.5" text-anchor="middle">(<tspan font-style="italic" dx="0">h</tspan><tspan dx="0">)</tspan></text>
<text transform="translate(37.2,367.8) rotate(-90)" font-size="40.5" text-anchor="middle"><tspan font-style="italic">x</tspan><tspan font-style="italic" font-size="28.5" dy="9" dx="-0.5">p</tspan><tspan dy="-9" dx="1"> (m)</tspan></text>
<path d="M137.3,676.8C145.0,678.3 172.2,683.8 183.4,685.6C194.7,687.3 200.0,687.5 204.9,687.2C209.9,686.9 210.7,686.7 213.2,683.9C215.7,681.2 217.6,676.2 219.8,670.7C222.0,665.2 224.2,658.8 226.4,650.8C228.6,642.8 230.6,631.0 233.0,622.7C235.5,614.5 238.6,606.5 241.3,601.2C244.1,596.0 245.4,594.3 249.6,591.3C253.7,588.3 260.6,585.5 266.1,583.0C271.6,580.6 277.1,578.1 282.7,576.4C288.2,574.8 292.5,573.9 299.2,573.1C305.8,572.3 318.6,572.0 322.5,571.8" fill="none" stroke="#962d82" stroke-width="1.3" stroke-opacity="0.8" stroke-linecap="round" stroke-linejoin="round"/>
<path d="M196.5,687.1 198.2,687.0 199.7,687.0 201.1,686.9 202.4,686.8 203.7,686.7 204.9,686.5 206.0,686.4 207.0,686.2 207.8,686.1 208.5,685.9 209.1,685.7 209.6,685.6 210.1,685.4 210.5,685.1 210.9,684.8 211.4,684.4 211.9,683.9 212.4,683.3 213.0,682.6 213.6,681.8 214.1,680.9 214.6,680.0 215.2,679.0 215.7,677.9 216.2,676.8 216.7,675.6 217.3,674.3 217.8,673.0 218.3,671.7 218.9,670.3 219.4,668.9 220.0,667.5 220.5,666.0 221.1,664.5 221.6,663.0 222.2,661.4 222.7,659.7 223.3,658.0 223.8,656.2 224.4,654.4 224.9,652.5 225.5,650.6 226.0,648.5 226.5,646.3 227.1,644.0 227.6,641.6 228.1,639.2 228.7,636.7 229.2,634.2 229.7,631.7 230.3,629.3 230.9,626.9 231.5,624.6 232.1,622.4 232.7,620.4 233.4,618.3 234.0,616.3 234.7,614.3 235.4,612.4 236.1,610.5 236.9,608.7 237.6,606.9 238.3,605.2 239.0,603.6 239.7,602.2 240.4,600.8 241.1,599.5 241.7,598.4 242.3,597.4 242.9,596.4 243.5,595.6 244.2,594.8 244.8,594.1 245.5,593.3 246.3,592.6 247.1,592.0 248.0,591.2 249.0,590.6 250.2,589.9 251.5,589.2 252.8,588.6 254.2,587.9 255.7,587.3 257.2,586.7 258.7,586.1 258.9,586.4 257.4,587.2 256.1,588.0 254.7,588.8 253.4,589.6 252.2,590.4 251.1,591.2 250.1,592.0 249.2,592.8 248.4,593.5 247.6,594.1 246.9,594.8 246.3,595.4 245.7,596.1 245.1,596.8 244.6,597.6 244.0,598.4 243.5,599.4 242.8,600.5 242.2,601.7 241.5,603.0 240.8,604.5 240.1,606.0 239.4,607.7 238.7,609.4 238.0,611.2 237.3,613.1 236.6,615.0 235.9,616.9 235.3,618.9 234.6,621.0 234.0,623.0 233.4,625.1 232.8,627.4 232.2,629.7 231.7,632.1 231.1,634.6 230.6,637.1 230.1,639.6 229.5,642.0 229.0,644.5 228.5,646.8 227.9,649.0 227.4,651.1 226.8,653.1 226.3,655.0 225.7,656.8 225.2,658.6 224.6,660.3 224.1,662.0 223.5,663.6 223.0,665.2 222.4,666.7 221.8,668.2 221.3,669.7 220.7,671.1 220.2,672.4 219.7,673.8 219.1,675.1 218.6,676.3 218.1,677.6 217.5,678.8 217.0,679.9 216.4,681.0 215.8,682.0 215.2,682.9 214.6,683.8 213.9,684.6 213.3,685.2 212.8,685.8 212.2,686.3 211.6,686.8 211.0,687.1 210.4,687.4 209.7,687.7 208.9,687.8 208.1,687.9 207.2,687.9 206.1,687.9 205.0,687.9 203.7,687.9 202.4,687.8 201.1,687.7 199.6,687.6 198.1,687.4 196.5,687.2Z" fill="#962d82" stroke="#962d82" stroke-width="1.3" stroke-linejoin="round"/>
<path d="M137.3,676.8C140.7,677.4 150.1,679.6 157.6,680.6C165.2,681.7 175.3,682.4 182.4,683.1C189.6,683.8 196.2,684.9 200.6,684.7C205.0,684.6 206.4,684.6 208.9,682.3C211.4,679.9 213.3,675.6 215.5,670.7C217.7,665.7 220.2,658.8 222.1,652.5C224.1,646.2 225.4,639.0 227.1,632.6C228.7,626.3 230.1,620.8 232.0,614.5C234.0,608.1 236.5,599.8 238.7,594.6C240.9,589.4 242.2,586.1 245.3,583.0C248.3,580.0 252.2,578.4 256.9,576.4C261.5,574.5 267.9,572.7 273.4,571.5C278.9,570.2 281.7,569.5 289.9,569.0C298.1,568.4 317.1,568.3 322.5,568.2" fill="none" stroke="#c81e82" stroke-width="1.3" stroke-opacity="0.8" stroke-linecap="round" stroke-linejoin="round"/>
<path d="M194.1,684.3 195.6,684.4 196.9,684.5 198.3,684.5 199.5,684.5 200.6,684.5 201.7,684.4 202.6,684.3 203.4,684.2 204.1,684.1 204.8,684.0 205.4,683.9 205.9,683.7 206.4,683.5 206.9,683.2 207.4,682.8 208.0,682.4 208.5,681.9 209.1,681.3 209.7,680.6 210.3,679.9 210.8,679.1 211.3,678.2 211.9,677.2 212.4,676.2 212.9,675.2 213.4,674.0 214.0,672.9 214.5,671.7 215.1,670.5 215.6,669.2 216.2,667.9 216.7,666.5 217.3,665.0 217.9,663.5 218.5,661.9 219.0,660.4 219.6,658.8 220.1,657.2 220.6,655.5 221.2,653.9 221.6,652.4 222.1,650.8 222.6,649.1 223.0,647.5 223.4,645.8 223.8,644.1 224.2,642.5 224.6,640.8 225.0,639.1 225.4,637.4 225.8,635.8 226.2,634.1 226.6,632.5 227.0,631.0 227.4,629.4 227.8,627.9 228.2,626.4 228.6,624.9 229.0,623.4 229.4,621.9 229.8,620.4 230.2,618.9 230.6,617.4 231.1,615.9 231.6,614.3 232.1,612.7 232.6,611.0 233.1,609.3 233.7,607.5 234.2,605.7 234.8,604.0 235.3,602.2 235.9,600.5 236.5,598.9 237.1,597.3 237.6,595.8 238.2,594.4 238.7,593.1 239.2,591.9 239.7,590.8 240.2,589.7 240.7,588.7 241.2,587.8 241.7,586.8 242.3,585.9 242.9,585.1 243.5,584.3 244.2,583.5 244.9,582.7 245.7,581.9 246.6,581.2 247.4,580.6 248.3,580.0 249.3,579.5 250.3,579.0 251.3,578.5 252.3,578.1 253.4,577.6 254.5,577.2 255.6,576.7 256.8,576.3 258.0,575.9 258.1,576.0 256.9,576.5 255.8,577.1 254.7,577.6 253.6,578.1 252.6,578.6 251.6,579.1 250.6,579.6 249.7,580.2 248.8,580.8 248.0,581.4 247.2,582.0 246.4,582.7 245.6,583.4 244.9,584.1 244.3,584.9 243.7,585.7 243.1,586.5 242.6,587.3 242.1,588.2 241.6,589.2 241.1,590.2 240.7,591.2 240.2,592.3 239.7,593.5 239.1,594.8 238.6,596.2 238.0,597.6 237.4,599.2 236.9,600.8 236.3,602.5 235.7,604.3 235.2,606.0 234.6,607.8 234.1,609.6 233.5,611.3 233.0,613.0 232.5,614.6 232.1,616.2 231.6,617.7 231.2,619.2 230.8,620.7 230.3,622.2 229.9,623.7 229.6,625.2 229.2,626.7 228.8,628.2 228.4,629.7 228.0,631.2 227.6,632.8 227.2,634.4 226.8,636.0 226.4,637.6 226.0,639.3 225.6,641.0 225.2,642.7 224.8,644.4 224.4,646.1 224.0,647.7 223.5,649.4 223.1,651.0 222.6,652.6 222.1,654.2 221.6,655.9 221.1,657.5 220.5,659.1 220.0,660.7 219.4,662.3 218.8,663.8 218.2,665.4 217.7,666.8 217.1,668.2 216.5,669.6 216.0,670.9 215.4,672.1 214.9,673.3 214.3,674.5 213.8,675.6 213.3,676.7 212.7,677.7 212.2,678.7 211.6,679.6 211.1,680.4 210.5,681.2 209.9,682.0 209.2,682.6 208.6,683.2 208.0,683.7 207.4,684.0 206.8,684.4 206.2,684.6 205.6,684.8 204.9,684.9 204.2,685.0 203.5,685.0 202.6,685.0 201.7,685.0 200.6,685.0 199.5,685.0 198.2,684.9 196.9,684.8 195.5,684.6 194.1,684.4Z" fill="#c81e82" stroke="#c81e82" stroke-width="1.3" stroke-linejoin="round"/>
<path d="M234.0,599.6C235.4,596.8 239.5,587.2 242.3,583.0C245.1,578.9 246.4,577.2 250.6,574.8C254.7,572.3 261.6,569.9 267.1,568.2C272.6,566.4 278.1,565.1 283.6,564.0C289.2,562.9 293.7,562.1 300.2,561.5C306.7,561.0 318.8,560.8 322.5,560.7" fill="none" stroke="#6e4282" stroke-width="1.3" stroke-opacity="0.8" stroke-linecap="round" stroke-linejoin="round"/>
<path d="M233.1,599.1 233.5,598.3 234.0,597.3 234.6,596.0 235.3,594.6 236.0,593.0 236.7,591.4 237.5,589.7 238.3,588.1 239.2,586.5 240.0,585.0 240.7,583.7 241.5,582.5 242.1,581.5 242.8,580.6 243.4,579.7 244.0,579.0 244.6,578.3 245.2,577.6 245.9,576.9 246.6,576.3 247.3,575.7 248.1,575.1 249.1,574.6 250.1,574.0 251.3,573.5 252.5,572.9 253.9,572.4 255.3,571.9 256.7,571.4 258.2,571.0 259.7,570.5 259.8,570.8 258.4,571.4 257.0,572.1 255.7,572.8 254.4,573.5 253.1,574.2 252.0,574.8 251.0,575.5 250.1,576.2 249.3,576.8 248.5,577.3 247.8,577.9 247.2,578.4 246.6,579.0 246.1,579.6 245.5,580.2 245.0,580.9 244.4,581.7 243.8,582.6 243.1,583.6 242.4,584.7 241.7,586.0 240.9,587.4 240.1,589.0 239.3,590.6 238.6,592.3 237.8,593.9 237.1,595.4 236.4,596.8 235.8,598.1 235.3,599.2 234.9,600.0Z" fill="#6e4282" stroke="#6e4282" stroke-width="1.3" stroke-linejoin="round"/>
<path d="M137.3,676.8C141.1,677.0 152.2,677.8 160.1,678.1C168.0,678.5 178.0,678.9 184.9,679.0C191.8,679.0 197.3,679.5 201.5,678.6C205.6,677.8 207.2,676.7 209.7,674.0C212.2,671.3 214.1,667.4 216.3,662.4C218.5,657.5 221.0,650.0 223.0,644.2C224.9,638.4 226.3,633.8 227.9,627.7C229.6,621.6 231.2,614.2 232.9,607.8C234.5,601.5 235.9,594.9 237.8,589.7C239.8,584.4 241.7,580.0 244.5,576.4C247.2,572.8 250.5,570.6 254.4,568.2C258.2,565.7 262.6,563.7 267.6,561.5C272.6,559.3 278.6,556.4 284.1,554.9C289.7,553.4 294.3,553.1 300.7,552.4C307.1,551.8 318.9,551.1 322.5,550.8" fill="none" stroke="#168080" stroke-width="2.4" stroke-opacity="0.8" stroke-linecap="round" stroke-linejoin="round"/>
<path d="M192.8,679.0 194.2,678.8 195.6,678.5 196.8,678.2 198.0,678.0 199.1,677.7 200.2,677.3 201.1,676.9 202.0,676.6 202.8,676.2 203.4,675.8 204.0,675.5 204.5,675.1 204.9,674.8 205.4,674.5 205.8,674.2 206.3,673.8 206.7,673.3 207.3,672.8 207.8,672.3 208.3,671.6 208.8,671.0 209.3,670.3 209.9,669.5 210.4,668.7 210.9,667.8 211.4,666.9 211.9,665.9 212.4,664.8 212.9,663.7 213.4,662.6 214.0,661.4 214.5,660.1 215.0,658.8 215.6,657.4 216.2,655.9 216.7,654.3 217.3,652.8 217.9,651.2 218.4,649.6 219.0,648.0 219.5,646.4 220.0,644.9 220.5,643.4 221.0,642.0 221.4,640.6 221.8,639.3 222.2,637.9 222.6,636.6 223.0,635.3 223.4,634.0 223.8,632.7 224.2,631.3 224.6,629.9 225.0,628.5 225.4,627.0 225.8,625.5 226.2,623.9 226.6,622.3 227.0,620.6 227.5,619.0 227.9,617.3 228.3,615.5 228.7,613.8 229.1,612.1 229.5,610.5 229.9,608.8 230.4,607.2 230.8,605.6 231.2,604.0 231.6,602.4 231.9,600.8 232.3,599.3 232.7,597.7 233.1,596.1 233.6,594.6 234.0,593.1 234.4,591.6 234.9,590.2 235.4,588.8 235.9,587.4 236.4,586.1 236.9,584.9 237.4,583.7 237.9,582.5 238.5,581.3 239.1,580.1 239.7,579.0 240.3,577.9 241.0,576.9 241.7,575.8 242.4,574.8 243.2,573.9 244.0,573.0 244.8,572.1 245.6,571.3 246.5,570.6 247.4,569.9 248.4,569.3 249.4,568.8 250.5,568.4 251.5,567.9 252.6,567.5 253.7,567.0 254.8,566.6 255.9,566.2 257.0,565.8 258.2,565.4 259.4,565.1 259.6,565.5 258.6,566.2 257.7,567.0 256.8,567.7 255.9,568.5 255.1,569.3 254.3,570.1 253.5,570.8 252.7,571.6 252.0,572.4 251.2,573.1 250.6,573.9 249.9,574.5 249.1,575.2 248.5,575.8 247.8,576.5 247.1,577.2 246.5,578.0 245.9,578.8 245.3,579.7 244.8,580.6 244.2,581.5 243.7,582.5 243.2,583.6 242.7,584.6 242.2,585.7 241.7,586.9 241.2,588.1 240.7,589.3 240.3,590.5 239.8,591.8 239.4,593.2 239.0,594.5 238.6,596.0 238.2,597.5 237.8,599.0 237.4,600.5 237.0,602.1 236.6,603.7 236.2,605.3 235.8,606.9 235.4,608.5 235.0,610.1 234.6,611.7 234.2,613.4 233.7,615.1 233.3,616.8 232.9,618.5 232.5,620.2 232.1,621.9 231.7,623.6 231.3,625.2 230.8,626.8 230.4,628.4 230.0,629.9 229.6,631.3 229.2,632.7 228.8,634.1 228.4,635.5 228.0,636.8 227.6,638.1 227.2,639.5 226.8,640.8 226.3,642.2 225.9,643.6 225.4,645.0 224.9,646.5 224.4,648.1 223.9,649.6 223.3,651.3 222.8,652.9 222.2,654.5 221.6,656.1 221.0,657.7 220.5,659.2 219.9,660.7 219.3,662.1 218.7,663.5 218.2,664.7 217.6,665.9 217.1,667.1 216.5,668.2 216.0,669.3 215.4,670.3 214.8,671.3 214.2,672.3 213.6,673.2 213.0,674.1 212.3,674.9 211.7,675.7 211.0,676.4 210.3,677.1 209.7,677.7 209.0,678.3 208.3,678.8 207.5,679.3 206.7,679.6 205.8,679.9 204.9,680.0 203.9,680.2 202.9,680.3 201.8,680.3 200.6,680.3 199.4,680.2 198.2,680.1 196.9,679.9 195.6,679.7 194.2,679.5 192.8,679.2Z" fill="#168080" stroke="#168080" stroke-width="1.3" stroke-linejoin="round"/>
<path d="M109.3,550.1 V687.9 H339.8 V684.9" fill="none" stroke="#1a1a1a" stroke-width="1.7"/>
<line x1="109.3" y1="676.5" x2="112.5" y2="676.5" stroke="#1a1a1a" stroke-width="1.7"/>
<text x="100.8" y="685.4" font-size="33.5" text-anchor="end" transform="matrix(1 0 0 1 0.00 0.00)">0</text>
<line x1="109.3" y1="626.6" x2="112.5" y2="626.6" stroke="#1a1a1a" stroke-width="1.7"/>
<text x="100.8" y="635.5" font-size="33.5" text-anchor="end" transform="matrix(1 0 0 1 0.00 0.00)">0.1</text>
<line x1="109.3" y1="576.7" x2="112.5" y2="576.7" stroke="#1a1a1a" stroke-width="1.7"/>
<text x="100.8" y="585.6" font-size="33.5" text-anchor="end" transform="matrix(1 0 0 1 0.00 0.00)">0.2</text>
<line x1="224.6" y1="687.9" x2="224.6" y2="684.7" stroke="#1a1a1a" stroke-width="1.7"/>
<text x="224.6" y="718.2" font-size="33.5" text-anchor="middle" transform="matrix(1 0 0 1 0.00 0.00)">0</text>
<text x="339.8" y="718.2" font-size="33.5" text-anchor="middle" transform="matrix(1 0 0 1 0.00 0.00)">50</text>
<text x="108.0" y="718.2" font-size="33.5" text-anchor="middle" transform="matrix(1 0 0 1 0.00 0.00)">50</text>
<rect x="75.0" y="709.5" width="17.5" height="1.6" fill="#000"/>
<text x="224.1" y="536.7" font-size="33.5" text-anchor="middle" transform="matrix(1 0 0 1 0.00 0.00)">Exp 9</text>
<text x="27.5" y="534.3" font-size="40.5" text-anchor="middle">(<tspan font-style="italic" dx="0">i</tspan><tspan dx="0">)</tspan></text>
<path d="M491.6,679.8C495.6,680.0 507.5,680.6 515.6,680.9C523.7,681.2 533.5,681.6 540.4,681.6C547.3,681.6 552.8,681.7 557.0,680.9C561.1,680.2 562.7,679.8 565.2,677.3C567.7,674.8 569.6,671.0 571.8,665.7C574.0,660.5 576.5,652.8 578.5,645.9C580.4,639.0 581.6,631.3 583.4,624.4C585.2,617.5 587.0,610.0 589.2,604.5C591.4,599.0 593.8,594.5 596.6,591.3C599.5,588.1 602.2,587.7 606.6,585.5C611.0,583.3 617.6,580.1 623.1,578.1C628.6,576.0 634.1,574.5 639.6,573.1C645.2,571.7 649.7,570.5 656.2,569.8C662.7,569.1 674.8,569.1 678.5,569.0" fill="none" stroke="#c81e82" stroke-width="1.3" stroke-opacity="0.8" stroke-linecap="round" stroke-linejoin="round"/>
<path d="M549.7,681.4 551.1,681.3 552.3,681.1 553.6,681.0 554.7,680.8 555.8,680.6 556.9,680.3 557.8,680.1 558.7,679.9 559.5,679.6 560.2,679.4 560.8,679.2 561.3,678.9 561.9,678.6 562.4,678.4 562.9,678.0 563.4,677.6 563.9,677.2 564.5,676.6 565.1,676.0 565.6,675.3 566.2,674.6 566.7,673.8 567.2,672.9 567.8,672.0 568.3,671.1 568.8,670.0 569.3,669.0 569.8,667.8 570.4,666.6 570.9,665.3 571.5,664.0 572.0,662.6 572.6,661.0 573.2,659.5 573.7,657.8 574.3,656.1 574.9,654.4 575.4,652.6 576.0,650.9 576.5,649.1 577.0,647.3 577.5,645.6 578.0,643.9 578.4,642.1 578.8,640.4 579.2,638.6 579.6,636.7 580.0,634.9 580.4,633.1 580.8,631.3 581.2,629.5 581.6,627.7 582.0,625.9 582.4,624.1 582.9,622.4 583.3,620.7 583.8,618.9 584.3,617.1 584.7,615.4 585.2,613.7 585.7,612.0 586.2,610.3 586.7,608.7 587.2,607.1 587.7,605.6 588.3,604.2 588.8,602.8 589.4,601.5 590.0,600.2 590.6,598.9 591.2,597.7 591.8,596.6 592.4,595.4 593.1,594.4 593.8,593.4 594.4,592.4 595.2,591.5 595.9,590.6 596.7,589.8 597.4,589.2 598.2,588.6 599.0,588.0 599.8,587.6 600.6,587.3 601.5,586.9 602.4,586.6 603.3,586.3 604.2,585.9 605.3,585.5 606.4,585.1 607.6,584.6 608.8,584.1 610.2,583.6 611.6,583.0 611.6,583.1 610.3,583.9 609.1,584.6 607.9,585.3 606.8,585.9 605.7,586.5 604.8,587.1 603.8,587.5 603.0,588.0 602.2,588.4 601.4,588.8 600.7,589.3 600.1,589.7 599.4,590.2 598.7,590.7 598.1,591.3 597.4,592.0 596.7,592.8 596.0,593.6 595.4,594.5 594.8,595.5 594.1,596.5 593.5,597.5 593.0,598.6 592.4,599.8 591.8,601.0 591.2,602.3 590.7,603.6 590.1,604.9 589.6,606.3 589.1,607.8 588.6,609.3 588.1,610.9 587.6,612.5 587.1,614.2 586.7,615.9 586.2,617.7 585.7,619.4 585.3,621.2 584.8,622.9 584.4,624.6 584.0,626.4 583.5,628.1 583.1,629.9 582.7,631.7 582.4,633.5 582.0,635.3 581.6,637.2 581.2,639.0 580.8,640.8 580.3,642.6 579.9,644.4 579.4,646.1 578.9,647.9 578.4,649.7 577.9,651.4 577.3,653.2 576.8,655.0 576.2,656.7 575.6,658.4 575.1,660.1 574.5,661.7 573.9,663.3 573.3,664.7 572.8,666.1 572.2,667.4 571.7,668.6 571.1,669.8 570.6,670.9 570.1,672.0 569.5,673.0 569.0,674.0 568.4,674.9 567.8,675.7 567.2,676.5 566.6,677.3 565.9,678.0 565.3,678.6 564.7,679.2 564.0,679.7 563.4,680.1 562.8,680.4 562.1,680.7 561.4,680.9 560.6,681.1 559.8,681.2 559.0,681.3 558.1,681.5 557.1,681.6 556.0,681.6 554.8,681.7 553.6,681.7 552.4,681.7 551.1,681.7 549.7,681.6Z" fill="#c81e82" stroke="#c81e82" stroke-width="1.3" stroke-linejoin="round"/>
<path d="M491.6,679.8C495.6,680.4 507.5,682.7 515.6,683.6C523.7,684.5 533.0,684.9 540.4,685.2C547.9,685.6 555.7,686.7 560.3,685.9C564.8,685.1 565.4,683.7 567.7,680.6C570.0,677.5 572.1,673.0 574.3,667.4C576.5,661.7 579.0,653.7 580.9,646.7C582.9,639.7 584.2,632.1 585.9,625.2C587.6,618.3 588.9,611.2 590.9,605.4C592.8,599.5 595.0,593.9 597.5,590.0C600.0,586.0 602.2,584.2 605.7,581.7C609.3,579.2 614.7,577.0 619.0,574.8C623.2,572.5 626.6,570.4 631.4,568.2C636.2,565.9 642.4,563.3 647.9,561.5C653.4,559.7 659.4,558.5 664.5,557.4C669.6,556.3 676.2,555.3 678.5,554.9" fill="none" stroke="#416482" stroke-width="1.3" stroke-opacity="0.8" stroke-linecap="round" stroke-linejoin="round"/>
<path d="M549.7,685.8 551.4,685.8 553.1,685.8 554.8,685.8 556.3,685.7 557.7,685.6 559.0,685.5 560.2,685.2 561.2,685.0 562.0,684.7 562.7,684.4 563.3,684.2 563.8,683.9 564.3,683.5 564.7,683.1 565.1,682.7 565.6,682.1 566.0,681.5 566.5,680.9 567.1,680.1 567.6,679.4 568.2,678.5 568.7,677.6 569.3,676.7 569.8,675.7 570.3,674.6 570.9,673.5 571.4,672.3 572.0,671.1 572.5,669.8 573.0,668.5 573.6,667.1 574.1,665.6 574.7,664.1 575.3,662.5 575.8,660.8 576.4,659.1 577.0,657.3 577.5,655.5 578.1,653.7 578.6,651.9 579.2,650.1 579.7,648.3 580.2,646.5 580.6,644.7 581.1,643.0 581.5,641.2 581.9,639.4 582.3,637.5 582.7,635.7 583.1,633.9 583.5,632.1 583.9,630.3 584.3,628.5 584.7,626.8 585.1,625.0 585.5,623.3 585.9,621.6 586.3,619.8 586.7,618.1 587.1,616.4 587.5,614.7 587.9,613.0 588.3,611.4 588.7,609.8 589.2,608.2 589.6,606.6 590.1,605.1 590.6,603.6 591.1,602.2 591.6,600.8 592.1,599.4 592.7,598.0 593.2,596.6 593.8,595.3 594.4,594.1 595.0,592.9 595.6,591.7 596.2,590.6 596.8,589.6 597.4,588.6 598.1,587.7 598.7,586.9 599.3,586.1 600.0,585.4 600.6,584.7 601.3,584.1 602.0,583.5 602.8,582.9 603.6,582.3 604.5,581.8 605.4,581.2 606.4,580.6 607.4,580.0 608.5,579.5 609.6,579.0 610.8,578.4 612.0,577.9 613.2,577.4 614.4,576.9 614.5,577.1 613.3,577.7 612.2,578.3 611.1,579.0 610.0,579.6 608.9,580.3 607.9,580.9 607.0,581.6 606.1,582.2 605.3,582.9 604.5,583.5 603.8,584.2 603.1,584.7 602.4,585.3 601.7,585.9 601.1,586.5 600.5,587.2 599.9,587.9 599.3,588.7 598.8,589.5 598.2,590.4 597.6,591.4 597.0,592.5 596.4,593.6 595.8,594.8 595.2,596.0 594.7,597.3 594.2,598.6 593.6,599.9 593.1,601.3 592.6,602.7 592.1,604.2 591.6,605.6 591.2,607.1 590.7,608.6 590.3,610.2 589.9,611.8 589.5,613.4 589.1,615.1 588.7,616.8 588.3,618.5 587.9,620.2 587.5,621.9 587.1,623.7 586.7,625.4 586.3,627.1 585.9,628.9 585.5,630.7 585.1,632.5 584.7,634.3 584.3,636.1 583.9,637.9 583.5,639.7 583.1,641.5 582.6,643.3 582.2,645.1 581.7,646.9 581.2,648.7 580.7,650.5 580.2,652.3 579.6,654.2 579.1,656.0 578.5,657.8 577.9,659.6 577.3,661.3 576.8,663.0 576.2,664.6 575.6,666.2 575.1,667.7 574.5,669.1 574.0,670.4 573.4,671.7 572.9,673.0 572.3,674.2 571.8,675.3 571.2,676.4 570.7,677.4 570.1,678.4 569.5,679.4 568.9,680.3 568.4,681.1 567.8,681.8 567.3,682.5 566.8,683.1 566.4,683.7 565.9,684.2 565.3,684.7 564.7,685.2 564.1,685.6 563.3,685.9 562.5,686.2 561.5,686.4 560.4,686.6 559.1,686.7 557.8,686.7 556.3,686.6 554.7,686.5 553.1,686.4 551.4,686.2 549.7,686.0Z" fill="#416482" stroke="#416482" stroke-width="1.3" stroke-linejoin="round"/>
<path d="M491.6,679.8C495.6,680.2 507.5,681.6 515.6,682.3C523.7,682.9 533.3,683.3 540.4,683.6C547.6,683.9 554.2,684.7 558.6,683.9C563.0,683.1 564.4,682.0 566.9,679.0C569.4,675.9 571.3,671.2 573.5,665.7C575.7,660.2 578.2,652.8 580.1,645.9C582.0,639.0 583.4,631.3 585.1,624.4C586.7,617.5 588.1,610.3 590.0,604.5C592.0,598.7 594.2,593.5 596.6,589.7C599.1,585.8 601.3,583.9 604.9,581.4C608.5,578.9 613.7,577.0 618.1,574.8C622.6,572.6 626.4,570.5 631.4,568.2C636.3,565.8 642.4,562.8 647.9,560.7C653.4,558.6 659.4,557.4 664.5,555.7C669.6,554.1 676.2,551.6 678.5,550.8" fill="none" stroke="#168080" stroke-width="1.3" stroke-opacity="0.8" stroke-linecap="round" stroke-linejoin="round"/>
<path d="M550.6,683.8 552.1,683.6 553.5,683.4 554.9,683.2 556.2,682.9 557.3,682.6 558.3,682.2 559.3,681.9 560.1,681.5 560.7,681.2 561.3,680.8 561.7,680.5 562.2,680.3 562.6,680.0 563.0,679.6 563.5,679.2 563.9,678.7 564.5,678.1 565.0,677.5 565.5,676.8 566.1,676.0 566.6,675.2 567.1,674.3 567.6,673.3 568.1,672.2 568.6,671.1 569.1,670.0 569.7,668.8 570.2,667.5 570.7,666.2 571.3,664.8 571.8,663.4 572.4,662.0 572.9,660.4 573.5,658.9 574.1,657.2 574.6,655.6 575.2,653.9 575.7,652.1 576.3,650.4 576.8,648.7 577.3,646.9 577.8,645.2 578.3,643.5 578.7,641.8 579.1,640.0 579.5,638.2 580.0,636.4 580.3,634.6 580.7,632.8 581.1,631.0 581.5,629.2 581.9,627.4 582.3,625.6 582.7,623.8 583.1,622.1 583.5,620.4 583.9,618.7 584.3,616.9 584.7,615.2 585.1,613.5 585.5,611.8 585.9,610.1 586.4,608.5 586.8,606.9 587.3,605.3 587.8,603.8 588.3,602.3 588.8,600.9 589.3,599.5 589.8,598.1 590.4,596.7 590.9,595.4 591.5,594.1 592.1,592.9 592.7,591.7 593.3,590.5 594.0,589.4 594.6,588.4 595.3,587.4 595.9,586.4 596.6,585.6 597.3,584.8 598.0,584.0 598.7,583.3 599.4,582.6 600.2,581.9 601.0,581.3 601.9,580.8 602.8,580.3 603.8,579.8 604.9,579.3 606.1,578.8 607.2,578.4 608.5,578.0 609.7,577.7 610.9,577.3 612.2,577.0 613.4,576.7 613.7,577.2 612.6,577.9 611.5,578.6 610.5,579.3 609.5,580.1 608.5,580.8 607.6,581.5 606.8,582.2 606.0,583.0 605.3,583.7 604.6,584.4 603.9,585.1 603.3,585.6 602.6,586.2 602.0,586.7 601.5,587.3 600.9,587.9 600.4,588.6 599.8,589.3 599.2,590.1 598.7,590.9 598.1,591.9 597.5,592.9 597.0,593.9 596.4,595.0 595.9,596.1 595.3,597.3 594.8,598.6 594.3,599.8 593.8,601.2 593.3,602.5 592.8,603.9 592.3,605.3 591.9,606.7 591.4,608.2 591.0,609.7 590.6,611.3 590.2,612.9 589.8,614.6 589.4,616.3 589.0,618.0 588.6,619.7 588.2,621.5 587.8,623.2 587.4,624.9 587.0,626.7 586.6,628.4 586.2,630.2 585.8,632.0 585.4,633.8 585.0,635.6 584.6,637.5 584.2,639.3 583.8,641.1 583.4,643.0 582.9,644.8 582.4,646.5 581.9,648.3 581.4,650.0 580.9,651.8 580.3,653.6 579.8,655.3 579.2,657.1 578.6,658.8 578.0,660.5 577.4,662.1 576.9,663.7 576.3,665.2 575.7,666.6 575.2,668.0 574.6,669.3 574.1,670.6 573.6,671.9 573.0,673.1 572.5,674.3 571.9,675.5 571.3,676.6 570.7,677.6 570.1,678.6 569.4,679.6 568.8,680.5 568.1,681.2 567.5,681.9 566.9,682.6 566.2,683.2 565.5,683.8 564.8,684.3 563.9,684.8 563.1,685.1 562.1,685.3 561.1,685.5 560.0,685.5 558.9,685.6 557.6,685.6 556.3,685.5 554.9,685.3 553.5,685.0 552.1,684.8 550.5,684.4Z" fill="#168080" stroke="#168080" stroke-width="1.3" stroke-linejoin="round"/>
<path d="M604.9,580.6C607.1,579.5 613.7,576.1 618.1,573.9C622.6,571.7 626.4,569.4 631.4,567.3C636.3,565.3 642.4,562.9 647.9,561.5C653.4,560.2 659.4,559.7 664.5,559.1C669.6,558.4 676.2,557.7 678.5,557.4" fill="none" stroke="#c81e82" stroke-width="1.3" stroke-opacity="0.8" stroke-linecap="round" stroke-linejoin="round"/>
<path d="M608.3,578.8 609.4,578.2 610.6,577.5 611.9,576.8 613.1,576.1 614.4,575.5 615.6,574.8 616.8,574.1 617.9,573.5 619.0,572.9 620.1,572.4 621.1,571.8 622.2,571.3 623.3,570.7 624.3,570.1 625.4,569.6 626.5,569.0 627.7,568.5 628.8,568.0 630.0,567.5 631.3,567.1 632.5,566.6 633.9,566.1 635.2,565.6 636.6,565.1 636.7,565.3 635.3,565.9 634.0,566.4 632.7,567.0 631.5,567.6 630.3,568.2 629.1,568.7 628.0,569.3 626.9,569.9 625.9,570.5 624.8,571.0 623.7,571.6 622.7,572.1 621.6,572.7 620.5,573.3 619.5,573.8 618.4,574.4 617.2,574.9 616.0,575.5 614.7,576.0 613.4,576.6 612.1,577.2 610.8,577.8 609.5,578.4 608.4,578.9Z" fill="#c81e82" stroke="#c81e82" stroke-width="1.3" stroke-linejoin="round"/>
<path d="M465.8,550.1 V687.9 H696.3 V684.9" fill="none" stroke="#1a1a1a" stroke-width="1.7"/>
<line x1="465.8" y1="679.8" x2="469.0" y2="679.8" stroke="#1a1a1a" stroke-width="1.7"/>
<text x="457.3" y="688.7" font-size="33.5" text-anchor="end" transform="matrix(1 0 0 1 0.00 0.00)">0</text>
<line x1="465.8" y1="633.8" x2="469.0" y2="633.8" stroke="#1a1a1a" stroke-width="1.7"/>
<text x="457.3" y="642.7" font-size="33.5" text-anchor="end" transform="matrix(1 0 0 1 0.00 0.00)">0.1</text>
<line x1="465.8" y1="587.8" x2="469.0" y2="587.8" stroke="#1a1a1a" stroke-width="1.7"/>
<text x="457.3" y="596.7" font-size="33.5" text-anchor="end" transform="matrix(1 0 0 1 0.00 0.00)">0.2</text>
<line x1="581.0" y1="687.9" x2="581.0" y2="684.7" stroke="#1a1a1a" stroke-width="1.7"/>
<text x="581.0" y="718.2" font-size="33.5" text-anchor="middle" transform="matrix(1 0 0 1 0.00 0.00)">0</text>
<text x="696.3" y="718.2" font-size="33.5" text-anchor="middle" transform="matrix(1 0 0 1 0.00 0.00)">50</text>
<text x="464.5" y="718.2" font-size="33.5" text-anchor="middle" transform="matrix(1 0 0 1 0.00 0.00)">50</text>
<rect x="431.5" y="709.5" width="17.5" height="1.6" fill="#000"/>
<text x="580.5" y="536.7" font-size="33.5" text-anchor="middle" transform="matrix(1 0 0 1 0.00 0.00)">Exp 10</text>
<text x="398.0" y="533.0" font-size="40.5" text-anchor="middle">(<tspan font-style="italic" dx="2.5">j</tspan><tspan dx="2.5">)</tspan></text>
<path d="M843.0,673.7C846.7,674.5 857.5,677.1 865.3,679.0C873.2,680.8 882.7,683.4 890.1,684.7C897.6,686.1 905.3,687.4 910.0,687.2C914.6,687.1 915.7,686.7 918.2,683.9C920.7,681.2 922.6,676.2 924.8,670.7C927.0,665.2 929.3,658.0 931.5,650.8C933.7,643.7 935.9,634.9 938.1,627.7C940.3,620.5 942.5,613.1 944.7,607.8C946.9,602.6 948.0,599.3 951.3,596.3C954.6,593.2 959.6,591.6 964.5,589.7C969.5,587.7 975.6,586.2 981.1,584.7C986.6,583.2 992.1,581.4 997.6,580.6C1003.1,579.7 1008.9,579.5 1014.1,579.7C1019.4,579.9 1026.5,581.4 1029.0,581.7" fill="none" stroke="#6e4282" stroke-width="1.3" stroke-opacity="0.8" stroke-linecap="round" stroke-linejoin="round"/>
<path d="M901.1,686.5 902.8,686.6 904.4,686.6 906.0,686.6 907.4,686.6 908.7,686.5 909.9,686.4 911.0,686.3 911.9,686.1 912.7,686.0 913.4,685.8 914.0,685.6 914.5,685.4 914.9,685.2 915.4,685.0 915.8,684.6 916.3,684.2 916.8,683.7 917.3,683.1 917.9,682.4 918.4,681.7 919.0,680.8 919.5,679.9 920.0,678.9 920.6,677.8 921.1,676.7 921.6,675.5 922.1,674.2 922.6,672.9 923.2,671.6 923.7,670.2 924.3,668.8 924.8,667.4 925.4,665.9 925.9,664.3 926.5,662.7 927.0,661.0 927.6,659.3 928.1,657.6 928.7,655.8 929.2,654.1 929.8,652.3 930.3,650.5 930.9,648.7 931.4,646.8 932.0,644.9 932.5,642.9 933.1,640.9 933.6,638.9 934.2,636.9 934.7,635.0 935.3,633.0 935.8,631.1 936.4,629.2 936.9,627.3 937.5,625.5 938.0,623.7 938.6,621.9 939.1,620.2 939.7,618.4 940.2,616.7 940.8,615.0 941.3,613.3 941.9,611.7 942.5,610.2 943.0,608.8 943.6,607.4 944.1,606.1 944.6,604.9 945.1,603.8 945.6,602.7 946.0,601.7 946.5,600.7 947.0,599.7 947.6,598.8 948.2,597.9 948.9,597.0 949.7,596.2 950.5,595.4 951.4,594.6 952.4,593.9 953.5,593.2 954.6,592.7 955.8,592.2 956.9,591.8 958.2,591.4 959.4,591.0 960.6,590.6 961.9,590.2 963.2,589.9 964.5,589.5 965.8,589.1 965.8,589.2 964.6,589.8 963.4,590.4 962.2,591.0 961.0,591.6 959.9,592.1 958.7,592.7 957.6,593.3 956.6,593.9 955.6,594.6 954.7,595.2 953.8,595.8 952.9,596.5 952.1,597.2 951.4,597.9 950.7,598.6 950.1,599.3 949.6,600.1 949.1,600.9 948.6,601.8 948.2,602.7 947.7,603.7 947.3,604.7 946.8,605.8 946.3,607.0 945.8,608.3 945.3,609.6 944.7,611.1 944.2,612.5 943.6,614.1 943.1,615.7 942.5,617.4 942.0,619.1 941.4,620.9 940.9,622.7 940.3,624.4 939.8,626.2 939.2,628.0 938.7,629.9 938.1,631.7 937.6,633.6 937.0,635.6 936.5,637.6 935.9,639.6 935.4,641.6 934.8,643.6 934.3,645.5 933.7,647.5 933.2,649.4 932.6,651.2 932.1,653.0 931.5,654.8 930.9,656.5 930.4,658.3 929.8,660.0 929.3,661.8 928.7,663.4 928.2,665.1 927.6,666.7 927.1,668.2 926.5,669.7 926.0,671.1 925.4,672.5 924.9,673.8 924.3,675.1 923.8,676.4 923.3,677.7 922.7,678.8 922.2,680.0 921.6,681.1 921.0,682.1 920.4,683.0 919.8,683.9 919.1,684.7 918.5,685.4 917.9,686.0 917.3,686.5 916.7,687.0 916.0,687.4 915.4,687.7 914.6,687.9 913.8,688.0 913.0,688.1 912.1,688.1 911.1,688.1 910.0,688.0 908.7,687.9 907.3,687.8 905.9,687.6 904.3,687.3 902.7,687.0 901.1,686.6Z" fill="#6e4282" stroke="#6e4282" stroke-width="1.3" stroke-linejoin="round"/>
<path d="M949.6,584.7C951.0,583.6 954.3,580.3 957.9,578.1C961.5,575.9 966.7,573.4 971.1,571.5C975.6,569.5 979.4,568.0 984.4,566.5C989.3,565.0 993.5,563.4 1000.9,562.4C1008.4,561.3 1024.3,560.6 1029.0,560.2" fill="none" stroke="#416482" stroke-width="1.3" stroke-opacity="0.8" stroke-linecap="round" stroke-linejoin="round"/>
<path d="M949.0,583.9 949.4,583.6 949.8,583.2 950.4,582.8 950.9,582.2 951.6,581.7 952.3,581.0 953.1,580.4 953.9,579.8 954.8,579.2 955.7,578.6 956.6,578.0 957.6,577.5 958.6,577.0 959.6,576.5 960.7,576.0 961.8,575.5 963.0,575.0 964.2,574.5 965.4,574.1 965.4,574.1 964.3,574.8 963.2,575.4 962.1,576.1 961.1,576.7 960.1,577.4 959.1,578.0 958.3,578.6 957.4,579.3 956.6,579.9 955.8,580.6 955.1,581.3 954.3,581.9 953.6,582.6 952.9,583.2 952.3,583.7 951.7,584.2 951.2,584.7 950.7,585.1 950.3,585.5Z" fill="#416482" stroke="#416482" stroke-width="1.3" stroke-linejoin="round"/>
<path d="M843.0,673.7C846.9,674.0 858.6,675.2 866.6,675.6C874.7,676.1 884.0,676.3 891.4,676.5C898.9,676.6 906.9,677.2 911.3,676.5C915.7,675.8 915.7,675.2 917.9,672.3C920.1,669.4 922.3,664.6 924.5,659.1C926.7,653.6 929.2,645.9 931.1,639.3C933.1,632.6 934.4,625.8 936.1,619.4C937.7,613.1 939.1,607.0 941.0,601.2C943.0,595.4 945.2,588.8 947.7,584.7C950.1,580.6 952.3,578.9 955.9,576.4C959.5,573.9 964.8,572.0 969.2,569.8C973.6,567.6 977.4,565.1 982.4,563.2C987.4,561.3 991.2,559.7 998.9,558.2C1006.7,556.7 1024.0,554.8 1029.0,554.1" fill="none" stroke="#168080" stroke-width="1.8" stroke-opacity="0.8" stroke-linecap="round" stroke-linejoin="round"/>
<path d="M900.7,676.4 902.5,676.2 904.2,675.9 905.8,675.6 907.3,675.4 908.7,675.1 909.9,674.8 911.0,674.4 911.9,674.1 912.6,673.9 913.2,673.7 913.6,673.6 913.9,673.5 914.1,673.4 914.3,673.2 914.5,673.0 914.8,672.7 915.1,672.2 915.5,671.6 916.0,671.0 916.6,670.3 917.1,669.5 917.6,668.7 918.1,667.7 918.6,666.8 919.1,665.7 919.7,664.6 920.2,663.4 920.7,662.2 921.3,660.9 921.8,659.6 922.4,658.3 922.9,656.9 923.5,655.4 924.0,653.8 924.6,652.2 925.2,650.6 925.7,648.9 926.3,647.2 926.8,645.4 927.4,643.7 927.9,642.0 928.4,640.3 928.9,638.6 929.4,637.0 929.8,635.3 930.3,633.7 930.7,632.0 931.1,630.4 931.5,628.7 931.9,627.0 932.3,625.4 932.6,623.7 933.0,622.1 933.4,620.5 933.9,618.8 934.3,617.3 934.7,615.7 935.1,614.2 935.4,612.6 935.8,611.1 936.2,609.5 936.6,608.0 937.1,606.5 937.5,605.0 937.9,603.5 938.4,602.0 938.9,600.5 939.4,599.0 939.9,597.5 940.4,596.0 940.9,594.5 941.4,593.0 942.0,591.5 942.6,590.1 943.2,588.6 943.8,587.3 944.4,585.9 945.0,584.7 945.7,583.5 946.4,582.4 947.0,581.5 947.7,580.6 948.4,579.8 949.1,579.0 949.8,578.3 950.5,577.6 951.3,577.0 952.1,576.3 953.0,575.8 953.9,575.4 954.9,574.9 956.0,574.4 957.1,573.9 958.3,573.5 959.5,573.1 960.7,572.7 961.9,572.4 963.2,572.0 964.5,571.7 965.7,571.4 965.8,571.5 964.7,572.2 963.6,572.9 962.5,573.6 961.5,574.4 960.5,575.1 959.5,575.8 958.6,576.5 957.8,577.2 957.0,578.0 956.2,578.7 955.5,579.4 954.9,580.0 954.2,580.5 953.6,581.1 953.0,581.6 952.4,582.2 951.8,582.8 951.3,583.4 950.8,584.2 950.2,585.0 949.6,585.9 949.1,586.9 948.5,588.0 947.9,589.2 947.4,590.4 946.8,591.8 946.3,593.2 945.8,594.6 945.2,596.1 944.7,597.5 944.2,599.0 943.7,600.5 943.2,601.9 942.8,603.4 942.3,604.8 941.9,606.3 941.5,607.7 941.1,609.2 940.7,610.7 940.3,612.2 939.9,613.7 939.5,615.3 939.1,616.8 938.7,618.4 938.3,620.0 937.9,621.6 937.5,623.2 937.1,624.8 936.7,626.4 936.3,628.1 935.9,629.8 935.5,631.5 935.1,633.1 934.7,634.8 934.3,636.5 933.8,638.2 933.3,639.9 932.8,641.6 932.3,643.3 931.8,645.1 931.2,646.8 930.7,648.6 930.1,650.3 929.5,652.0 928.9,653.7 928.4,655.4 927.8,657.0 927.2,658.5 926.6,660.0 926.1,661.3 925.5,662.7 925.0,664.0 924.4,665.3 923.8,666.5 923.3,667.7 922.7,668.9 922.1,670.0 921.5,671.0 920.9,672.0 920.3,672.9 919.7,673.7 919.2,674.4 918.8,675.0 918.3,675.6 917.9,676.1 917.3,676.6 916.7,677.1 916.1,677.5 915.3,677.9 914.5,678.1 913.7,678.4 912.7,678.5 911.6,678.5 910.3,678.5 908.9,678.4 907.4,678.2 905.8,678.0 904.2,677.7 902.5,677.4 900.7,677.1Z" fill="#168080" stroke="#168080" stroke-width="1.3" stroke-linejoin="round"/>
<path d="M957.9,577.2C960.1,576.3 966.7,573.5 971.1,571.5C975.6,569.4 979.4,566.8 984.4,564.8C989.3,562.9 993.5,561.4 1000.9,559.9C1008.4,558.4 1024.3,556.4 1029.0,555.7" fill="none" stroke="#c81e82" stroke-width="1.3" stroke-opacity="0.8" stroke-linecap="round" stroke-linejoin="round"/>
<path d="M961.3,575.7 962.4,575.2 963.6,574.6 964.9,574.0 966.1,573.4 967.4,572.8 968.6,572.2 969.8,571.6 970.9,571.0 972.0,570.4 973.0,569.9 974.1,569.3 975.1,568.7 976.2,568.2 977.3,567.6 978.3,567.0 979.4,566.4 980.6,565.9 981.8,565.4 983.0,564.9 984.2,564.5 985.5,564.1 986.7,563.6 987.9,563.3 989.2,562.9 990.4,562.5 991.7,562.2 991.7,562.3 990.5,562.7 989.3,563.2 988.1,563.7 986.9,564.2 985.7,564.7 984.5,565.2 983.3,565.8 982.2,566.3 981.1,566.9 980.0,567.5 978.9,568.1 977.8,568.6 976.8,569.2 975.7,569.8 974.7,570.4 973.6,570.9 972.5,571.4 971.4,571.9 970.2,572.4 969.0,572.9 967.7,573.4 966.4,573.9 965.1,574.4 963.8,574.9 962.5,575.4 961.4,575.8Z" fill="#c81e82" stroke="#c81e82" stroke-width="1.3" stroke-linejoin="round"/>
<path d="M843.0,673.7C847.0,673.6 859.0,673.3 867.1,673.2C875.3,673.0 885.3,672.9 891.9,672.7C898.5,672.4 903.0,672.5 906.8,671.5C910.7,670.5 912.6,669.4 915.1,666.6C917.6,663.7 919.5,659.2 921.7,654.1C923.9,649.0 926.4,642.0 928.3,636.0C930.2,629.9 931.6,623.8 933.3,617.8C934.9,611.7 936.3,605.6 938.2,599.6C940.2,593.5 942.4,586.1 944.9,581.4C947.3,576.7 949.5,574.2 953.1,571.5C956.7,568.7 961.4,567.1 966.4,564.8C971.3,562.6 977.4,560.0 982.9,558.2C988.4,556.4 991.7,555.5 999.4,554.1C1007.1,552.7 1024.1,550.7 1029.0,550.0" fill="none" stroke="#c81e82" stroke-width="1.3" stroke-opacity="0.8" stroke-linecap="round" stroke-linejoin="round"/>
<path d="M900.4,672.3 901.6,672.2 902.7,672.0 903.8,671.9 904.8,671.7 905.8,671.5 906.7,671.2 907.6,670.9 908.5,670.6 909.2,670.3 909.9,670.0 910.6,669.7 911.2,669.3 911.8,668.9 912.4,668.5 913.0,668.0 913.5,667.5 914.1,666.9 914.7,666.2 915.3,665.5 915.9,664.7 916.4,663.8 917.0,662.9 917.5,662.0 918.0,661.0 918.6,659.9 919.1,658.8 919.6,657.6 920.2,656.4 920.7,655.2 921.2,654.0 921.8,652.6 922.4,651.3 922.9,649.8 923.5,648.3 924.1,646.8 924.6,645.2 925.2,643.7 925.8,642.1 926.3,640.5 926.8,638.9 927.3,637.3 927.8,635.8 928.3,634.3 928.8,632.8 929.2,631.3 929.6,629.8 930.0,628.2 930.4,626.7 930.8,625.2 931.2,623.7 931.6,622.2 932.0,620.7 932.4,619.2 932.8,617.6 933.2,616.1 933.6,614.6 934.0,613.1 934.4,611.6 934.8,610.1 935.2,608.5 935.6,607.0 936.0,605.5 936.4,604.0 936.8,602.5 937.3,600.9 937.8,599.4 938.2,597.9 938.7,596.3 939.3,594.7 939.8,593.0 940.3,591.4 940.9,589.8 941.4,588.2 942.0,586.7 942.6,585.2 943.2,583.7 943.8,582.4 944.4,581.2 945.0,580.0 945.6,579.0 946.3,578.0 946.9,577.1 947.5,576.2 948.2,575.4 948.9,574.6 949.6,573.9 950.3,573.1 951.1,572.4 951.9,571.8 952.8,571.1 953.8,570.4 954.8,569.8 955.8,569.3 956.9,568.7 958.0,568.2 959.1,567.7 960.3,567.3 961.5,566.8 962.7,566.3 963.9,565.9 963.9,566.0 962.7,566.5 961.6,567.1 960.4,567.6 959.3,568.2 958.2,568.7 957.2,569.3 956.2,569.9 955.2,570.5 954.3,571.2 953.4,571.9 952.6,572.5 951.8,573.2 951.0,573.9 950.3,574.6 949.6,575.3 949.0,576.0 948.3,576.8 947.7,577.6 947.1,578.5 946.5,579.5 945.9,580.5 945.3,581.6 944.7,582.8 944.1,584.1 943.5,585.5 942.9,587.0 942.4,588.5 941.8,590.1 941.3,591.7 940.7,593.4 940.2,595.0 939.7,596.6 939.2,598.2 938.7,599.7 938.2,601.2 937.8,602.7 937.4,604.3 936.9,605.8 936.5,607.3 936.1,608.8 935.7,610.3 935.4,611.8 935.0,613.3 934.6,614.9 934.2,616.4 933.8,617.9 933.4,619.4 933.0,620.9 932.6,622.4 932.2,624.0 931.8,625.5 931.4,627.0 931.0,628.5 930.6,630.0 930.2,631.5 929.7,633.1 929.3,634.6 928.8,636.1 928.3,637.6 927.8,639.2 927.3,640.8 926.7,642.4 926.1,644.0 925.6,645.6 925.0,647.2 924.4,648.7 923.9,650.2 923.3,651.6 922.7,653.0 922.2,654.3 921.6,655.6 921.1,656.8 920.5,658.0 920.0,659.2 919.5,660.3 918.9,661.4 918.4,662.4 917.8,663.4 917.3,664.4 916.7,665.3 916.1,666.1 915.5,666.9 914.8,667.6 914.2,668.2 913.6,668.8 913.0,669.3 912.4,669.8 911.7,670.2 911.0,670.5 910.3,670.8 909.5,671.1 908.7,671.4 907.8,671.6 906.9,671.8 905.9,672.0 904.9,672.2 903.8,672.3 902.7,672.4 901.6,672.4 900.4,672.5Z" fill="#c81e82" stroke="#c81e82" stroke-width="1.3" stroke-linejoin="round"/>
<path d="M819.0,550.1 V687.9 H1049.5 V684.9" fill="none" stroke="#1a1a1a" stroke-width="1.7"/>
<line x1="819.0" y1="673.0" x2="822.2" y2="673.0" stroke="#1a1a1a" stroke-width="1.7"/>
<text x="810.5" y="681.9" font-size="33.5" text-anchor="end" transform="matrix(1 0 0 1 0.00 0.00)">0</text>
<line x1="819.0" y1="629.0" x2="822.2" y2="629.0" stroke="#1a1a1a" stroke-width="1.7"/>
<text x="810.5" y="637.9" font-size="33.5" text-anchor="end" transform="matrix(1 0 0 1 0.00 0.00)">0.1</text>
<line x1="819.0" y1="585.1" x2="822.2" y2="585.1" stroke="#1a1a1a" stroke-width="1.7"/>
<text x="810.5" y="594.0" font-size="33.5" text-anchor="end" transform="matrix(1 0 0 1 0.00 0.00)">0.2</text>
<line x1="934.2" y1="687.9" x2="934.2" y2="684.7" stroke="#1a1a1a" stroke-width="1.7"/>
<text x="934.2" y="718.2" font-size="33.5" text-anchor="middle" transform="matrix(1 0 0 1 0.00 0.00)">0</text>
<text x="1049.5" y="718.2" font-size="33.5" text-anchor="middle" transform="matrix(1 0 0 1 0.00 0.00)">50</text>
<text x="817.7" y="718.2" font-size="33.5" text-anchor="middle" transform="matrix(1 0 0 1 0.00 0.00)">50</text>
<rect x="784.7" y="709.5" width="17.5" height="1.6" fill="#000"/>
<text x="933.8" y="536.7" font-size="33.5" text-anchor="middle" transform="matrix(1 0 0 1 0.00 0.00)">Exp 11</text>
<text x="753.5" y="534.3" font-size="40.5" text-anchor="middle">(<tspan font-style="italic" dx="0">k</tspan><tspan dx="0">)</tspan></text>
<path d="M1199.5,682.3C1203.3,682.0 1214.6,681.2 1222.6,680.6C1230.6,680.0 1240.5,679.2 1247.4,678.6C1254.3,678.1 1259.8,678.3 1264.0,677.3C1268.1,676.3 1269.7,675.1 1272.2,672.3C1274.7,669.6 1276.6,665.7 1278.8,660.8C1281.0,655.8 1283.5,648.9 1285.5,642.6C1287.4,636.2 1288.8,629.1 1290.4,622.7C1292.1,616.4 1293.4,610.3 1295.4,604.5C1297.3,598.7 1299.5,592.4 1302.0,588.0C1304.5,583.6 1307.0,581.1 1310.3,578.1C1313.6,575.0 1317.2,572.6 1321.8,569.8C1326.5,567.1 1332.9,563.9 1338.4,561.5C1343.9,559.2 1349.4,557.3 1354.9,555.7C1360.4,554.2 1366.5,553.4 1371.5,552.4C1376.4,551.5 1382.5,550.7 1384.7,550.3" fill="none" stroke="#416482" stroke-width="1.3" stroke-opacity="0.8" stroke-linecap="round" stroke-linejoin="round"/>
<path d="M1256.7,678.1 1258.1,677.9 1259.3,677.8 1260.6,677.6 1261.7,677.4 1262.8,677.2 1263.9,676.9 1264.8,676.6 1265.7,676.3 1266.5,676.0 1267.2,675.7 1267.8,675.3 1268.4,675.0 1269.0,674.6 1269.5,674.2 1270.1,673.7 1270.6,673.2 1271.2,672.6 1271.8,671.9 1272.4,671.2 1272.9,670.5 1273.5,669.7 1274.0,668.9 1274.6,668.0 1275.1,667.1 1275.6,666.1 1276.2,665.1 1276.7,664.0 1277.2,662.9 1277.7,661.7 1278.3,660.5 1278.8,659.2 1279.4,657.9 1280.0,656.5 1280.5,655.0 1281.1,653.5 1281.7,652.0 1282.3,650.4 1282.8,648.8 1283.3,647.2 1283.9,645.6 1284.4,644.0 1284.9,642.4 1285.4,640.8 1285.8,639.2 1286.2,637.5 1286.6,635.9 1287.1,634.2 1287.5,632.5 1287.8,630.8 1288.2,629.1 1288.6,627.5 1289.0,625.8 1289.4,624.2 1289.8,622.6 1290.2,621.0 1290.6,619.4 1291.0,617.9 1291.4,616.3 1291.8,614.8 1292.2,613.3 1292.6,611.8 1293.0,610.3 1293.4,608.8 1293.9,607.3 1294.3,605.8 1294.8,604.3 1295.3,602.9 1295.8,601.4 1296.3,599.9 1296.8,598.5 1297.4,597.0 1297.9,595.5 1298.5,594.1 1299.1,592.7 1299.6,591.4 1300.2,590.1 1300.8,588.9 1301.5,587.7 1302.1,586.6 1302.7,585.6 1303.4,584.7 1304.0,583.8 1304.7,582.9 1305.4,582.1 1306.1,581.4 1306.8,580.6 1307.5,579.9 1308.3,579.1 1309.0,578.4 1309.9,577.6 1310.7,576.9 1311.6,576.2 1312.5,575.5 1313.5,574.9 1314.4,574.2 1315.4,573.6 1316.4,573.0 1317.4,572.3 1318.4,571.7 1319.5,571.1 1319.6,571.2 1318.6,572.0 1317.6,572.7 1316.6,573.4 1315.7,574.1 1314.8,574.8 1313.9,575.5 1313.1,576.2 1312.3,577.0 1311.5,577.7 1310.7,578.5 1309.9,579.3 1309.1,580.0 1308.3,580.7 1307.6,581.4 1306.9,582.2 1306.3,582.9 1305.6,583.7 1305.0,584.5 1304.4,585.4 1303.7,586.3 1303.1,587.2 1302.5,588.3 1301.9,589.4 1301.3,590.6 1300.7,591.9 1300.2,593.2 1299.6,594.6 1299.0,596.0 1298.5,597.4 1298.0,598.9 1297.4,600.3 1296.9,601.8 1296.4,603.3 1295.9,604.7 1295.5,606.2 1295.0,607.6 1294.6,609.1 1294.2,610.6 1293.8,612.1 1293.4,613.6 1293.0,615.1 1292.6,616.6 1292.2,618.2 1291.8,619.7 1291.4,621.3 1291.0,622.9 1290.6,624.5 1290.2,626.1 1289.8,627.7 1289.4,629.4 1289.0,631.1 1288.6,632.8 1288.2,634.5 1287.8,636.2 1287.4,637.8 1287.0,639.5 1286.5,641.1 1286.0,642.7 1285.5,644.3 1285.0,646.0 1284.5,647.6 1283.9,649.2 1283.4,650.8 1282.8,652.4 1282.2,653.9 1281.7,655.5 1281.1,656.9 1280.5,658.4 1279.9,659.7 1279.4,661.0 1278.8,662.2 1278.3,663.4 1277.8,664.5 1277.2,665.6 1276.7,666.7 1276.2,667.7 1275.6,668.6 1275.1,669.5 1274.5,670.4 1273.9,671.2 1273.3,672.0 1272.7,672.7 1272.1,673.4 1271.5,674.0 1270.9,674.6 1270.3,675.1 1269.7,675.5 1269.0,676.0 1268.3,676.3 1267.6,676.7 1266.8,676.9 1266.0,677.2 1265.1,677.5 1264.0,677.7 1263.0,677.9 1261.8,678.0 1260.6,678.1 1259.4,678.2 1258.1,678.2 1256.7,678.2Z" fill="#416482" stroke="#416482" stroke-width="1.3" stroke-linejoin="round"/>
<path d="M1302.0,594.6C1303.4,593.4 1307.0,589.7 1310.3,587.2C1313.6,584.7 1317.2,581.8 1321.8,579.7C1326.5,577.7 1332.9,576.1 1338.4,574.8C1343.9,573.4 1349.4,572.3 1354.9,571.5C1360.4,570.6 1366.5,570.0 1371.5,569.5C1376.4,569.0 1382.5,568.6 1384.7,568.5" fill="none" stroke="#6e4282" stroke-width="1.3" stroke-opacity="0.8" stroke-linecap="round" stroke-linejoin="round"/>
<path d="M1301.3,593.9 1301.7,593.5 1302.2,593.1 1302.7,592.6 1303.3,592.0 1304.0,591.3 1304.7,590.6 1305.5,589.9 1306.3,589.2 1307.2,588.6 1308.1,587.9 1309.0,587.3 1309.9,586.7 1310.8,586.1 1311.7,585.5 1312.6,584.9 1313.5,584.3 1314.5,583.7 1315.4,583.2 1316.5,582.6 1316.5,582.7 1315.6,583.4 1314.7,584.1 1313.9,584.9 1313.0,585.6 1312.2,586.3 1311.4,587.0 1310.6,587.7 1309.9,588.4 1309.1,589.1 1308.3,589.9 1307.6,590.6 1306.8,591.4 1306.1,592.1 1305.4,592.8 1304.7,593.4 1304.1,594.0 1303.5,594.5 1303.1,595.0 1302.7,595.3Z" fill="#6e4282" stroke="#6e4282" stroke-width="1.3" stroke-linejoin="round"/>
<path d="M1303.6,593.0C1305.0,591.6 1308.9,587.0 1311.9,584.7C1314.9,582.3 1317.4,580.6 1321.8,578.9C1326.2,577.2 1332.9,575.9 1338.4,574.8C1343.9,573.7 1349.4,572.8 1354.9,572.3C1360.4,571.7 1366.5,571.5 1371.5,571.5C1376.4,571.5 1382.5,572.1 1384.7,572.3" fill="none" stroke="#416482" stroke-width="1.8" stroke-opacity="0.8" stroke-linecap="round" stroke-linejoin="round"/>
<path d="M1302.9,592.3 1303.3,591.9 1303.8,591.4 1304.4,590.7 1305.0,590.0 1305.7,589.3 1306.4,588.5 1307.2,587.7 1308.0,586.9 1308.8,586.1 1309.7,585.3 1310.5,584.6 1311.4,584.0 1312.2,583.5 1312.9,582.9 1313.7,582.5 1314.5,582.0 1315.3,581.5 1316.1,581.1 1316.9,580.7 1317.8,580.3 1318.7,579.9 1319.7,579.5 1320.7,579.2 1321.8,578.8 1321.9,579.0 1320.8,579.5 1319.9,580.0 1319.0,580.4 1318.2,580.9 1317.4,581.5 1316.6,582.0 1315.9,582.5 1315.2,583.0 1314.5,583.6 1313.9,584.2 1313.2,584.8 1312.5,585.4 1311.8,586.1 1311.0,586.8 1310.2,587.5 1309.4,588.3 1308.7,589.1 1307.9,589.9 1307.2,590.7 1306.5,591.4 1305.8,592.1 1305.3,592.7 1304.8,593.2 1304.4,593.7Z" fill="#416482" stroke="#416482" stroke-width="1.3" stroke-linejoin="round"/>
<path d="M1199.5,682.3C1207.2,683.0 1234.7,685.6 1246.1,686.4C1257.5,687.2 1262.9,687.4 1267.6,687.2C1272.3,687.1 1272.0,687.8 1274.2,685.6C1276.4,683.4 1278.6,679.5 1280.8,674.0C1283.0,668.5 1285.2,659.4 1287.4,652.5C1289.6,645.6 1291.9,638.7 1294.1,632.6C1296.3,626.6 1298.5,621.1 1300.7,616.1C1302.9,611.2 1304.0,606.5 1307.3,602.9C1310.6,599.3 1315.6,597.1 1320.5,594.6C1325.5,592.1 1331.5,589.7 1337.1,588.0C1342.6,586.3 1345.7,585.5 1353.6,584.7C1361.5,583.9 1379.5,583.3 1384.7,583.0" fill="none" stroke="#c81e82" stroke-width="1.3" stroke-opacity="0.8" stroke-linecap="round" stroke-linejoin="round"/>
<path d="M1257.6,687.0 1259.4,687.0 1261.0,686.9 1262.5,686.8 1263.9,686.8 1265.2,686.7 1266.4,686.6 1267.6,686.4 1268.7,686.4 1269.6,686.3 1270.3,686.3 1270.9,686.2 1271.4,686.2 1271.7,686.2 1271.9,686.1 1272.1,686.1 1272.3,685.9 1272.6,685.7 1273.0,685.3 1273.5,684.9 1274.0,684.3 1274.5,683.7 1275.1,683.0 1275.6,682.3 1276.1,681.4 1276.6,680.5 1277.2,679.6 1277.7,678.5 1278.3,677.4 1278.8,676.2 1279.4,674.9 1279.9,673.6 1280.4,672.2 1281.0,670.6 1281.5,669.0 1282.1,667.2 1282.6,665.4 1283.2,663.5 1283.7,661.6 1284.3,659.6 1284.8,657.7 1285.4,655.8 1285.9,654.0 1286.5,652.2 1287.0,650.5 1287.6,648.7 1288.1,647.0 1288.7,645.3 1289.2,643.6 1289.8,641.9 1290.4,640.3 1290.9,638.6 1291.5,637.0 1292.0,635.4 1292.6,633.8 1293.1,632.3 1293.7,630.8 1294.2,629.3 1294.8,627.8 1295.3,626.4 1295.9,625.0 1296.4,623.6 1297.0,622.2 1297.5,620.9 1298.1,619.5 1298.6,618.2 1299.2,617.0 1299.8,615.7 1300.3,614.5 1300.8,613.3 1301.2,612.1 1301.7,610.9 1302.2,609.7 1302.6,608.6 1303.2,607.4 1303.7,606.3 1304.3,605.3 1305.0,604.2 1305.7,603.2 1306.5,602.2 1307.5,601.3 1308.4,600.4 1309.5,599.6 1310.6,598.9 1311.7,598.3 1312.9,597.7 1314.1,597.1 1315.4,596.6 1316.6,596.0 1317.9,595.5 1319.2,595.0 1320.4,594.5 1321.8,593.9 1321.8,594.1 1320.6,594.8 1319.4,595.5 1318.2,596.2 1317.0,596.9 1315.9,597.6 1314.7,598.3 1313.7,599.0 1312.6,599.7 1311.6,600.5 1310.6,601.2 1309.7,602.0 1308.8,602.7 1308.0,603.6 1307.3,604.4 1306.6,605.3 1306.0,606.3 1305.5,607.3 1305.0,608.3 1304.5,609.4 1304.0,610.5 1303.6,611.6 1303.1,612.8 1302.6,614.0 1302.1,615.3 1301.6,616.5 1301.0,617.8 1300.5,619.0 1299.9,620.3 1299.4,621.6 1298.8,623.0 1298.3,624.3 1297.7,625.7 1297.2,627.1 1296.6,628.6 1296.1,630.0 1295.5,631.5 1295.0,633.0 1294.4,634.5 1293.9,636.1 1293.3,637.7 1292.8,639.3 1292.2,640.9 1291.7,642.6 1291.1,644.3 1290.6,645.9 1290.0,647.6 1289.5,649.4 1288.9,651.1 1288.4,652.8 1287.8,654.6 1287.3,656.4 1286.7,658.3 1286.2,660.2 1285.6,662.1 1285.1,664.0 1284.5,665.9 1284.0,667.8 1283.4,669.6 1282.9,671.3 1282.3,672.9 1281.8,674.4 1281.2,675.7 1280.6,677.0 1280.1,678.2 1279.5,679.4 1279.0,680.5 1278.4,681.5 1277.8,682.5 1277.2,683.4 1276.7,684.2 1276.1,685.0 1275.5,685.6 1274.9,686.3 1274.4,686.8 1273.9,687.2 1273.5,687.6 1273.0,687.8 1272.5,688.0 1272.0,688.2 1271.5,688.2 1270.9,688.2 1270.3,688.2 1269.6,688.1 1268.7,688.1 1267.6,688.0 1266.4,687.9 1265.2,687.9 1263.9,687.8 1262.5,687.7 1261.0,687.5 1259.3,687.4 1257.6,687.2Z" fill="#c81e82" stroke="#c81e82" stroke-width="1.3" stroke-linejoin="round"/>
<path d="M1199.5,682.3C1203.1,682.7 1213.7,684.1 1221.5,684.7C1229.3,685.4 1238.8,686.0 1246.3,686.4C1253.7,686.8 1261.4,687.6 1266.1,686.9C1270.8,686.2 1271.9,685.5 1274.4,682.3C1276.9,679.0 1278.8,673.4 1281.0,667.4C1283.2,661.3 1285.7,653.0 1287.6,645.9C1289.5,638.7 1290.9,631.0 1292.6,624.4C1294.2,617.8 1295.6,612.0 1297.5,606.2C1299.5,600.4 1301.7,594.3 1304.1,589.7C1306.6,585.0 1309.1,581.4 1312.4,578.1C1315.7,574.8 1319.9,572.3 1324.0,569.8C1328.1,567.3 1332.3,565.1 1337.2,563.2C1342.2,561.3 1348.2,559.6 1353.8,558.2C1359.3,556.9 1365.1,556.0 1370.3,554.9C1375.4,553.8 1382.3,552.2 1384.7,551.6" fill="none" stroke="#168080" stroke-width="2.0" stroke-opacity="0.8" stroke-linecap="round" stroke-linejoin="round"/>
<path d="M1257.2,686.7 1258.9,686.6 1260.5,686.3 1262.1,686.1 1263.5,685.8 1264.7,685.5 1265.9,685.2 1266.9,684.9 1267.8,684.6 1268.5,684.3 1269.1,684.0 1269.6,683.8 1270.0,683.6 1270.4,683.4 1270.7,683.1 1271.1,682.7 1271.6,682.2 1272.1,681.6 1272.6,681.0 1273.2,680.2 1273.7,679.3 1274.2,678.4 1274.7,677.4 1275.2,676.2 1275.8,675.0 1276.3,673.8 1276.8,672.4 1277.3,671.0 1277.8,669.6 1278.4,668.1 1278.9,666.6 1279.5,665.1 1280.0,663.5 1280.6,661.8 1281.2,660.0 1281.7,658.2 1282.3,656.4 1282.9,654.5 1283.4,652.7 1284.0,650.8 1284.5,648.9 1285.0,647.1 1285.5,645.3 1285.9,643.5 1286.4,641.7 1286.8,639.9 1287.2,638.1 1287.6,636.3 1288.0,634.5 1288.4,632.6 1288.8,630.8 1289.2,629.0 1289.6,627.3 1290.0,625.5 1290.4,623.9 1290.8,622.2 1291.2,620.6 1291.6,619.0 1292.0,617.5 1292.4,615.9 1292.8,614.4 1293.2,612.9 1293.6,611.4 1294.1,609.9 1294.5,608.4 1295.0,607.0 1295.4,605.5 1295.9,604.0 1296.4,602.6 1297.0,601.1 1297.5,599.6 1298.0,598.2 1298.6,596.7 1299.1,595.3 1299.7,593.9 1300.3,592.5 1300.9,591.2 1301.6,589.9 1302.2,588.6 1302.8,587.4 1303.5,586.3 1304.1,585.2 1304.8,584.1 1305.5,583.1 1306.2,582.1 1306.9,581.1 1307.6,580.1 1308.4,579.2 1309.2,578.3 1310.0,577.4 1310.9,576.5 1311.8,575.6 1312.7,574.8 1313.7,574.1 1314.8,573.5 1315.9,572.9 1317.0,572.4 1318.1,571.8 1319.3,571.3 1320.4,570.9 1321.5,570.4 1322.6,569.9 1323.8,569.5 1324.9,569.0 1325.1,569.4 1324.2,570.2 1323.3,570.9 1322.3,571.7 1321.4,572.5 1320.5,573.3 1319.6,574.1 1318.8,574.9 1317.9,575.7 1317.1,576.5 1316.3,577.4 1315.6,578.2 1314.7,578.9 1314.0,579.6 1313.2,580.4 1312.5,581.2 1311.8,582.0 1311.1,582.9 1310.4,583.7 1309.8,584.6 1309.1,585.5 1308.5,586.5 1307.9,587.5 1307.3,588.5 1306.7,589.6 1306.1,590.7 1305.5,591.8 1304.9,593.0 1304.3,594.3 1303.8,595.6 1303.2,596.9 1302.7,598.3 1302.1,599.7 1301.6,601.1 1301.1,602.6 1300.6,604.0 1300.1,605.4 1299.6,606.9 1299.2,608.3 1298.7,609.7 1298.3,611.2 1297.9,612.6 1297.5,614.1 1297.1,615.5 1296.7,617.0 1296.3,618.6 1295.9,620.1 1295.5,621.7 1295.1,623.3 1294.7,624.9 1294.3,626.6 1293.9,628.3 1293.5,630.0 1293.1,631.8 1292.7,633.6 1292.3,635.4 1291.9,637.2 1291.5,639.1 1291.1,640.9 1290.7,642.8 1290.2,644.6 1289.7,646.4 1289.2,648.3 1288.7,650.1 1288.2,652.0 1287.6,653.9 1287.1,655.8 1286.5,657.7 1285.9,659.5 1285.4,661.4 1284.8,663.2 1284.2,664.9 1283.6,666.5 1283.1,668.1 1282.5,669.6 1282.0,671.1 1281.4,672.6 1280.9,674.0 1280.4,675.4 1279.8,676.7 1279.3,678.0 1278.7,679.3 1278.1,680.4 1277.5,681.6 1276.8,682.6 1276.1,683.6 1275.5,684.4 1274.9,685.1 1274.3,685.8 1273.6,686.4 1272.9,687.0 1272.2,687.5 1271.3,687.9 1270.5,688.2 1269.6,688.4 1268.6,688.5 1267.5,688.6 1266.3,688.6 1265.0,688.5 1263.6,688.4 1262.1,688.2 1260.5,688.0 1258.9,687.7 1257.2,687.3Z" fill="#168080" stroke="#168080" stroke-width="1.3" stroke-linejoin="round"/>
<path d="M1310.3,577.2C1312.2,575.9 1317.2,571.7 1321.8,569.0C1326.5,566.2 1332.9,563.1 1338.4,560.7C1343.9,558.4 1349.4,556.4 1354.9,554.9C1360.4,553.5 1366.5,552.8 1371.5,551.9C1376.4,551.1 1382.5,550.3 1384.7,550.0" fill="none" stroke="#c81e82" stroke-width="1.3" stroke-opacity="0.8" stroke-linecap="round" stroke-linejoin="round"/>
<path d="M1309.9,576.8 1310.4,576.4 1311.1,575.9 1311.9,575.3 1312.7,574.6 1313.7,573.9 1314.7,573.2 1315.7,572.4 1316.9,571.6 1318.1,570.9 1319.3,570.1 1320.5,569.4 1321.7,568.8 1322.9,568.1 1324.2,567.4 1325.6,566.8 1325.7,566.9 1324.4,567.7 1323.1,568.5 1322.0,569.2 1320.8,570.0 1319.7,570.8 1318.6,571.6 1317.5,572.5 1316.4,573.3 1315.4,574.1 1314.4,574.9 1313.4,575.6 1312.6,576.2 1311.8,576.8 1311.2,577.3 1310.6,577.7Z" fill="#c81e82" stroke="#c81e82" stroke-width="1.3" stroke-linejoin="round"/>
<path d="M1173.4,550.1 V687.9 H1403.9 V684.9" fill="none" stroke="#1a1a1a" stroke-width="1.7"/>
<line x1="1173.4" y1="682.7" x2="1176.6" y2="682.7" stroke="#1a1a1a" stroke-width="1.7"/>
<text x="1164.9" y="691.6" font-size="33.5" text-anchor="end" transform="matrix(1 0 0 1 0.00 0.00)">0</text>
<line x1="1173.4" y1="638.0" x2="1176.6" y2="638.0" stroke="#1a1a1a" stroke-width="1.7"/>
<text x="1164.9" y="646.9" font-size="33.5" text-anchor="end" transform="matrix(1 0 0 1 0.00 0.00)">0.1</text>
<line x1="1173.4" y1="593.2" x2="1176.6" y2="593.2" stroke="#1a1a1a" stroke-width="1.7"/>
<text x="1164.9" y="602.1" font-size="33.5" text-anchor="end" transform="matrix(1 0 0 1 0.00 0.00)">0.2</text>
<line x1="1288.7" y1="687.9" x2="1288.7" y2="684.7" stroke="#1a1a1a" stroke-width="1.7"/>
<text x="1288.7" y="718.2" font-size="33.5" text-anchor="middle" transform="matrix(1 0 0 1 0.00 0.00)">0</text>
<text x="1403.9" y="718.2" font-size="33.5" text-anchor="middle" transform="matrix(1 0 0 1 0.00 0.00)">50</text>
<text x="1172.1" y="718.2" font-size="33.5" text-anchor="middle" transform="matrix(1 0 0 1 0.00 0.00)">50</text>
<rect x="1139.1" y="709.5" width="17.5" height="1.6" fill="#000"/>
<text x="1288.2" y="536.7" font-size="33.5" text-anchor="middle" transform="matrix(1 0 0 1 0.00 0.00)">Exp 12</text>
<text x="1098.0" y="533.0" font-size="40.5" text-anchor="middle">(<tspan font-style="italic" dx="1.5">l</tspan><tspan dx="2.5">)</tspan></text>
<text transform="translate(37.2,620.0) rotate(-90)" font-size="40.5" text-anchor="middle"><tspan font-style="italic">x</tspan><tspan font-style="italic" font-size="28.5" dy="9" dx="-0.5">p</tspan><tspan dy="-9" dx="1"> (m)</tspan></text>
<path d="M138.8,931.3C146.3,932.1 172.9,935.4 184.1,936.3C195.2,937.1 200.6,937.0 205.6,936.3C210.5,935.6 211.4,935.2 213.8,932.1C216.3,929.1 218.3,923.7 220.5,918.1C222.7,912.4 225.1,904.8 227.1,898.2C229.0,891.6 230.4,884.7 232.0,878.4C233.7,872.0 235.3,865.4 237.0,860.2C238.7,855.0 238.9,850.7 242.0,847.0C245.0,843.2 249.7,839.9 255.2,837.9C260.7,835.8 269.0,835.1 275.0,834.6C281.1,834.0 286.1,834.3 291.6,834.6C297.1,834.8 302.7,835.7 308.1,836.2C313.5,836.8 321.3,837.6 324.0,837.9" fill="none" stroke="#962d82" stroke-width="1.3" stroke-opacity="0.8" stroke-linecap="round" stroke-linejoin="round"/>
<path d="M197.1,936.7 198.8,936.6 200.3,936.4 201.7,936.2 203.0,936.0 204.3,935.8 205.5,935.5 206.6,935.3 207.6,935.1 208.4,934.8 209.1,934.6 209.7,934.4 210.2,934.2 210.7,933.9 211.1,933.6 211.5,933.2 212.0,932.8 212.5,932.2 213.1,931.5 213.6,930.7 214.2,929.9 214.7,929.0 215.3,927.9 215.8,926.8 216.3,925.7 216.9,924.5 217.4,923.2 217.9,921.9 218.4,920.5 219.0,919.1 219.5,917.7 220.1,916.3 220.6,914.8 221.2,913.2 221.8,911.6 222.4,909.9 222.9,908.2 223.5,906.5 224.0,904.8 224.6,903.0 225.1,901.3 225.6,899.6 226.1,897.9 226.6,896.3 227.0,894.6 227.5,893.0 227.9,891.3 228.3,889.6 228.7,888.0 229.1,886.3 229.5,884.6 229.9,883.0 230.3,881.4 230.7,879.7 231.1,878.1 231.5,876.5 231.9,874.9 232.3,873.3 232.7,871.8 233.1,870.2 233.6,868.6 234.0,867.1 234.4,865.6 234.8,864.1 235.2,862.6 235.6,861.2 236.0,859.9 236.4,858.6 236.8,857.4 237.1,856.2 237.4,855.0 237.7,853.9 238.0,852.7 238.4,851.6 238.8,850.5 239.2,849.4 239.8,848.4 240.4,847.3 241.2,846.3 242.0,845.4 242.9,844.4 243.9,843.5 244.9,842.6 246.0,841.9 247.2,841.1 248.4,840.4 249.7,839.8 251.0,839.2 252.3,838.6 253.7,838.1 255.1,837.7 256.6,837.3 256.7,837.5 255.3,838.1 254.0,838.7 252.7,839.4 251.5,840.1 250.3,840.9 249.2,841.6 248.1,842.5 247.1,843.3 246.2,844.2 245.2,845.0 244.3,845.8 243.5,846.7 242.7,847.6 242.1,848.5 241.5,849.4 241.0,850.3 240.6,851.3 240.3,852.3 239.9,853.3 239.6,854.4 239.3,855.5 239.0,856.7 238.7,857.9 238.3,859.2 238.0,860.5 237.5,861.8 237.1,863.2 236.7,864.6 236.3,866.1 235.9,867.6 235.5,869.1 235.1,870.7 234.7,872.3 234.2,873.9 233.8,875.4 233.4,877.0 233.0,878.6 232.6,880.2 232.2,881.8 231.8,883.5 231.4,885.1 231.0,886.8 230.6,888.4 230.2,890.1 229.8,891.8 229.4,893.5 229.0,895.2 228.5,896.8 228.0,898.5 227.5,900.2 227.0,901.9 226.5,903.6 225.9,905.4 225.4,907.1 224.8,908.8 224.3,910.5 223.7,912.2 223.1,913.9 222.5,915.4 222.0,917.0 221.4,918.4 220.9,919.8 220.3,921.2 219.8,922.6 219.2,923.9 218.7,925.2 218.2,926.5 217.6,927.7 217.1,928.8 216.5,929.9 215.9,931.0 215.3,931.9 214.6,932.7 214.0,933.5 213.4,934.1 212.9,934.7 212.3,935.2 211.7,935.6 211.1,936.0 210.4,936.3 209.7,936.5 208.8,936.7 207.9,936.8 206.9,936.9 205.7,937.0 204.4,937.1 203.1,937.1 201.7,937.1 200.3,937.1 198.8,937.0 197.1,936.9Z" fill="#962d82" stroke="#962d82" stroke-width="1.3" stroke-linejoin="round"/>
<path d="M138.8,931.3C146.3,932.0 172.9,934.8 184.1,935.4C195.2,936.0 200.6,935.8 205.6,934.9C210.5,934.1 211.4,933.6 213.8,930.5C216.3,927.4 218.3,922.3 220.5,916.4C222.7,910.5 225.1,902.1 227.1,894.9C229.0,887.8 230.4,880.3 232.0,873.4C233.7,866.5 235.3,859.6 237.0,853.6C238.7,847.5 239.8,840.6 242.0,837.0C244.2,833.5 246.1,834.3 250.2,832.1C254.4,829.9 261.3,826.3 266.8,823.8C272.3,821.3 277.8,818.8 283.3,817.2C288.8,815.5 293.1,814.8 299.8,813.9C306.6,813.0 320.0,812.2 324.0,811.9" fill="none" stroke="#c81e82" stroke-width="1.3" stroke-opacity="0.8" stroke-linecap="round" stroke-linejoin="round"/>
<path d="M197.1,935.6 198.8,935.4 200.3,935.2 201.7,935.0 203.0,934.8 204.2,934.5 205.5,934.2 206.6,934.0 207.6,933.7 208.4,933.4 209.1,933.2 209.7,932.9 210.2,932.7 210.6,932.4 211.1,932.1 211.5,931.6 212.0,931.1 212.5,930.6 213.1,929.9 213.6,929.1 214.2,928.2 214.7,927.3 215.3,926.3 215.8,925.2 216.3,924.1 216.9,922.9 217.4,921.6 217.9,920.3 218.4,918.9 219.0,917.5 219.5,916.1 220.1,914.6 220.6,912.9 221.2,911.3 221.8,909.5 222.3,907.7 222.9,905.8 223.5,904.0 224.0,902.1 224.6,900.2 225.1,898.3 225.6,896.5 226.1,894.7 226.6,892.9 227.0,891.1 227.5,889.3 227.9,887.5 228.3,885.7 228.7,883.9 229.1,882.0 229.5,880.2 229.9,878.5 230.3,876.7 230.7,874.9 231.1,873.2 231.5,871.5 231.9,869.7 232.3,868.0 232.7,866.3 233.1,864.6 233.6,862.9 234.0,861.3 234.4,859.6 234.8,858.0 235.2,856.4 235.6,854.8 236.0,853.3 236.4,851.8 236.8,850.3 237.2,848.7 237.6,847.2 237.9,845.6 238.3,844.1 238.7,842.7 239.1,841.3 239.5,839.9 240.0,838.7 240.5,837.6 241.1,836.5 241.7,835.6 242.3,834.9 243.0,834.3 243.6,833.8 244.3,833.4 245.0,833.1 245.7,832.9 246.4,832.6 247.2,832.4 248.0,832.2 248.9,831.9 249.9,831.4 251.0,830.9 252.3,830.4 253.6,829.8 255.0,829.2 256.4,828.6 257.9,828.0 258.0,828.1 256.6,829.0 255.3,829.8 254.0,830.6 252.8,831.3 251.6,832.0 250.6,832.7 249.6,833.3 248.7,833.8 247.8,834.1 247.1,834.5 246.4,834.7 245.8,835.0 245.2,835.2 244.7,835.5 244.2,835.8 243.8,836.3 243.3,836.8 242.8,837.6 242.3,838.4 241.9,839.5 241.4,840.6 241.0,841.9 240.6,843.2 240.2,844.6 239.9,846.1 239.5,847.6 239.1,849.2 238.8,850.7 238.4,852.3 238.0,853.8 237.6,855.4 237.1,856.9 236.7,858.5 236.3,860.1 235.9,861.8 235.5,863.4 235.1,865.1 234.7,866.8 234.3,868.5 233.8,870.2 233.4,871.9 233.0,873.7 232.6,875.4 232.2,877.1 231.8,878.9 231.4,880.7 231.0,882.5 230.6,884.3 230.2,886.1 229.8,887.9 229.4,889.7 229.0,891.6 228.5,893.4 228.0,895.2 227.5,897.0 227.0,898.9 226.5,900.7 226.0,902.6 225.4,904.5 224.8,906.4 224.3,908.3 223.7,910.1 223.1,911.9 222.5,913.6 222.0,915.2 221.4,916.8 220.9,918.2 220.3,919.7 219.8,921.0 219.2,922.4 218.7,923.7 218.2,924.9 217.6,926.1 217.1,927.2 216.5,928.3 215.9,929.3 215.3,930.2 214.6,931.1 214.0,931.8 213.5,932.5 212.9,933.1 212.3,933.6 211.8,934.0 211.1,934.4 210.4,934.8 209.7,935.0 208.9,935.2 207.9,935.4 206.9,935.5 205.7,935.6 204.4,935.8 203.1,935.8 201.7,935.9 200.3,935.9 198.8,935.9 197.1,935.8Z" fill="#c81e82" stroke="#c81e82" stroke-width="1.3" stroke-linejoin="round"/>
<path d="M138.8,931.3C142.2,931.3 151.9,931.2 159.4,931.3C167.0,931.4 177.1,931.6 184.2,931.6C191.4,931.6 198.0,932.2 202.4,931.3C206.8,930.4 208.2,929.1 210.7,926.3C213.2,923.6 215.1,920.0 217.3,914.8C219.5,909.5 222.0,901.8 223.9,894.9C225.9,888.0 227.2,880.6 228.9,873.4C230.6,866.3 231.9,858.5 233.9,851.9C235.8,845.3 238.3,838.4 240.5,833.7C242.7,829.0 244.1,826.3 247.1,823.8C250.1,821.3 254.0,820.5 258.7,818.8C263.4,817.2 269.7,815.4 275.2,813.9C280.7,812.4 286.2,811.0 291.7,809.7C297.3,808.5 302.9,807.5 308.3,806.4C313.7,805.3 321.4,803.7 324.0,803.1" fill="none" stroke="#416482" stroke-width="2.0" stroke-opacity="0.8" stroke-linecap="round" stroke-linejoin="round"/>
<path d="M194.4,931.5 195.9,931.3 197.3,931.0 198.7,930.8 200.0,930.5 201.1,930.1 202.1,929.8 203.1,929.4 203.9,929.0 204.5,928.7 205.1,928.3 205.6,928.0 206.1,927.7 206.6,927.4 207.0,927.0 207.5,926.6 208.0,926.1 208.5,925.5 209.1,924.9 209.6,924.2 210.2,923.6 210.7,922.8 211.2,922.1 211.7,921.3 212.2,920.4 212.7,919.5 213.2,918.5 213.7,917.4 214.2,916.3 214.8,915.2 215.3,913.9 215.8,912.6 216.4,911.2 216.9,909.7 217.5,908.1 218.1,906.5 218.6,904.8 219.2,903.1 219.8,901.3 220.3,899.6 220.8,897.8 221.3,896.0 221.8,894.3 222.3,892.6 222.7,890.9 223.2,889.1 223.6,887.4 224.0,885.6 224.4,883.8 224.8,882.0 225.2,880.2 225.5,878.4 225.9,876.6 226.3,874.7 226.8,872.9 227.2,871.1 227.6,869.3 227.9,867.5 228.3,865.7 228.7,863.8 229.1,862.0 229.5,860.2 229.9,858.3 230.4,856.5 230.8,854.8 231.3,853.0 231.7,851.3 232.2,849.6 232.8,847.9 233.3,846.3 233.9,844.6 234.4,843.0 235.0,841.4 235.6,839.8 236.2,838.3 236.7,836.8 237.3,835.4 237.9,834.0 238.5,832.8 239.0,831.6 239.5,830.6 240.1,829.6 240.6,828.6 241.1,827.7 241.6,826.8 242.2,825.9 242.8,825.1 243.4,824.3 244.1,823.5 244.9,822.8 245.7,822.1 246.6,821.4 247.5,820.8 248.6,820.4 249.6,820.0 250.6,819.8 251.7,819.5 252.8,819.3 253.9,819.1 255.0,818.9 256.1,818.7 257.3,818.5 258.5,818.3 259.8,818.1 261.1,817.9 261.2,818.1 260.0,818.8 258.8,819.4 257.7,819.9 256.7,820.5 255.6,821.0 254.7,821.5 253.7,822.0 252.8,822.5 252.0,823.0 251.2,823.5 250.5,824.1 249.8,824.6 249.1,825.0 248.5,825.5 247.8,826.1 247.3,826.6 246.7,827.2 246.3,827.8 245.8,828.4 245.3,829.1 244.9,829.9 244.4,830.7 244.0,831.6 243.5,832.5 243.0,833.5 242.5,834.7 241.9,835.8 241.4,837.1 240.8,838.4 240.3,839.9 239.7,841.3 239.1,842.9 238.6,844.4 238.0,846.0 237.5,847.6 237.0,849.3 236.5,850.9 236.0,852.5 235.5,854.2 235.1,855.9 234.6,857.6 234.2,859.3 233.8,861.1 233.4,862.9 233.0,864.8 232.6,866.6 232.3,868.4 231.9,870.3 231.5,872.1 231.0,873.9 230.6,875.7 230.2,877.5 229.8,879.3 229.5,881.1 229.1,882.9 228.7,884.7 228.3,886.6 227.9,888.4 227.4,890.2 227.0,892.0 226.5,893.7 226.1,895.5 225.6,897.3 225.0,899.0 224.5,900.8 224.0,902.6 223.4,904.4 222.8,906.2 222.2,907.9 221.7,909.6 221.1,911.2 220.5,912.7 219.9,914.2 219.4,915.6 218.8,916.9 218.2,918.2 217.7,919.3 217.1,920.5 216.6,921.5 216.0,922.6 215.5,923.5 214.9,924.5 214.3,925.4 213.7,926.2 213.0,927.0 212.4,927.8 211.7,928.5 211.1,929.1 210.5,929.7 209.9,930.3 209.2,930.9 208.5,931.4 207.7,931.8 206.9,932.2 205.9,932.4 204.9,932.6 203.9,932.7 202.7,932.8 201.5,932.8 200.2,932.8 198.8,932.7 197.4,932.5 195.9,932.3 194.4,932.1Z" fill="#416482" stroke="#416482" stroke-width="1.3" stroke-linejoin="round"/>
<path d="M257.8,819.7C260.6,818.8 268.9,816.0 274.4,814.7C279.9,813.5 285.4,812.8 290.9,812.2C296.4,811.7 301.9,811.5 307.5,811.2C313.0,811.0 321.2,811.0 324.0,810.9" fill="none" stroke="#416482" stroke-width="1.3" stroke-opacity="0.8" stroke-linecap="round" stroke-linejoin="round"/>
<path d="M257.7,819.2 258.5,818.9 259.5,818.6 260.7,818.2 262.0,817.8 263.4,817.4 264.9,816.9 266.5,816.4 268.1,816.0 269.8,815.6 271.4,815.2 272.9,814.9 274.3,814.6 275.7,814.3 275.8,814.5 274.4,814.8 273.0,815.2 271.5,815.7 269.9,816.2 268.4,816.7 266.8,817.3 265.2,817.8 263.7,818.3 262.3,818.8 261.0,819.2 259.8,819.6 258.8,819.9 258.0,820.1Z" fill="#416482" stroke="#416482" stroke-width="1.3" stroke-linejoin="round"/>
<path d="M138.8,931.3C142.1,931.9 151.2,933.5 158.6,934.6C166.1,935.7 175.7,937.0 183.4,937.9C191.1,938.9 200.0,940.7 204.9,940.4C209.9,940.1 210.7,939.4 213.2,936.3C215.7,933.1 217.6,927.4 219.8,921.4C222.0,915.3 224.5,906.8 226.4,899.9C228.3,893.0 229.7,885.8 231.4,880.0C233.0,874.2 234.4,869.8 236.3,865.2C238.3,860.5 240.5,855.2 243.0,851.9C245.4,848.6 247.4,847.1 251.2,845.3C255.1,843.5 260.9,842.3 266.1,841.2C271.3,840.1 277.1,839.4 282.6,838.7C288.2,838.0 292.3,837.6 299.2,837.0C306.1,836.5 319.9,835.7 324.0,835.4" fill="none" stroke="#168080" stroke-width="1.3" stroke-opacity="0.8" stroke-linecap="round" stroke-linejoin="round"/>
<path d="M195.2,939.4 197.1,939.3 199.0,939.2 200.7,939.0 202.2,938.8 203.6,938.6 204.8,938.3 205.9,938.0 206.8,937.7 207.5,937.5 208.0,937.3 208.4,937.2 208.7,937.0 209.0,936.9 209.3,936.6 209.6,936.3 210.0,935.9 210.5,935.3 211.0,934.6 211.6,933.9 212.1,933.1 212.6,932.2 213.1,931.2 213.6,930.1 214.1,928.9 214.6,927.6 215.1,926.3 215.7,924.9 216.2,923.4 216.7,922.0 217.3,920.5 217.8,918.9 218.4,917.3 218.9,915.6 219.5,913.8 220.1,912.0 220.6,910.2 221.2,908.3 221.7,906.4 222.3,904.5 222.8,902.7 223.3,900.9 223.8,899.2 224.3,897.5 224.7,895.8 225.2,894.0 225.6,892.3 226.0,890.6 226.4,888.9 226.8,887.2 227.2,885.6 227.6,884.0 228.0,882.4 228.4,880.8 228.8,879.3 229.2,877.9 229.6,876.5 230.0,875.1 230.4,873.8 230.8,872.6 231.2,871.3 231.6,870.1 232.0,868.9 232.4,867.7 232.9,866.5 233.4,865.3 233.8,864.1 234.3,862.9 234.8,861.7 235.4,860.5 235.9,859.3 236.4,858.1 237.0,856.9 237.6,855.7 238.2,854.5 238.8,853.4 239.4,852.3 240.1,851.3 240.8,850.3 241.5,849.4 242.1,848.7 242.8,847.9 243.5,847.2 244.2,846.5 244.9,845.9 245.7,845.4 246.5,844.8 247.4,844.5 248.3,844.1 249.3,843.8 250.4,843.5 251.6,843.3 252.8,843.0 254.0,842.8 255.3,842.7 256.7,842.6 258.0,842.5 259.4,842.4 259.5,842.9 258.3,843.5 257.1,844.1 255.9,844.7 254.8,845.3 253.8,845.9 252.9,846.5 252.0,847.1 251.3,847.7 250.5,848.2 249.9,848.8 249.4,849.3 248.8,849.7 248.3,850.2 247.7,850.6 247.2,851.1 246.7,851.6 246.2,852.2 245.7,852.8 245.1,853.5 244.6,854.3 244.0,855.1 243.5,856.1 242.9,857.0 242.4,858.1 241.9,859.2 241.3,860.3 240.8,861.5 240.3,862.6 239.8,863.8 239.3,865.0 238.8,866.2 238.4,867.3 237.9,868.4 237.5,869.6 237.1,870.7 236.7,871.9 236.3,873.0 235.9,874.2 235.6,875.4 235.2,876.7 234.8,878.0 234.4,879.4 234.0,880.8 233.6,882.2 233.2,883.7 232.8,885.3 232.4,886.9 232.0,888.5 231.6,890.2 231.2,891.9 230.8,893.6 230.4,895.3 230.0,897.1 229.5,898.8 229.0,900.6 228.5,902.4 228.0,904.2 227.5,906.0 226.9,907.9 226.4,909.8 225.8,911.7 225.2,913.6 224.6,915.5 224.1,917.3 223.5,919.0 222.9,920.7 222.3,922.3 221.8,923.8 221.3,925.3 220.7,926.8 220.2,928.2 219.6,929.6 219.1,930.9 218.5,932.3 217.9,933.5 217.3,934.7 216.7,935.9 216.0,936.9 215.3,937.9 214.7,938.7 214.1,939.4 213.5,940.1 212.8,940.7 212.1,941.3 211.2,941.8 210.4,942.2 209.4,942.5 208.5,942.7 207.4,942.7 206.3,942.6 205.0,942.5 203.6,942.3 202.1,941.9 200.4,941.5 198.8,941.0 197.0,940.4 195.2,939.8Z" fill="#168080" stroke="#168080" stroke-width="1.3" stroke-linejoin="round"/>
<path d="M108.8,804.0 V941.8 H339.3 V938.8" fill="none" stroke="#1a1a1a" stroke-width="1.7"/>
<line x1="108.8" y1="931.5" x2="112.0" y2="931.5" stroke="#1a1a1a" stroke-width="1.7"/>
<text x="100.3" y="940.4" font-size="33.5" text-anchor="end" transform="matrix(1 0 0 1 0.00 0.00)">0</text>
<line x1="108.8" y1="876.8" x2="112.0" y2="876.8" stroke="#1a1a1a" stroke-width="1.7"/>
<text x="100.3" y="885.6" font-size="33.5" text-anchor="end" transform="matrix(1 0 0 1 0.00 0.00)">0.1</text>
<line x1="108.8" y1="822.0" x2="112.0" y2="822.0" stroke="#1a1a1a" stroke-width="1.7"/>
<text x="100.3" y="830.9" font-size="33.5" text-anchor="end" transform="matrix(1 0 0 1 0.00 0.00)">0.2</text>
<line x1="224.1" y1="941.8" x2="224.1" y2="938.6" stroke="#1a1a1a" stroke-width="1.7"/>
<text x="224.1" y="972.1" font-size="33.5" text-anchor="middle" transform="matrix(1 0 0 1 0.00 0.00)">0</text>
<text x="339.3" y="972.1" font-size="33.5" text-anchor="middle" transform="matrix(1 0 0 1 0.00 0.00)">50</text>
<text x="107.5" y="972.1" font-size="33.5" text-anchor="middle" transform="matrix(1 0 0 1 0.00 0.00)">50</text>
<rect x="74.5" y="963.4" width="17.5" height="1.6" fill="#000"/>
<text x="223.6" y="790.4" font-size="33.5" text-anchor="middle" transform="matrix(1 0 0 1 0.00 0.00)">Exp 13</text>
<text x="27.5" y="788.4" font-size="40.5" text-anchor="middle">(<tspan font-style="italic" dx="0">m</tspan><tspan dx="0">)</tspan></text>
<path d="M597.3,856.9C599.0,856.5 603.1,855.1 607.2,854.4C611.4,853.7 616.9,852.9 622.1,852.7C627.3,852.6 633.1,852.9 638.6,853.6C644.2,854.3 648.8,855.2 655.2,856.9C661.5,858.5 673.1,862.4 676.7,863.5" fill="none" stroke="#c81e82" stroke-width="1.3" stroke-opacity="0.8" stroke-linecap="round" stroke-linejoin="round"/>
<path d="M491.5,936.3C499.8,936.7 529.8,938.2 541.7,938.7C553.7,939.3 558.4,940.3 563.2,939.6C568.1,938.9 568.3,937.6 570.7,934.6C573.0,931.6 575.1,927.0 577.3,921.4C579.5,915.7 581.7,907.9 583.9,900.7C586.1,893.5 588.2,885.4 590.5,878.4C592.9,871.4 595.6,862.9 598.0,858.5C600.3,854.1 601.5,853.8 604.6,851.9C607.6,850.0 611.5,848.9 616.2,847.0C620.8,845.0 627.2,842.1 632.7,840.3C638.2,838.6 641.8,837.3 649.2,836.2C656.7,835.1 672.8,834.1 677.5,833.7" fill="none" stroke="#c81e82" stroke-width="1.3" stroke-opacity="0.8" stroke-linecap="round" stroke-linejoin="round"/>
<path d="M555.2,939.5 556.7,939.6 558.2,939.6 559.5,939.6 560.8,939.6 562.0,939.5 563.2,939.3 564.3,939.1 565.2,938.9 566.0,938.6 566.7,938.4 567.2,938.1 567.7,937.7 568.1,937.3 568.6,936.9 569.0,936.4 569.4,935.8 569.9,935.2 570.4,934.4 571.0,933.6 571.6,932.8 572.1,931.9 572.7,930.9 573.2,929.9 573.8,928.8 574.3,927.7 574.8,926.5 575.4,925.3 575.9,924.0 576.5,922.7 577.0,921.3 577.6,919.8 578.1,918.3 578.7,916.7 579.2,915.0 579.8,913.3 580.3,911.5 580.9,909.7 581.4,907.9 582.0,906.1 582.5,904.2 583.1,902.4 583.6,900.6 584.2,898.8 584.7,897.0 585.3,895.1 585.8,893.2 586.3,891.3 586.9,889.4 587.4,887.5 588.0,885.6 588.5,883.7 589.1,881.9 589.7,880.1 590.2,878.3 590.8,876.5 591.4,874.7 592.1,872.8 592.7,871.0 593.3,869.2 594.0,867.4 594.6,865.6 595.2,864.0 595.9,862.4 596.5,860.9 597.1,859.6 597.7,858.4 598.3,857.4 598.8,856.5 599.3,855.7 599.8,855.1 600.3,854.5 600.8,854.1 601.3,853.7 601.9,853.3 602.4,852.9 603.0,852.5 603.7,852.1 604.4,851.7 605.2,851.2 606.1,850.8 606.9,850.4 607.8,850.0 608.7,849.7 609.7,849.3 610.7,848.9 611.7,848.6 612.8,848.2 613.9,847.8 613.9,847.9 612.8,848.4 611.8,848.8 610.8,849.2 609.8,849.6 608.9,850.0 608.0,850.4 607.1,850.8 606.3,851.2 605.5,851.7 604.7,852.2 604.0,852.6 603.4,853.0 602.8,853.4 602.2,853.8 601.7,854.1 601.2,854.5 600.7,855.0 600.3,855.5 599.8,856.1 599.3,856.8 598.8,857.7 598.2,858.7 597.6,859.8 597.0,861.2 596.4,862.6 595.8,864.2 595.2,865.8 594.5,867.6 593.9,869.4 593.3,871.2 592.6,873.0 592.0,874.9 591.4,876.7 590.8,878.5 590.2,880.3 589.7,882.1 589.1,883.9 588.5,885.8 588.0,887.7 587.5,889.6 586.9,891.5 586.4,893.4 585.8,895.3 585.3,897.1 584.7,899.0 584.2,900.8 583.6,902.6 583.1,904.4 582.5,906.3 582.0,908.1 581.4,909.9 580.9,911.7 580.3,913.5 579.8,915.2 579.2,916.9 578.7,918.5 578.1,920.0 577.6,921.5 577.0,922.9 576.5,924.2 575.9,925.5 575.4,926.8 574.8,928.0 574.3,929.1 573.8,930.2 573.2,931.2 572.6,932.2 572.1,933.1 571.5,934.0 570.9,934.8 570.4,935.5 569.9,936.2 569.4,936.8 569.0,937.3 568.6,937.8 568.1,938.2 567.5,938.6 566.9,938.9 566.2,939.2 565.4,939.5 564.4,939.7 563.3,939.8 562.0,939.9 560.8,940.0 559.5,940.0 558.2,939.9 556.7,939.8 555.2,939.7Z" fill="#c81e82" stroke="#c81e82" stroke-width="1.3" stroke-linejoin="round"/>
<path d="M592.3,845.3C593.4,844.3 596.2,841.2 599.0,839.5C601.7,837.9 605.0,836.6 608.9,835.4C612.7,834.1 617.1,833.0 622.1,832.1C627.1,831.2 633.1,830.4 638.6,830.1C644.2,829.8 648.7,830.0 655.2,830.1C661.7,830.1 673.8,830.4 677.5,830.4" fill="none" stroke="#6e4282" stroke-width="1.3" stroke-opacity="0.8" stroke-linecap="round" stroke-linejoin="round"/>
<path d="M591.7,844.6 592.0,844.3 592.3,843.9 592.7,843.5 593.2,843.0 593.8,842.5 594.3,841.9 595.0,841.4 595.6,840.8 596.3,840.3 597.1,839.7 597.8,839.3 598.6,838.9 599.3,838.5 600.1,838.1 600.9,837.8 601.7,837.5 602.5,837.2 603.4,836.9 604.2,836.6 605.1,836.4 606.0,836.1 606.9,835.9 607.9,835.6 607.9,835.8 607.0,836.1 606.2,836.5 605.3,836.9 604.5,837.3 603.7,837.7 602.9,838.1 602.1,838.5 601.4,838.9 600.7,839.3 600.0,839.7 599.4,840.2 598.7,840.6 598.1,841.2 597.5,841.7 596.9,842.3 596.3,842.8 595.7,843.4 595.2,843.9 594.6,844.5 594.2,844.9 593.7,845.4 593.3,845.7 593.0,846.0Z" fill="#6e4282" stroke="#6e4282" stroke-width="1.3" stroke-linejoin="round"/>
<path d="M491.5,936.3C495.3,936.7 506.6,938.2 514.6,938.7C522.6,939.3 532.0,939.3 539.4,939.6C546.9,939.8 554.6,940.9 559.3,940.4C564.0,939.8 565.1,939.2 567.5,936.3C570.0,933.4 571.9,928.8 574.1,923.0C576.4,917.2 578.6,908.4 580.8,901.5C583.0,894.6 585.2,887.5 587.4,881.7C589.6,875.9 591.8,870.7 594.0,866.8C596.2,862.9 597.3,861.0 600.6,858.5C603.9,856.1 608.9,853.7 613.8,851.9C618.8,850.1 624.9,848.6 630.4,847.8C635.9,847.0 639.1,847.1 646.9,847.0C654.8,846.8 672.4,847.0 677.5,847.0" fill="none" stroke="#416482" stroke-width="1.3" stroke-opacity="0.8" stroke-linecap="round" stroke-linejoin="round"/>
<path d="M550.4,940.2 552.1,940.1 553.7,940.0 555.2,939.9 556.7,939.7 558.0,939.6 559.2,939.3 560.2,939.1 561.1,938.8 561.9,938.6 562.5,938.3 563.1,938.1 563.5,937.9 564.0,937.6 564.4,937.3 564.8,936.9 565.3,936.5 565.8,935.9 566.4,935.3 566.9,934.6 567.5,933.8 568.0,933.0 568.6,932.1 569.1,931.1 569.6,930.1 570.1,929.0 570.6,927.8 571.1,926.6 571.7,925.3 572.2,923.9 572.7,922.5 573.3,921.0 573.8,919.4 574.4,917.7 574.9,916.0 575.5,914.2 576.0,912.3 576.6,910.4 577.1,908.5 577.7,906.6 578.2,904.7 578.8,902.9 579.3,901.1 579.9,899.4 580.4,897.6 581.0,895.9 581.5,894.2 582.1,892.4 582.6,890.7 583.2,889.0 583.8,887.4 584.3,885.8 584.9,884.2 585.4,882.6 586.0,881.2 586.5,879.7 587.1,878.3 587.6,876.9 588.2,875.5 588.8,874.2 589.3,872.9 589.9,871.7 590.4,870.5 591.0,869.3 591.6,868.2 592.1,867.1 592.7,866.1 593.2,865.1 593.7,864.3 594.2,863.5 594.7,862.7 595.2,862.0 595.7,861.2 596.2,860.6 596.8,859.9 597.4,859.3 598.1,858.6 598.9,858.0 599.7,857.3 600.7,856.7 601.7,856.2 602.8,855.7 603.9,855.2 605.1,854.7 606.3,854.3 607.5,853.8 608.7,853.4 610.0,853.0 611.3,852.6 612.6,852.3 612.6,852.5 611.5,853.1 610.3,853.7 609.1,854.4 608.0,855.0 607.0,855.7 605.9,856.4 604.9,857.0 604.0,857.7 603.1,858.4 602.3,859.1 601.5,859.7 600.8,860.3 600.1,860.9 599.5,861.4 599.0,861.9 598.5,862.5 598.1,863.1 597.6,863.7 597.2,864.3 596.8,865.0 596.3,865.8 595.8,866.6 595.3,867.5 594.8,868.5 594.2,869.5 593.7,870.6 593.1,871.7 592.6,872.9 592.1,874.1 591.5,875.4 591.0,876.7 590.4,878.0 589.9,879.4 589.3,880.8 588.8,882.2 588.2,883.7 587.7,885.2 587.1,886.8 586.6,888.4 586.0,890.0 585.5,891.7 584.9,893.4 584.4,895.1 583.8,896.8 583.3,898.5 582.7,900.3 582.2,902.0 581.6,903.7 581.1,905.5 580.5,907.4 580.0,909.3 579.4,911.2 578.9,913.1 578.3,915.0 577.8,916.9 577.2,918.7 576.7,920.4 576.1,922.0 575.6,923.6 575.0,925.0 574.5,926.4 573.9,927.7 573.4,929.0 572.8,930.2 572.3,931.4 571.7,932.5 571.2,933.6 570.6,934.6 570.0,935.5 569.3,936.4 568.7,937.2 568.1,937.9 567.5,938.6 566.9,939.2 566.3,939.7 565.6,940.1 564.9,940.5 564.2,940.9 563.4,941.1 562.5,941.3 561.6,941.4 560.5,941.4 559.4,941.5 558.1,941.5 556.7,941.4 555.2,941.2 553.7,941.0 552.0,940.7 550.4,940.4Z" fill="#416482" stroke="#416482" stroke-width="1.3" stroke-linejoin="round"/>
<path d="M491.5,936.3C495.2,936.4 505.9,937.0 513.8,937.1C521.6,937.1 531.7,936.9 538.6,936.6C545.5,936.3 551.0,936.5 555.1,935.4C559.3,934.4 560.9,933.4 563.4,930.5C565.9,927.6 567.8,923.4 570.0,918.1C572.2,912.7 574.7,904.6 576.6,898.2C578.6,891.9 579.9,886.4 581.6,880.0C583.2,873.7 584.9,866.0 586.6,860.2C588.2,854.4 589.6,849.4 591.5,845.3C593.4,841.2 595.4,838.1 598.1,835.4C600.9,832.6 604.2,830.8 608.1,828.8C611.9,826.7 616.3,825.0 621.3,823.0C626.2,820.9 632.3,818.4 637.8,816.4C643.3,814.3 647.7,812.6 654.4,810.6C661.0,808.5 673.7,805.1 677.5,804.0" fill="none" stroke="#168080" stroke-width="1.3" stroke-opacity="0.8" stroke-linecap="round" stroke-linejoin="round"/>
<path d="M546.5,936.2 547.9,935.9 549.2,935.6 550.5,935.3 551.7,935.0 552.8,934.7 553.8,934.3 554.8,933.9 555.7,933.5 556.4,933.1 557.1,932.8 557.7,932.4 558.2,932.1 558.7,931.8 559.2,931.5 559.7,931.1 560.2,930.7 560.6,930.2 561.2,929.7 561.7,929.1 562.3,928.4 562.8,927.7 563.3,926.9 563.8,926.0 564.3,925.1 564.9,924.2 565.4,923.2 565.9,922.1 566.4,921.0 566.9,919.8 567.4,918.5 568.0,917.2 568.5,915.9 569.1,914.4 569.6,912.9 570.2,911.2 570.8,909.6 571.3,907.8 571.9,906.1 572.4,904.3 573.0,902.6 573.5,900.9 574.0,899.2 574.5,897.6 575.0,896.0 575.4,894.5 575.9,893.0 576.3,891.5 576.7,890.0 577.1,888.6 577.5,887.1 577.9,885.6 578.3,884.1 578.7,882.6 579.1,881.0 579.5,879.5 579.9,877.9 580.3,876.2 580.7,874.6 581.1,872.8 581.5,871.1 581.9,869.4 582.3,867.7 582.8,866.0 583.2,864.3 583.6,862.7 584.0,861.1 584.4,859.6 584.8,858.2 585.2,856.8 585.6,855.4 586.0,854.0 586.4,852.7 586.8,851.5 587.2,850.2 587.7,849.0 588.1,847.8 588.5,846.6 589.0,845.5 589.5,844.4 590.0,843.3 590.5,842.3 591.0,841.3 591.6,840.4 592.1,839.5 592.7,838.6 593.3,837.8 593.9,836.9 594.5,836.1 595.2,835.3 595.8,834.6 596.6,833.8 597.3,833.1 598.1,832.4 598.9,831.7 599.9,831.2 600.8,830.8 601.7,830.3 602.7,829.9 603.6,829.5 604.6,829.2 605.6,828.8 606.6,828.4 607.7,828.1 608.7,827.7 609.8,827.4 610.9,827.0 612.1,826.7 612.1,826.9 611.2,827.5 610.2,828.2 609.3,828.8 608.4,829.5 607.6,830.1 606.7,830.8 605.9,831.4 605.1,832.0 604.3,832.7 603.6,833.3 602.9,833.9 602.3,834.6 601.6,835.2 601.0,835.8 600.3,836.3 599.7,836.9 599.1,837.6 598.5,838.2 597.9,838.9 597.4,839.6 596.9,840.3 596.3,841.0 595.9,841.8 595.4,842.6 594.9,843.5 594.4,844.3 594.0,845.3 593.5,846.2 593.1,847.2 592.6,848.3 592.2,849.3 591.8,850.4 591.4,851.6 591.0,852.8 590.6,854.0 590.3,855.3 589.9,856.6 589.5,858.0 589.1,859.4 588.7,860.8 588.3,862.3 587.9,863.8 587.4,865.4 587.0,867.0 586.6,868.7 586.2,870.4 585.8,872.1 585.4,873.9 585.0,875.6 584.6,877.3 584.1,879.0 583.7,880.6 583.3,882.2 582.9,883.7 582.5,885.2 582.1,886.7 581.7,888.2 581.3,889.7 580.9,891.2 580.5,892.7 580.1,894.2 579.7,895.7 579.2,897.3 578.7,898.9 578.2,900.5 577.7,902.2 577.2,903.9 576.6,905.7 576.1,907.4 575.5,909.2 574.9,910.9 574.4,912.7 573.8,914.3 573.2,915.9 572.6,917.5 572.1,918.9 571.5,920.2 571.0,921.5 570.4,922.8 569.9,924.0 569.3,925.1 568.8,926.2 568.2,927.3 567.6,928.3 567.0,929.3 566.4,930.2 565.7,931.1 565.1,931.9 564.4,932.6 563.8,933.3 563.1,933.9 562.5,934.5 561.8,935.1 561.0,935.5 560.3,936.0 559.4,936.3 558.5,936.5 557.6,936.7 556.6,936.8 555.5,936.9 554.3,937.0 553.1,937.1 551.9,937.0 550.6,937.0 549.3,936.8 547.9,936.7 546.5,936.5Z" fill="#168080" stroke="#168080" stroke-width="1.3" stroke-linejoin="round"/>
<path d="M465.5,804.0 V941.8 H696.0 V938.8" fill="none" stroke="#1a1a1a" stroke-width="1.7"/>
<line x1="465.5" y1="936.4" x2="468.7" y2="936.4" stroke="#1a1a1a" stroke-width="1.7"/>
<text x="457.0" y="945.3" font-size="33.5" text-anchor="end" transform="matrix(1 0 0 1 0.00 0.00)">0</text>
<line x1="465.5" y1="890.6" x2="468.7" y2="890.6" stroke="#1a1a1a" stroke-width="1.7"/>
<text x="457.0" y="899.5" font-size="33.5" text-anchor="end" transform="matrix(1 0 0 1 0.00 0.00)">0.1</text>
<line x1="465.5" y1="844.9" x2="468.7" y2="844.9" stroke="#1a1a1a" stroke-width="1.7"/>
<text x="457.0" y="853.8" font-size="33.5" text-anchor="end" transform="matrix(1 0 0 1 0.00 0.00)">0.2</text>
<line x1="580.8" y1="941.8" x2="580.8" y2="938.6" stroke="#1a1a1a" stroke-width="1.7"/>
<text x="580.8" y="972.1" font-size="33.5" text-anchor="middle" transform="matrix(1 0 0 1 0.00 0.00)">0</text>
<text x="696.0" y="972.1" font-size="33.5" text-anchor="middle" transform="matrix(1 0 0 1 0.00 0.00)">50</text>
<text x="464.2" y="972.1" font-size="33.5" text-anchor="middle" transform="matrix(1 0 0 1 0.00 0.00)">50</text>
<rect x="431.2" y="963.4" width="17.5" height="1.6" fill="#000"/>
<text x="580.2" y="790.4" font-size="33.5" text-anchor="middle" transform="matrix(1 0 0 1 0.00 0.00)">Exp 14</text>
<text x="398.0" y="787.1" font-size="40.5" text-anchor="middle">(<tspan font-style="italic" dx="0">n</tspan><tspan dx="0">)</tspan></text>
<path d="M844.5,922.2C848.3,922.4 859.6,923.1 867.6,923.4C875.6,923.6 885.5,923.9 892.4,923.9C899.3,923.8 904.8,924.0 909.0,923.0C913.1,922.1 914.7,920.8 917.2,918.1C919.7,915.3 921.6,911.5 923.8,906.5C926.0,901.5 928.5,894.4 930.5,888.3C932.4,882.2 933.8,876.2 935.4,870.1C937.1,864.0 938.4,857.7 940.4,851.9C942.3,846.1 944.5,839.8 947.0,835.4C949.5,831.0 952.0,827.9 955.3,825.5C958.6,823.0 962.2,822.4 966.8,820.5C971.5,818.6 977.9,815.8 983.4,813.9C988.9,812.0 994.4,810.3 999.9,808.9C1005.4,807.5 1011.5,806.4 1016.5,805.6C1021.4,804.8 1027.5,804.2 1029.7,804.0" fill="none" stroke="#6e4282" stroke-width="1.8" stroke-opacity="0.8" stroke-linecap="round" stroke-linejoin="round"/>
<path d="M901.7,923.6 903.1,923.5 904.3,923.3 905.6,923.1 906.7,922.8 907.8,922.6 908.8,922.3 909.7,922.0 910.5,921.6 911.3,921.3 911.9,920.9 912.5,920.6 913.1,920.2 913.6,919.8 914.1,919.4 914.7,919.0 915.2,918.5 915.7,917.9 916.3,917.3 916.9,916.6 917.5,915.9 918.0,915.1 918.5,914.3 919.1,913.4 919.6,912.5 920.1,911.6 920.6,910.6 921.1,909.5 921.7,908.4 922.2,907.2 922.7,906.0 923.3,904.7 923.9,903.4 924.4,902.0 925.0,900.5 925.6,899.0 926.1,897.4 926.7,895.8 927.2,894.2 927.8,892.6 928.3,891.0 928.8,889.5 929.3,887.9 929.8,886.4 930.2,884.9 930.7,883.4 931.1,881.9 931.5,880.4 931.9,878.9 932.3,877.4 932.7,875.9 933.1,874.4 933.4,872.8 933.8,871.3 934.3,869.8 934.7,868.3 935.1,866.8 935.5,865.2 935.8,863.7 936.2,862.2 936.6,860.6 937.0,859.1 937.4,857.5 937.9,856.0 938.3,854.5 938.8,853.0 939.2,851.5 939.7,850.1 940.2,848.6 940.7,847.1 941.3,845.6 941.8,844.2 942.4,842.7 942.9,841.3 943.5,839.9 944.1,838.5 944.7,837.2 945.3,836.0 945.9,834.8 946.6,833.7 947.2,832.6 947.9,831.7 948.5,830.7 949.2,829.8 949.9,828.9 950.6,828.1 951.3,827.3 952.1,826.6 952.9,825.8 953.7,825.2 954.6,824.5 955.5,824.0 956.4,823.5 957.4,823.1 958.4,822.7 959.3,822.4 960.3,822.1 961.3,821.9 962.3,821.6 963.4,821.3 964.5,821.1 965.6,820.8 966.8,820.4 966.9,820.6 965.8,821.2 964.7,821.7 963.7,822.1 962.7,822.6 961.7,823.0 960.8,823.4 959.9,823.8 959.0,824.3 958.2,824.7 957.4,825.3 956.7,825.8 956.0,826.4 955.2,827.0 954.5,827.7 953.8,828.3 953.1,829.0 952.4,829.7 951.7,830.5 951.1,831.3 950.5,832.1 949.9,833.0 949.3,833.9 948.6,834.9 948.0,836.0 947.4,837.1 946.9,838.3 946.3,839.5 945.7,840.8 945.1,842.2 944.6,843.6 944.1,845.0 943.5,846.4 943.0,847.9 942.5,849.4 942.0,850.8 941.5,852.3 941.1,853.7 940.6,855.2 940.2,856.7 939.8,858.2 939.4,859.7 939.0,861.2 938.6,862.7 938.2,864.3 937.8,865.8 937.4,867.4 937.0,868.9 936.6,870.4 936.2,871.9 935.8,873.4 935.4,875.0 935.0,876.5 934.6,878.0 934.2,879.5 933.8,881.0 933.4,882.6 933.0,884.1 932.5,885.6 932.1,887.1 931.6,888.7 931.1,890.2 930.6,891.8 930.1,893.4 929.5,895.0 928.9,896.6 928.4,898.2 927.8,899.8 927.2,901.3 926.7,902.8 926.1,904.3 925.5,905.7 924.9,907.0 924.4,908.2 923.8,909.4 923.3,910.5 922.8,911.6 922.2,912.7 921.7,913.7 921.1,914.7 920.6,915.6 920.0,916.5 919.4,917.3 918.8,918.1 918.1,918.9 917.5,919.6 916.9,920.2 916.3,920.8 915.7,921.3 915.0,921.8 914.3,922.2 913.6,922.6 912.8,922.9 912.0,923.2 911.1,923.4 910.2,923.6 909.1,923.8 908.0,923.9 906.9,924.0 905.6,924.0 904.4,924.0 903.1,924.0 901.7,923.9Z" fill="#6e4282" stroke="#6e4282" stroke-width="1.3" stroke-linejoin="round"/>
<path d="M844.5,922.2C851.9,922.8 878.1,924.8 889.1,925.5C900.1,926.3 905.6,927.2 910.6,926.7C915.6,926.1 916.4,925.3 918.9,922.2C921.4,919.1 923.3,913.8 925.5,908.1C927.7,902.5 929.9,894.9 932.1,888.3C934.3,881.7 936.5,875.1 938.7,868.5C940.9,861.8 943.1,853.3 945.3,848.6C947.5,843.9 948.9,842.4 952.0,840.3C955.0,838.3 958.8,837.3 963.5,836.2C968.2,835.1 974.6,834.1 980.1,833.7C985.6,833.3 988.3,833.6 996.6,833.7C1004.9,833.9 1024.2,834.4 1029.7,834.6" fill="none" stroke="#416482" stroke-width="1.3" stroke-opacity="0.8" stroke-linecap="round" stroke-linejoin="round"/>
<path d="M900.4,926.4 902.2,926.3 903.8,926.1 905.3,926.0 906.7,925.9 908.0,925.7 909.3,925.4 910.5,925.1 911.5,924.8 912.4,924.5 913.2,924.3 913.8,924.1 914.3,923.9 914.7,923.7 915.0,923.4 915.4,923.1 915.8,922.7 916.2,922.2 916.7,921.7 917.3,921.0 917.8,920.2 918.4,919.4 918.9,918.5 919.4,917.5 919.9,916.5 920.5,915.3 921.0,914.1 921.5,912.9 922.0,911.6 922.5,910.2 923.1,908.8 923.6,907.4 924.2,906.0 924.7,904.5 925.3,902.9 925.8,901.3 926.3,899.7 926.9,898.0 927.4,896.3 928.0,894.5 928.6,892.8 929.1,891.1 929.7,889.4 930.2,887.7 930.8,886.0 931.3,884.4 931.9,882.7 932.4,881.1 933.0,879.4 933.5,877.7 934.1,876.1 934.6,874.4 935.2,872.8 935.7,871.1 936.3,869.5 936.8,867.8 937.4,866.2 937.9,864.4 938.5,862.6 939.0,860.8 939.6,859.0 940.1,857.2 940.7,855.5 941.2,853.7 941.8,852.1 942.4,850.5 942.9,849.1 943.5,847.8 944.1,846.6 944.6,845.6 945.2,844.6 945.7,843.8 946.2,843.0 946.8,842.2 947.4,841.6 948.0,840.9 948.6,840.3 949.3,839.8 950.1,839.2 950.8,838.7 951.8,838.3 952.7,837.9 953.7,837.5 954.7,837.2 955.7,837.0 956.8,836.8 957.8,836.6 958.9,836.5 960.0,836.3 961.1,836.2 962.3,836.1 963.5,836.0 964.7,835.9 964.7,836.0 963.6,836.4 962.5,836.9 961.4,837.3 960.4,837.7 959.4,838.2 958.4,838.6 957.5,839.0 956.6,839.5 955.8,839.9 955.1,840.4 954.3,840.9 953.7,841.4 953.1,842.0 952.4,842.5 951.8,842.9 951.3,843.4 950.8,843.8 950.3,844.3 949.9,844.8 949.5,845.3 949.0,845.9 948.6,846.6 948.1,847.5 947.7,848.4 947.2,849.5 946.6,850.6 946.1,852.0 945.6,853.4 945.0,855.0 944.5,856.7 943.9,858.4 943.4,860.2 942.8,862.0 942.3,863.8 941.7,865.6 941.2,867.4 940.6,869.1 940.1,870.7 939.5,872.4 939.0,874.1 938.4,875.7 937.9,877.4 937.3,879.0 936.8,880.7 936.2,882.3 935.7,884.0 935.1,885.6 934.6,887.3 934.0,888.9 933.5,890.6 932.9,892.3 932.4,894.0 931.8,895.7 931.3,897.5 930.7,899.2 930.2,900.9 929.6,902.6 929.0,904.2 928.5,905.8 927.9,907.4 927.4,908.9 926.8,910.3 926.3,911.7 925.7,913.0 925.2,914.4 924.7,915.7 924.1,916.9 923.6,918.2 923.0,919.3 922.4,920.5 921.8,921.5 921.1,922.5 920.5,923.4 919.8,924.2 919.3,924.9 918.7,925.5 918.1,926.1 917.4,926.6 916.7,927.1 915.9,927.5 915.0,927.9 914.1,928.1 913.1,928.2 912.0,928.2 910.8,928.2 909.4,928.1 908.1,928.0 906.7,927.8 905.2,927.6 903.7,927.2 902.1,926.9 900.4,926.5Z" fill="#416482" stroke="#416482" stroke-width="1.3" stroke-linejoin="round"/>
<path d="M844.5,922.2C852.2,922.8 879.7,924.7 891.1,925.5C902.5,926.3 907.8,927.3 912.6,927.2C917.4,927.0 917.7,927.0 920.0,924.7C922.4,922.3 924.4,918.2 926.7,913.1C928.9,908.0 931.1,900.6 933.3,894.1C935.5,887.6 937.7,880.0 939.9,874.2C942.1,868.5 944.2,863.9 946.5,859.4C948.8,854.8 949.4,850.1 953.9,847.0C958.5,843.8 967.7,842.3 973.8,840.3C979.8,838.4 984.8,836.5 990.3,835.4C995.8,834.3 1000.3,834.3 1006.9,833.7C1013.4,833.2 1025.9,832.4 1029.7,832.1" fill="none" stroke="#c81e82" stroke-width="1.3" stroke-opacity="0.8" stroke-linecap="round" stroke-linejoin="round"/>
<path d="M904.3,926.6 905.9,926.7 907.4,926.8 908.8,926.9 910.1,926.9 911.4,926.9 912.6,926.8 913.7,926.7 914.6,926.7 915.4,926.6 916.1,926.5 916.6,926.4 917.1,926.3 917.5,926.1 917.9,925.9 918.3,925.6 918.7,925.3 919.1,924.9 919.7,924.3 920.2,923.7 920.8,923.1 921.3,922.3 921.9,921.5 922.4,920.6 923.0,919.7 923.5,918.7 924.0,917.6 924.6,916.5 925.1,915.4 925.6,914.2 926.2,912.9 926.7,911.6 927.3,910.2 927.8,908.7 928.4,907.2 928.9,905.6 929.5,904.0 930.0,902.3 930.6,900.6 931.1,898.9 931.7,897.2 932.2,895.6 932.8,893.9 933.3,892.3 933.9,890.6 934.4,888.9 935.0,887.2 935.5,885.5 936.1,883.8 936.7,882.1 937.2,880.4 937.8,878.7 938.3,877.1 938.9,875.6 939.4,874.1 940.0,872.6 940.5,871.3 941.1,869.9 941.6,868.6 942.1,867.4 942.7,866.1 943.2,864.9 943.8,863.7 944.3,862.6 944.9,861.4 945.5,860.3 946.0,859.1 946.6,858.0 947.1,856.9 947.5,855.8 948.0,854.6 948.5,853.5 948.9,852.4 949.5,851.4 950.1,850.3 950.8,849.3 951.6,848.3 952.6,847.4 953.7,846.5 954.9,845.8 956.4,845.1 958.0,844.5 959.7,844.0 961.4,843.5 963.2,843.0 965.1,842.6 966.9,842.2 967.0,842.3 965.2,842.8 963.3,843.4 961.6,844.0 959.9,844.6 958.2,845.2 956.8,845.9 955.4,846.6 954.2,847.4 953.2,848.2 952.3,849.0 951.6,849.9 950.9,850.8 950.4,851.8 949.8,852.9 949.4,853.9 948.9,855.0 948.5,856.1 948.0,857.3 947.5,858.4 946.9,859.6 946.4,860.7 945.8,861.9 945.2,863.0 944.7,864.2 944.1,865.3 943.6,866.5 943.1,867.8 942.5,869.0 942.0,870.3 941.4,871.6 940.9,873.0 940.4,874.4 939.8,875.9 939.3,877.4 938.7,879.0 938.2,880.7 937.6,882.4 937.1,884.1 936.5,885.8 935.9,887.5 935.4,889.2 934.8,890.9 934.3,892.6 933.7,894.3 933.2,895.9 932.6,897.6 932.1,899.2 931.5,900.9 931.0,902.6 930.4,904.3 929.9,905.9 929.3,907.5 928.8,909.1 928.2,910.6 927.7,912.0 927.1,913.3 926.6,914.6 926.0,915.8 925.5,917.0 924.9,918.1 924.4,919.2 923.8,920.2 923.3,921.1 922.7,922.0 922.2,922.9 921.6,923.7 921.0,924.4 920.4,925.0 919.8,925.6 919.3,926.0 918.9,926.4 918.4,926.8 917.9,927.0 917.4,927.2 916.8,927.4 916.2,927.5 915.5,927.5 914.7,927.5 913.7,927.5 912.6,927.5 911.4,927.5 910.1,927.4 908.8,927.3 907.4,927.1 905.9,927.0 904.3,926.8Z" fill="#c81e82" stroke="#c81e82" stroke-width="1.3" stroke-linejoin="round"/>
<path d="M950.3,834.6C951.7,833.6 954.4,830.8 958.6,828.8C962.7,826.7 969.6,824.2 975.1,822.2C980.6,820.1 986.1,818.0 991.6,816.4C997.2,814.7 1001.8,813.5 1008.2,812.2C1014.5,811.0 1026.1,809.5 1029.7,808.9" fill="none" stroke="#c81e82" stroke-width="1.3" stroke-opacity="0.8" stroke-linecap="round" stroke-linejoin="round"/>
<path d="M949.8,833.9 950.2,833.6 950.6,833.3 951.1,832.9 951.6,832.5 952.2,832.0 952.9,831.4 953.6,830.9 954.4,830.3 955.3,829.8 956.3,829.3 957.3,828.8 958.3,828.3 959.5,827.8 960.7,827.3 962.0,826.9 963.4,826.4 964.8,825.9 966.3,825.4 966.3,825.5 964.9,826.2 963.6,826.8 962.2,827.4 961.0,828.1 959.9,828.7 958.8,829.3 957.9,829.8 957.0,830.4 956.1,831.0 955.3,831.6 954.6,832.2 953.9,832.7 953.2,833.2 952.6,833.7 952.1,834.2 951.6,834.6 951.2,834.9 950.8,835.2Z" fill="#c81e82" stroke="#c81e82" stroke-width="1.3" stroke-linejoin="round"/>
<path d="M844.5,922.2C847.9,923.2 857.6,925.8 865.1,928.0C872.7,930.2 882.8,933.4 889.9,935.4C897.1,937.5 903.7,939.8 908.1,940.4C912.5,940.9 913.9,940.8 916.4,938.7C918.9,936.7 920.8,932.5 923.0,928.0C925.2,923.4 927.7,916.7 929.6,911.5C931.6,906.2 932.7,901.0 934.6,896.6C936.5,892.2 938.7,888.6 941.2,885.0C943.7,881.4 946.4,877.1 949.5,875.1C952.5,873.0 954.2,873.0 959.4,872.6C964.6,872.2 974.6,872.2 980.9,872.6C987.2,873.0 991.9,874.4 997.4,875.1C1002.9,875.8 1008.5,876.2 1014.0,876.7C1019.5,877.3 1027.8,878.1 1030.5,878.4" fill="none" stroke="#168080" stroke-width="1.3" stroke-opacity="0.8" stroke-linecap="round" stroke-linejoin="round"/>
<path d="M901.7,938.6 903.2,938.8 904.6,938.8 906.0,938.9 907.2,938.9 908.3,938.9 909.4,938.8 910.3,938.7 911.0,938.6 911.6,938.5 912.1,938.3 912.5,938.1 912.8,937.9 913.1,937.8 913.4,937.7 913.8,937.4 914.2,937.1 914.7,936.8 915.2,936.3 915.6,935.9 916.1,935.3 916.6,934.6 917.1,933.8 917.6,933.0 918.1,932.1 918.6,931.1 919.1,930.1 919.6,929.1 920.1,928.0 920.7,926.9 921.2,925.7 921.8,924.5 922.3,923.2 922.9,921.9 923.4,920.5 924.0,919.0 924.6,917.6 925.1,916.1 925.7,914.7 926.2,913.3 926.7,911.9 927.2,910.6 927.6,909.3 928.1,908.0 928.5,906.8 928.9,905.5 929.2,904.2 929.6,903.0 930.0,901.7 930.4,900.4 930.8,899.2 931.2,897.9 931.7,896.7 932.2,895.5 932.7,894.4 933.2,893.3 933.8,892.2 934.3,891.2 934.9,890.2 935.4,889.2 936.0,888.2 936.6,887.2 937.2,886.3 937.8,885.4 938.4,884.4 939.1,883.5 939.7,882.6 940.3,881.7 941.0,880.7 941.7,879.8 942.4,878.8 943.1,877.9 943.8,876.9 944.6,876.0 945.4,875.2 946.2,874.4 947.1,873.6 948.0,872.9 948.8,872.4 949.7,872.0 950.6,871.7 951.5,871.5 952.3,871.4 953.2,871.3 954.1,871.3 955.0,871.3 955.9,871.4 956.9,871.5 958.1,871.6 959.3,871.7 960.8,871.9 962.4,872.1 962.4,872.7 960.8,873.1 959.5,873.5 958.2,873.8 957.2,874.1 956.2,874.3 955.4,874.6 954.6,874.9 954.0,875.1 953.5,875.4 953.0,875.7 952.5,876.0 952.1,876.4 951.6,876.8 951.0,877.2 950.4,877.7 949.7,878.2 949.1,878.8 948.5,879.5 947.8,880.3 947.2,881.1 946.5,881.9 945.9,882.8 945.2,883.7 944.6,884.6 944.0,885.6 943.3,886.5 942.7,887.4 942.2,888.2 941.6,889.1 941.0,890.0 940.5,890.9 939.9,891.8 939.4,892.7 938.9,893.6 938.4,894.6 937.9,895.6 937.4,896.6 937.0,897.6 936.5,898.7 936.1,899.7 935.7,900.9 935.4,902.0 935.0,903.2 934.6,904.5 934.2,905.7 933.8,907.0 933.4,908.3 933.0,909.6 932.6,911.0 932.1,912.3 931.6,913.7 931.1,915.1 930.5,916.5 930.0,918.0 929.4,919.5 928.8,920.9 928.3,922.4 927.7,923.8 927.1,925.2 926.5,926.6 925.9,927.9 925.4,929.1 924.8,930.3 924.3,931.4 923.7,932.5 923.2,933.5 922.6,934.6 922.1,935.6 921.5,936.6 920.9,937.5 920.2,938.4 919.6,939.2 918.8,940.0 918.1,940.7 917.4,941.3 916.7,941.8 915.9,942.2 915.1,942.6 914.3,942.9 913.4,943.0 912.6,943.0 911.7,942.9 910.9,942.7 909.9,942.5 909.0,942.3 907.9,941.9 906.8,941.5 905.5,941.1 904.2,940.5 902.9,939.9 901.5,939.2Z" fill="#168080" stroke="#168080" stroke-width="1.3" stroke-linejoin="round"/>
<path d="M818.5,804.0 V941.8 H1049.0 V938.8" fill="none" stroke="#1a1a1a" stroke-width="1.7"/>
<line x1="818.5" y1="922.2" x2="821.7" y2="922.2" stroke="#1a1a1a" stroke-width="1.7"/>
<text x="810.0" y="931.1" font-size="33.5" text-anchor="end" transform="matrix(1 0 0 1 0.00 0.00)">0</text>
<line x1="818.5" y1="878.7" x2="821.7" y2="878.7" stroke="#1a1a1a" stroke-width="1.7"/>
<text x="810.0" y="887.6" font-size="33.5" text-anchor="end" transform="matrix(1 0 0 1 0.00 0.00)">0.1</text>
<line x1="818.5" y1="835.2" x2="821.7" y2="835.2" stroke="#1a1a1a" stroke-width="1.7"/>
<text x="810.0" y="844.1" font-size="33.5" text-anchor="end" transform="matrix(1 0 0 1 0.00 0.00)">0.2</text>
<line x1="933.8" y1="941.8" x2="933.8" y2="938.6" stroke="#1a1a1a" stroke-width="1.7"/>
<text x="933.8" y="972.1" font-size="33.5" text-anchor="middle" transform="matrix(1 0 0 1 0.00 0.00)">0</text>
<text x="1049.0" y="972.1" font-size="33.5" text-anchor="middle" transform="matrix(1 0 0 1 0.00 0.00)">50</text>
<text x="817.2" y="972.1" font-size="33.5" text-anchor="middle" transform="matrix(1 0 0 1 0.00 0.00)">50</text>
<rect x="784.2" y="963.4" width="17.5" height="1.6" fill="#000"/>
<text x="933.2" y="790.4" font-size="33.5" text-anchor="middle" transform="matrix(1 0 0 1 0.00 0.00)">Exp 15</text>
<text x="753.5" y="788.4" font-size="40.5" text-anchor="middle">(<tspan font-style="italic" dx="0">o</tspan><tspan dx="0">)</tspan></text>
<path d="M1200.3,913.1C1203.9,913.3 1214.2,914.0 1222.0,914.4C1229.7,914.8 1239.9,915.4 1246.8,915.6C1253.6,915.8 1259.2,916.3 1263.3,915.6C1267.4,914.9 1269.1,914.1 1271.6,911.5C1274.0,908.8 1276.0,904.8 1278.2,899.9C1280.4,894.9 1282.9,887.8 1284.8,881.7C1286.7,875.6 1288.1,869.6 1289.8,863.5C1291.4,857.4 1292.8,851.6 1294.7,845.3C1296.6,839.0 1298.9,830.4 1301.3,825.5C1303.8,820.5 1306.3,817.9 1309.6,815.5C1312.9,813.2 1316.5,812.9 1321.2,811.4C1325.9,809.9 1332.2,807.6 1337.7,806.4C1343.2,805.3 1346.1,804.7 1354.3,804.3C1362.4,803.9 1381.0,804.0 1386.3,804.0" fill="none" stroke="#416482" stroke-width="2.4" stroke-opacity="0.8" stroke-linecap="round" stroke-linejoin="round"/>
<path d="M1256.1,915.8 1257.4,915.8 1258.7,915.7 1259.9,915.5 1261.1,915.4 1262.2,915.2 1263.2,915.0 1264.1,914.7 1265.0,914.5 1265.8,914.2 1266.4,914.0 1267.1,913.7 1267.6,913.4 1268.1,913.1 1268.7,912.7 1269.2,912.3 1269.7,911.9 1270.3,911.4 1270.8,910.8 1271.4,910.1 1272.0,909.4 1272.5,908.7 1273.0,907.9 1273.6,907.0 1274.1,906.1 1274.6,905.1 1275.1,904.1 1275.7,903.0 1276.2,901.9 1276.7,900.7 1277.3,899.5 1277.8,898.2 1278.4,896.9 1278.9,895.4 1279.5,894.0 1280.1,892.4 1280.6,890.9 1281.2,889.3 1281.8,887.7 1282.3,886.1 1282.8,884.5 1283.3,882.9 1283.8,881.4 1284.3,879.9 1284.8,878.4 1285.2,876.9 1285.6,875.4 1286.0,873.9 1286.4,872.3 1286.8,870.8 1287.2,869.3 1287.6,867.8 1288.0,866.3 1288.4,864.8 1288.8,863.2 1289.2,861.7 1289.6,860.2 1290.0,858.7 1290.4,857.2 1290.8,855.7 1291.2,854.2 1291.6,852.7 1292.0,851.2 1292.4,849.7 1292.8,848.2 1293.3,846.6 1293.8,845.0 1294.2,843.4 1294.7,841.7 1295.3,839.9 1295.8,838.2 1296.3,836.4 1296.9,834.6 1297.4,832.8 1298.0,831.1 1298.6,829.4 1299.2,827.8 1299.8,826.4 1300.4,825.0 1301.1,823.8 1301.7,822.7 1302.4,821.6 1303.0,820.6 1303.7,819.7 1304.4,818.9 1305.1,818.1 1305.8,817.3 1306.6,816.6 1307.4,816.0 1308.2,815.3 1309.1,814.8 1310.0,814.3 1310.9,813.8 1311.9,813.5 1312.8,813.1 1313.8,812.9 1314.7,812.7 1315.7,812.5 1316.7,812.3 1317.8,812.1 1318.9,811.9 1320.0,811.6 1320.1,811.9 1319.0,812.3 1317.9,812.6 1316.9,813.0 1316.0,813.3 1315.0,813.7 1314.1,814.0 1313.3,814.4 1312.4,814.8 1311.6,815.2 1310.9,815.7 1310.1,816.3 1309.4,816.9 1308.6,817.5 1307.9,818.1 1307.2,818.8 1306.6,819.4 1305.9,820.2 1305.3,820.9 1304.7,821.8 1304.0,822.7 1303.4,823.7 1302.8,824.7 1302.2,825.9 1301.6,827.2 1301.0,828.6 1300.5,830.1 1299.9,831.7 1299.3,833.4 1298.8,835.2 1298.2,836.9 1297.7,838.7 1297.2,840.5 1296.7,842.3 1296.2,844.0 1295.7,845.6 1295.2,847.2 1294.8,848.7 1294.3,850.2 1293.9,851.8 1293.5,853.3 1293.1,854.8 1292.7,856.3 1292.3,857.7 1291.9,859.2 1291.5,860.7 1291.1,862.2 1290.7,863.8 1290.3,865.3 1289.9,866.8 1289.5,868.3 1289.1,869.8 1288.7,871.3 1288.3,872.8 1287.9,874.4 1287.5,875.9 1287.1,877.4 1286.7,878.9 1286.2,880.5 1285.7,882.0 1285.3,883.5 1284.7,885.1 1284.2,886.7 1283.7,888.3 1283.1,889.9 1282.5,891.5 1282.0,893.1 1281.4,894.7 1280.8,896.2 1280.2,897.6 1279.7,899.0 1279.1,900.3 1278.5,901.5 1278.0,902.7 1277.5,903.8 1276.9,904.9 1276.4,906.0 1275.9,907.0 1275.3,908.0 1274.7,908.9 1274.2,909.8 1273.6,910.6 1272.9,911.4 1272.3,912.1 1271.7,912.8 1271.0,913.4 1270.4,913.9 1269.8,914.4 1269.2,914.8 1268.5,915.1 1267.8,915.4 1267.0,915.6 1266.2,915.8 1265.3,916.0 1264.4,916.1 1263.4,916.2 1262.3,916.3 1261.1,916.3 1260.0,916.3 1258.7,916.2 1257.4,916.1 1256.1,916.0Z" fill="#416482" stroke="#416482" stroke-width="1.3" stroke-linejoin="round"/>
<path d="M1302.0,837.0C1303.1,835.5 1305.3,829.7 1308.6,827.9C1311.9,826.1 1316.9,826.4 1321.8,826.3C1326.8,826.1 1332.9,826.7 1338.4,827.1C1343.9,827.5 1349.4,828.1 1354.9,828.8C1360.4,829.5 1366.2,830.4 1371.5,831.2C1376.7,832.1 1383.9,833.3 1386.3,833.7" fill="none" stroke="#6e4282" stroke-width="1.3" stroke-opacity="0.8" stroke-linecap="round" stroke-linejoin="round"/>
<path d="M1301.3,836.6 1301.6,836.2 1301.9,835.6 1302.3,834.9 1302.8,834.0 1303.2,833.1 1303.8,832.2 1304.4,831.2 1305.0,830.3 1305.7,829.4 1306.5,828.6 1307.3,827.8 1308.2,827.2 1309.2,826.8 1310.2,826.5 1311.2,826.3 1312.3,826.1 1313.4,826.0 1314.6,826.0 1315.7,826.0 1316.9,826.0 1318.1,826.1 1319.4,826.1 1320.6,826.2 1321.8,826.2 1321.8,826.4 1320.6,826.5 1319.4,826.6 1318.1,826.7 1316.9,826.7 1315.8,826.9 1314.6,827.0 1313.5,827.2 1312.5,827.4 1311.5,827.6 1310.6,827.9 1309.8,828.3 1309.0,828.6 1308.3,829.1 1307.6,829.7 1306.9,830.4 1306.3,831.2 1305.7,832.1 1305.2,833.0 1304.6,833.9 1304.2,834.8 1303.7,835.6 1303.3,836.3 1303.0,837.0 1302.7,837.5Z" fill="#6e4282" stroke="#6e4282" stroke-width="1.3" stroke-linejoin="round"/>
<path d="M1200.3,913.1C1203.3,915.0 1211.5,921.2 1218.6,924.7C1225.8,928.1 1236.0,931.2 1243.5,933.8C1250.9,936.4 1258.6,939.7 1263.3,940.4C1268.0,941.1 1269.1,940.5 1271.6,937.9C1274.0,935.3 1276.0,930.2 1278.2,924.7C1280.4,919.2 1282.6,911.5 1284.8,904.8C1287.0,898.2 1289.2,891.3 1291.4,885.0C1293.6,878.7 1295.5,871.8 1298.0,866.8C1300.5,861.8 1303.0,857.8 1306.3,855.2C1309.6,852.7 1313.2,852.2 1317.9,851.6C1322.6,851.0 1328.9,851.4 1334.4,851.6C1339.9,851.8 1345.4,852.0 1350.9,852.7C1356.5,853.5 1361.6,855.1 1367.5,856.1C1373.4,857.0 1383.2,858.1 1386.3,858.5" fill="none" stroke="#962d82" stroke-width="2.0" stroke-opacity="0.8" stroke-linecap="round" stroke-linejoin="round"/>
<path d="M1254.4,937.8 1256.2,938.1 1257.9,938.4 1259.5,938.6 1261.0,938.8 1262.3,938.9 1263.5,938.9 1264.6,938.9 1265.5,938.8 1266.2,938.7 1266.8,938.5 1267.2,938.4 1267.6,938.3 1267.9,938.2 1268.2,938.0 1268.5,937.8 1268.9,937.4 1269.4,937.0 1269.9,936.4 1270.5,935.8 1270.9,935.2 1271.5,934.4 1272.0,933.5 1272.5,932.5 1273.0,931.5 1273.5,930.3 1274.0,929.1 1274.5,927.9 1275.1,926.6 1275.6,925.2 1276.1,923.9 1276.7,922.5 1277.2,921.0 1277.8,919.5 1278.3,917.9 1278.8,916.2 1279.4,914.5 1279.9,912.8 1280.5,911.0 1281.0,909.3 1281.6,907.6 1282.2,905.8 1282.7,904.2 1283.3,902.5 1283.8,900.8 1284.4,899.2 1284.9,897.5 1285.5,895.8 1286.0,894.1 1286.6,892.5 1287.1,890.8 1287.7,889.1 1288.2,887.5 1288.8,885.9 1289.3,884.3 1289.9,882.7 1290.4,881.1 1290.9,879.5 1291.5,877.9 1292.0,876.3 1292.5,874.7 1293.1,873.1 1293.6,871.6 1294.2,870.0 1294.8,868.6 1295.4,867.2 1296.1,865.8 1296.7,864.6 1297.3,863.4 1298.0,862.2 1298.6,861.0 1299.3,859.9 1300.0,858.9 1300.8,857.8 1301.5,856.9 1302.3,855.9 1303.2,855.1 1304.0,854.2 1305.0,853.5 1305.9,852.8 1307.0,852.4 1308.0,852.0 1309.1,851.7 1310.1,851.5 1311.2,851.3 1312.3,851.2 1313.3,851.2 1314.4,851.1 1315.5,851.2 1316.6,851.2 1317.8,851.2 1319.1,851.3 1319.1,851.7 1317.9,852.0 1316.8,852.3 1315.7,852.6 1314.7,853.0 1313.7,853.3 1312.8,853.7 1311.9,854.0 1311.1,854.4 1310.4,854.9 1309.6,855.4 1309.0,855.9 1308.3,856.4 1307.6,857.0 1306.9,857.5 1306.3,858.2 1305.6,858.9 1304.9,859.6 1304.3,860.5 1303.7,861.4 1303.0,862.3 1302.4,863.3 1301.8,864.3 1301.2,865.4 1300.6,866.6 1300.0,867.8 1299.4,869.0 1298.9,870.3 1298.3,871.7 1297.8,873.1 1297.2,874.6 1296.7,876.1 1296.2,877.7 1295.6,879.3 1295.1,880.9 1294.6,882.5 1294.0,884.1 1293.5,885.7 1292.9,887.3 1292.4,888.9 1291.8,890.5 1291.3,892.2 1290.7,893.8 1290.2,895.5 1289.6,897.2 1289.1,898.9 1288.5,900.5 1288.0,902.2 1287.4,903.9 1286.9,905.5 1286.3,907.2 1285.8,908.9 1285.2,910.6 1284.7,912.4 1284.1,914.1 1283.6,915.8 1283.0,917.6 1282.5,919.3 1281.9,920.9 1281.4,922.5 1280.8,924.0 1280.2,925.5 1279.7,926.9 1279.1,928.2 1278.6,929.5 1278.1,930.8 1277.5,932.1 1277.0,933.3 1276.4,934.5 1275.8,935.6 1275.2,936.7 1274.6,937.7 1273.9,938.6 1273.2,939.4 1272.5,940.1 1271.9,940.7 1271.2,941.2 1270.5,941.7 1269.8,942.2 1268.9,942.5 1268.1,942.7 1267.1,942.7 1266.2,942.6 1265.2,942.5 1264.2,942.2 1263.1,941.9 1261.8,941.5 1260.4,940.9 1259.0,940.3 1257.5,939.5 1256.0,938.7 1254.4,937.9Z" fill="#962d82" stroke="#962d82" stroke-width="1.3" stroke-linejoin="round"/>
<path d="M1200.3,913.1C1203.9,914.5 1214.2,918.9 1222.0,921.4C1229.7,923.9 1239.6,926.3 1246.8,928.0C1253.9,929.6 1260.5,931.3 1264.9,931.3C1269.4,931.3 1270.7,930.7 1273.2,928.0C1275.7,925.2 1277.6,920.6 1279.8,914.8C1282.0,909.0 1284.2,900.4 1286.4,893.3C1288.7,886.1 1290.9,878.7 1293.1,871.8C1295.3,864.9 1297.5,857.2 1299.7,851.9C1301.9,846.7 1303.5,843.4 1306.3,840.3C1309.0,837.3 1312.4,835.2 1316.2,833.7C1320.1,832.2 1324.5,831.9 1329.4,831.2C1334.4,830.6 1340.5,829.9 1346.0,829.6C1351.5,829.3 1355.8,829.5 1362.5,829.6C1369.2,829.7 1382.4,830.0 1386.3,830.1" fill="none" stroke="#c81e82" stroke-width="1.8" stroke-opacity="0.8" stroke-linecap="round" stroke-linejoin="round"/>
<path d="M1256.9,930.2 1258.4,930.4 1259.9,930.6 1261.3,930.8 1262.6,930.9 1263.8,930.9 1265.0,930.9 1266.0,930.8 1266.9,930.8 1267.7,930.6 1268.4,930.5 1269.0,930.3 1269.6,930.1 1270.1,929.9 1270.6,929.6 1271.1,929.2 1271.6,928.8 1272.2,928.2 1272.8,927.6 1273.4,926.9 1273.9,926.1 1274.5,925.3 1275.0,924.3 1275.6,923.3 1276.1,922.3 1276.6,921.1 1277.1,919.9 1277.7,918.7 1278.2,917.3 1278.7,916.0 1279.3,914.6 1279.8,913.1 1280.4,911.5 1280.9,909.8 1281.5,908.0 1282.0,906.2 1282.6,904.4 1283.1,902.5 1283.7,900.6 1284.2,898.7 1284.8,896.8 1285.3,894.9 1285.9,893.1 1286.4,891.3 1287.0,889.5 1287.5,887.7 1288.1,885.9 1288.6,884.0 1289.2,882.2 1289.7,880.4 1290.3,878.6 1290.8,876.8 1291.4,875.1 1291.9,873.3 1292.5,871.6 1293.0,869.8 1293.6,868.1 1294.1,866.3 1294.7,864.5 1295.2,862.8 1295.8,861.0 1296.4,859.3 1296.9,857.7 1297.5,856.1 1298.0,854.5 1298.6,853.1 1299.1,851.7 1299.7,850.4 1300.2,849.2 1300.7,848.1 1301.2,847.0 1301.7,846.0 1302.3,845.0 1302.8,844.1 1303.3,843.2 1303.9,842.3 1304.5,841.5 1305.2,840.7 1305.8,839.9 1306.6,839.2 1307.3,838.5 1308.1,837.8 1308.9,837.1 1309.7,836.5 1310.5,836.0 1311.4,835.5 1312.3,835.0 1313.2,834.6 1314.2,834.2 1315.1,833.8 1316.1,833.4 1317.1,833.1 1318.1,832.9 1319.2,832.6 1320.2,832.4 1321.3,832.3 1321.3,832.4 1320.3,832.7 1319.3,833.0 1318.2,833.3 1317.3,833.6 1316.3,834.0 1315.4,834.4 1314.5,834.9 1313.6,835.4 1312.8,835.9 1311.9,836.4 1311.1,836.9 1310.4,837.5 1309.6,838.1 1308.9,838.7 1308.1,839.3 1307.4,840.0 1306.7,840.7 1306.1,841.5 1305.5,842.3 1304.9,843.0 1304.3,843.9 1303.8,844.7 1303.3,845.6 1302.8,846.5 1302.3,847.5 1301.8,848.6 1301.3,849.7 1300.8,850.9 1300.2,852.2 1299.7,853.5 1299.1,854.9 1298.6,856.5 1298.0,858.1 1297.5,859.7 1296.9,861.4 1296.4,863.1 1295.8,864.9 1295.3,866.7 1294.7,868.4 1294.2,870.2 1293.6,871.9 1293.1,873.7 1292.5,875.4 1292.0,877.2 1291.4,879.0 1290.9,880.8 1290.3,882.6 1289.8,884.4 1289.2,886.2 1288.7,888.0 1288.1,889.8 1287.6,891.6 1287.0,893.4 1286.5,895.3 1285.9,897.1 1285.4,899.0 1284.8,900.9 1284.3,902.8 1283.7,904.7 1283.2,906.6 1282.6,908.4 1282.1,910.2 1281.5,911.8 1280.9,913.5 1280.4,915.0 1279.8,916.4 1279.3,917.8 1278.8,919.1 1278.2,920.4 1277.7,921.6 1277.2,922.8 1276.6,923.9 1276.1,924.9 1275.5,925.9 1274.9,926.8 1274.3,927.6 1273.7,928.4 1273.0,929.1 1272.5,929.6 1271.9,930.1 1271.3,930.6 1270.7,930.9 1270.0,931.2 1269.3,931.5 1268.6,931.6 1267.8,931.7 1267.0,931.7 1266.0,931.7 1264.9,931.7 1263.8,931.6 1262.5,931.5 1261.2,931.3 1259.8,931.0 1258.4,930.7 1256.9,930.3Z" fill="#c81e82" stroke="#c81e82" stroke-width="1.3" stroke-linejoin="round"/>
<path d="M1200.3,913.1C1203.3,913.7 1211.5,915.3 1218.6,916.4C1225.8,917.5 1235.7,918.8 1243.5,919.7C1251.2,920.7 1260.0,922.5 1264.9,922.2C1269.9,921.9 1270.7,921.2 1273.2,918.1C1275.7,914.9 1277.6,909.0 1279.8,903.2C1282.0,897.4 1284.5,889.7 1286.4,883.3C1288.4,877.0 1289.8,871.2 1291.4,865.2C1293.1,859.1 1294.4,852.7 1296.4,847.0C1298.3,841.2 1300.5,834.6 1303.0,830.4C1305.5,826.3 1307.4,824.4 1311.3,822.2C1315.1,819.9 1320.9,818.3 1326.1,817.2C1331.4,816.0 1337.2,815.5 1342.7,815.2C1348.2,814.9 1351.9,815.2 1359.2,815.2C1366.5,815.3 1381.8,815.5 1386.3,815.5" fill="none" stroke="#168080" stroke-width="2.4" stroke-opacity="0.8" stroke-linecap="round" stroke-linejoin="round"/>
<path d="M1255.3,921.3 1257.2,921.2 1259.0,921.1 1260.7,921.0 1262.2,920.9 1263.6,920.7 1264.9,920.4 1265.9,920.2 1266.8,919.9 1267.6,919.6 1268.1,919.5 1268.6,919.4 1268.9,919.2 1269.3,919.0 1269.6,918.7 1269.9,918.4 1270.4,917.9 1270.8,917.4 1271.4,916.7 1271.9,915.9 1272.4,915.1 1272.9,914.2 1273.5,913.1 1274.0,912.0 1274.5,910.7 1275.0,909.4 1275.5,908.1 1276.1,906.7 1276.6,905.3 1277.1,903.8 1277.7,902.4 1278.2,900.9 1278.8,899.4 1279.4,897.8 1279.9,896.1 1280.5,894.5 1281.1,892.8 1281.6,891.0 1282.2,889.3 1282.7,887.6 1283.2,885.9 1283.8,884.3 1284.2,882.7 1284.7,881.1 1285.2,879.6 1285.6,878.1 1286.0,876.6 1286.4,875.0 1286.8,873.6 1287.2,872.1 1287.6,870.6 1288.0,869.1 1288.4,867.6 1288.8,866.1 1289.2,864.6 1289.6,863.0 1290.0,861.5 1290.4,860.0 1290.8,858.5 1291.2,856.9 1291.6,855.4 1292.0,853.8 1292.4,852.3 1292.8,850.8 1293.2,849.2 1293.7,847.7 1294.2,846.2 1294.7,844.8 1295.2,843.3 1295.7,841.8 1296.2,840.2 1296.8,838.7 1297.3,837.3 1297.9,835.8 1298.5,834.4 1299.1,833.0 1299.7,831.7 1300.3,830.4 1301.0,829.3 1301.7,828.2 1302.3,827.2 1302.9,826.3 1303.6,825.5 1304.3,824.7 1305.0,823.9 1305.7,823.2 1306.5,822.6 1307.3,821.9 1308.2,821.3 1309.2,820.8 1310.3,820.4 1311.4,820.0 1312.7,819.6 1313.9,819.3 1315.2,819.0 1316.6,818.8 1317.9,818.5 1319.3,818.4 1320.7,818.2 1322.1,818.1 1322.2,818.2 1320.9,818.8 1319.6,819.4 1318.4,820.0 1317.2,820.6 1316.1,821.3 1315.0,821.9 1314.0,822.6 1313.1,823.2 1312.2,823.9 1311.5,824.6 1310.7,825.2 1310.0,825.7 1309.4,826.1 1308.8,826.7 1308.2,827.2 1307.7,827.8 1307.2,828.4 1306.6,829.1 1306.1,829.8 1305.5,830.7 1305.0,831.6 1304.4,832.6 1303.8,833.7 1303.3,834.9 1302.7,836.2 1302.2,837.5 1301.6,838.9 1301.1,840.3 1300.6,841.8 1300.0,843.3 1299.5,844.7 1299.0,846.2 1298.6,847.7 1298.1,849.1 1297.7,850.6 1297.2,852.0 1296.8,853.5 1296.4,855.0 1296.0,856.5 1295.6,858.1 1295.2,859.6 1294.8,861.1 1294.4,862.7 1294.0,864.2 1293.6,865.7 1293.2,867.3 1292.8,868.8 1292.4,870.2 1292.0,871.7 1291.7,873.2 1291.3,874.7 1290.9,876.2 1290.4,877.8 1290.0,879.3 1289.6,880.8 1289.1,882.4 1288.6,884.0 1288.2,885.6 1287.6,887.3 1287.1,889.0 1286.6,890.7 1286.0,892.5 1285.4,894.2 1284.9,895.9 1284.3,897.6 1283.7,899.3 1283.1,900.9 1282.5,902.5 1282.0,904.0 1281.4,905.4 1280.9,906.9 1280.4,908.3 1279.8,909.7 1279.3,911.1 1278.8,912.5 1278.2,913.8 1277.6,915.1 1277.0,916.3 1276.4,917.4 1275.7,918.5 1275.1,919.5 1274.4,920.3 1273.8,921.0 1273.2,921.6 1272.6,922.2 1271.9,922.8 1271.1,923.3 1270.2,923.6 1269.4,923.9 1268.4,924.1 1267.4,924.1 1266.3,924.1 1265.0,924.0 1263.6,923.8 1262.1,923.5 1260.5,923.1 1258.8,922.7 1257.0,922.2 1255.2,921.6Z" fill="#168080" stroke="#168080" stroke-width="1.3" stroke-linejoin="round"/>
<path d="M1173.4,804.0 V941.8 H1403.9 V938.8" fill="none" stroke="#1a1a1a" stroke-width="1.7"/>
<line x1="1173.4" y1="913.4" x2="1176.6" y2="913.4" stroke="#1a1a1a" stroke-width="1.7"/>
<text x="1164.9" y="922.3" font-size="33.5" text-anchor="end" transform="matrix(1 0 0 1 0.00 0.00)">0</text>
<line x1="1173.4" y1="860.4" x2="1176.6" y2="860.4" stroke="#1a1a1a" stroke-width="1.7"/>
<text x="1164.9" y="869.3" font-size="33.5" text-anchor="end" transform="matrix(1 0 0 1 0.00 0.00)">0.1</text>
<line x1="1173.4" y1="807.4" x2="1176.6" y2="807.4" stroke="#1a1a1a" stroke-width="1.7"/>
<text x="1164.9" y="816.3" font-size="33.5" text-anchor="end" transform="matrix(1 0 0 1 0.00 0.00)">0.2</text>
<line x1="1288.7" y1="941.8" x2="1288.7" y2="938.6" stroke="#1a1a1a" stroke-width="1.7"/>
<text x="1288.7" y="972.1" font-size="33.5" text-anchor="middle" transform="matrix(1 0 0 1 0.00 0.00)">0</text>
<text x="1403.9" y="972.1" font-size="33.5" text-anchor="middle" transform="matrix(1 0 0 1 0.00 0.00)">50</text>
<text x="1172.1" y="972.1" font-size="33.5" text-anchor="middle" transform="matrix(1 0 0 1 0.00 0.00)">50</text>
<rect x="1139.1" y="963.4" width="17.5" height="1.6" fill="#000"/>
<text x="1288.2" y="790.4" font-size="33.5" text-anchor="middle" transform="matrix(1 0 0 1 0.00 0.00)">Exp 16</text>
<text x="1098.0" y="787.1" font-size="40.5" text-anchor="middle">(<tspan font-style="italic" dx="7">p</tspan><tspan dx="0.5">)</tspan></text>
<text transform="translate(37.2,873.9) rotate(-90)" font-size="40.5" text-anchor="middle"><tspan font-style="italic">x</tspan><tspan font-style="italic" font-size="28.5" dy="9" dx="-0.5">p</tspan><tspan dy="-9" dx="1"> (m)</tspan></text>
<text x="232.2" y="1015.2" font-size="40.5" text-anchor="middle"><tspan font-style="italic">t</tspan> (s)</text>
<text x="589.0" y="1015.2" font-size="40.5" text-anchor="middle"><tspan font-style="italic">t</tspan> (s)</text>
<text x="942.8" y="1015.2" font-size="40.5" text-anchor="middle"><tspan font-style="italic">t</tspan> (s)</text>
<text x="1298.5" y="1015.2" font-size="40.5" text-anchor="middle"><tspan font-style="italic">t</tspan> (s)</text>
</svg></body></html>
